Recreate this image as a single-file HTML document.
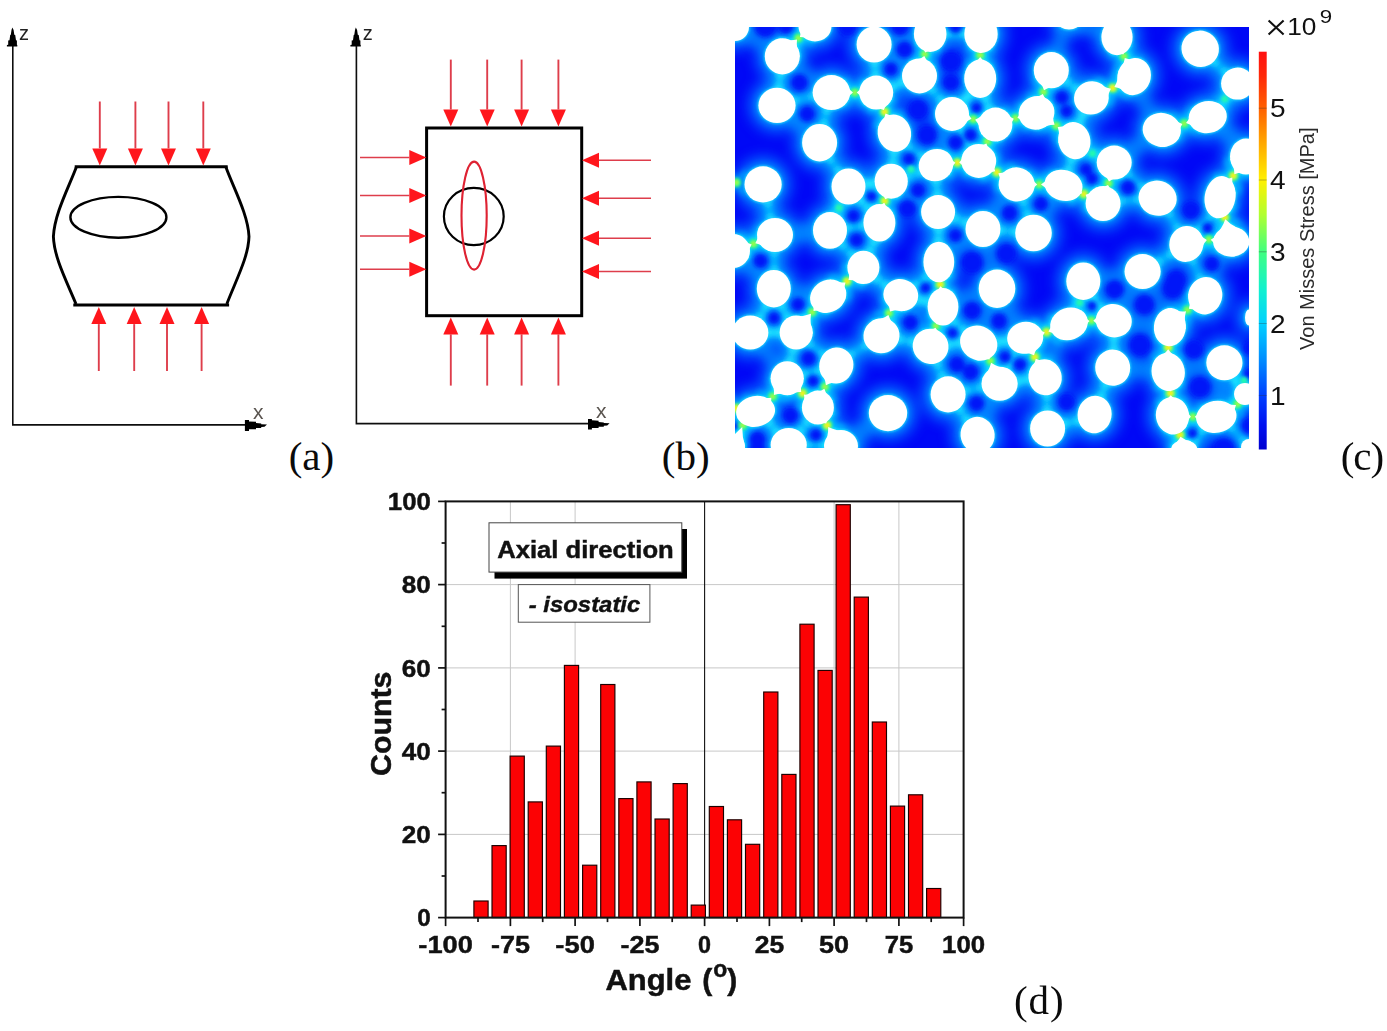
<!DOCTYPE html>
<html><head><meta charset="utf-8"><title>Figure</title>
<style>html,body{margin:0;padding:0;background:#fff;}body{width:1387px;height:1031px;overflow:hidden;font-family:"Liberation Sans", sans-serif;}svg{display:block;}text{font-family:"Liberation Sans", sans-serif;}.ser{font-family:"Liberation Serif", serif;}</style>
</head><body>
<svg width="1387" height="1031" viewBox="0 0 1387 1031">
<defs>
<clipPath id="hm"><rect x="735" y="27" width="514" height="421"/></clipPath>
<filter id="b1" x="-20%" y="-20%" width="140%" height="140%"><feGaussianBlur stdDeviation="6.5"/></filter>
<filter id="b2" x="-20%" y="-20%" width="140%" height="140%"><feGaussianBlur stdDeviation="3.3"/></filter>
<filter id="b3" x="-20%" y="-20%" width="140%" height="140%"><feGaussianBlur stdDeviation="0.6"/></filter>
<filter id="b4" x="-50%" y="-50%" width="200%" height="200%"><feGaussianBlur stdDeviation="1.6"/></filter>
<filter id="b5" x="-20%" y="-20%" width="140%" height="140%"><feGaussianBlur stdDeviation="1.05"/></filter>
<filter id="b6" x="-20%" y="-20%" width="140%" height="140%"><feGaussianBlur stdDeviation="2"/></filter>
<filter id="b7" x="-20%" y="-20%" width="140%" height="140%"><feGaussianBlur stdDeviation="2.4"/></filter>
<filter id="b8" x="-20%" y="-20%" width="140%" height="140%"><feGaussianBlur stdDeviation="4"/></filter>
<filter id="soft" x="-5%" y="-5%" width="110%" height="110%"><feGaussianBlur stdDeviation="0.45"/></filter>
<linearGradient id="cb" x1="0" y1="1" x2="0" y2="0">
<stop offset="0" stop-color="#0000d0"/>
<stop offset="0.06" stop-color="#0010f0"/>
<stop offset="0.136" stop-color="#0040ff"/>
<stop offset="0.23" stop-color="#0090ff"/>
<stop offset="0.316" stop-color="#00d0ff"/>
<stop offset="0.4" stop-color="#10f0d0"/>
<stop offset="0.497" stop-color="#40ff80"/>
<stop offset="0.59" stop-color="#b0ff30"/>
<stop offset="0.677" stop-color="#fff000"/>
<stop offset="0.77" stop-color="#ffa800"/>
<stop offset="0.858" stop-color="#ff6000"/>
<stop offset="0.94" stop-color="#ff2808"/>
<stop offset="1" stop-color="#ff1010"/>
</linearGradient>
</defs>
<rect x="0" y="0" width="1387" height="1031" fill="#fff"/>
<g id="pa" filter="url(#soft)">
<path d="M12.8 46 V424.9 H250" fill="none" stroke="#111" stroke-width="1.6"/>
<polygon points="12.3,27.6 13.6,30 14.3,34.7 15.2,34.9 16,40.3 16.9,40.6 16.9,44.7 17.3,44.9 17.3,46.4 6.9,46.4 6.9,44.9 8.2,44.7 8.2,40.6 9.5,40.3 10.2,34.9 10.8,34.7 11.5,30" fill="#000"/>
<polygon points="244.9,420.1 249,420.1 249,421.4 256,421.8 256,423.1 261.2,423.5 261.2,424.2 267,424.4 264.5,426.8 261.2,426.9 261.2,427.9 256,427.9 256,429.2 249,429.2 249,430.9 244.9,430.9" fill="#000"/>
<text x="19" y="40.4" font-size="20" fill="#222">z</text>
<text x="253.1" y="418.8" font-size="21" fill="#5a5450">x</text>
<path d="M76.2 166.7 H226.2 M74.8 305.1 H227.6" fill="none" stroke="#000" stroke-width="3" stroke-linecap="square"/>
<path d="M76.5 166.7 C68 189 54.5 214 53.4 236.5 C54 257 66 280 76 304" fill="none" stroke="#000" stroke-width="2.9"/>
<path d="M225.8 166.7 C233 187 248 214 249 236.5 C248.5 257 236 280 226.8 304" fill="none" stroke="#000" stroke-width="2.9"/>
<ellipse cx="118.4" cy="217.3" rx="48" ry="20.4" fill="none" stroke="#000" stroke-width="2.4"/>
<line x1="99.8" y1="101.5" x2="99.8" y2="148.4" stroke="#de3e4c" stroke-width="1.9"/>
<polygon points="99.8,165.4 92.3,148.4 107.3,148.4" fill="#ff151d"/>
<line x1="135.4" y1="101.5" x2="135.4" y2="148.4" stroke="#de3e4c" stroke-width="1.9"/>
<polygon points="135.4,165.4 127.9,148.4 142.9,148.4" fill="#ff151d"/>
<line x1="168.5" y1="101.5" x2="168.5" y2="148.4" stroke="#de3e4c" stroke-width="1.9"/>
<polygon points="168.5,165.4 161,148.4 176,148.4" fill="#ff151d"/>
<line x1="203.3" y1="101.5" x2="203.3" y2="148.4" stroke="#de3e4c" stroke-width="1.9"/>
<polygon points="203.3,165.4 195.8,148.4 210.8,148.4" fill="#ff151d"/>
<line x1="98.8" y1="371" x2="98.8" y2="324.1" stroke="#de3e4c" stroke-width="1.9"/>
<polygon points="98.8,307.1 91.3,324.1 106.3,324.1" fill="#ff151d"/>
<line x1="134.2" y1="371" x2="134.2" y2="324.1" stroke="#de3e4c" stroke-width="1.9"/>
<polygon points="134.2,307.1 126.7,324.1 141.7,324.1" fill="#ff151d"/>
<line x1="167" y1="371" x2="167" y2="324.1" stroke="#de3e4c" stroke-width="1.9"/>
<polygon points="167,307.1 159.5,324.1 174.5,324.1" fill="#ff151d"/>
<line x1="201.6" y1="371" x2="201.6" y2="324.1" stroke="#de3e4c" stroke-width="1.9"/>
<polygon points="201.6,307.1 194.1,324.1 209.1,324.1" fill="#ff151d"/>
</g>
<text class="ser" x="288.65" y="469.9" font-size="41" fill="#0a0a0a">(a)</text>
<g id="pb" filter="url(#soft)">
<path d="M356.4 46 V423.6 H592" fill="none" stroke="#111" stroke-width="1.6"/>
<polygon points="355.8,27.6 357.1,30 357.8,34.7 358.7,34.9 359.5,40.3 360.4,40.6 360.4,44.7 360.8,44.9 360.8,46.4 350.4,46.4 350.4,44.9 351.7,44.7 351.7,40.6 353,40.3 353.7,34.9 354.3,34.7 355,30" fill="#000"/>
<polygon points="588,419 591.9,419 591.9,420.3 598.6,420.7 598.6,422.1 603.8,422.4 603.8,423.1 609.6,423.2 607.2,425.5 603.8,425.7 603.8,426.8 598.6,426.8 598.6,428.1 591.9,428.1 591.9,429.6 588,429.6" fill="#000"/>
<text x="362.7" y="40.4" font-size="20" fill="#222">z</text>
<text x="595.9" y="417.7" font-size="21" fill="#5a5450">x</text>
<rect x="426.6" y="128" width="155.1" height="187.7" fill="none" stroke="#000" stroke-width="3"/>
<ellipse cx="473.8" cy="216.5" rx="29.9" ry="28.6" fill="none" stroke="#000" stroke-width="2.2"/>
<ellipse cx="474.1" cy="215.6" rx="12.6" ry="54" fill="none" stroke="#de2030" stroke-width="2.1"/>
<line x1="450.8" y1="59.6" x2="450.8" y2="109.5" stroke="#de3e4c" stroke-width="1.9"/>
<polygon points="450.8,126.5 443.3,109.5 458.3,109.5" fill="#ff151d"/>
<line x1="450.8" y1="385.6" x2="450.8" y2="334.4" stroke="#de3e4c" stroke-width="1.9"/>
<polygon points="450.8,317.4 443.3,334.4 458.3,334.4" fill="#ff151d"/>
<line x1="487.2" y1="59.6" x2="487.2" y2="109.5" stroke="#de3e4c" stroke-width="1.9"/>
<polygon points="487.2,126.5 479.7,109.5 494.7,109.5" fill="#ff151d"/>
<line x1="487.2" y1="385.6" x2="487.2" y2="334.4" stroke="#de3e4c" stroke-width="1.9"/>
<polygon points="487.2,317.4 479.7,334.4 494.7,334.4" fill="#ff151d"/>
<line x1="521.6" y1="59.6" x2="521.6" y2="109.5" stroke="#de3e4c" stroke-width="1.9"/>
<polygon points="521.6,126.5 514.1,109.5 529.1,109.5" fill="#ff151d"/>
<line x1="521.6" y1="385.6" x2="521.6" y2="334.4" stroke="#de3e4c" stroke-width="1.9"/>
<polygon points="521.6,317.4 514.1,334.4 529.1,334.4" fill="#ff151d"/>
<line x1="558.4" y1="59.6" x2="558.4" y2="109.5" stroke="#de3e4c" stroke-width="1.9"/>
<polygon points="558.4,126.5 550.9,109.5 565.9,109.5" fill="#ff151d"/>
<line x1="558.4" y1="385.6" x2="558.4" y2="334.4" stroke="#de3e4c" stroke-width="1.9"/>
<polygon points="558.4,317.4 550.9,334.4 565.9,334.4" fill="#ff151d"/>
<line x1="360" y1="157.4" x2="409.3" y2="157.4" stroke="#de3e4c" stroke-width="1.5"/>
<polygon points="426.3,157.4 409.3,149.9 409.3,164.9" fill="#ff151d"/>
<line x1="360" y1="195.6" x2="409.3" y2="195.6" stroke="#de3e4c" stroke-width="1.5"/>
<polygon points="426.3,195.6 409.3,188.1 409.3,203.1" fill="#ff151d"/>
<line x1="360" y1="236.1" x2="409.3" y2="236.1" stroke="#de3e4c" stroke-width="1.5"/>
<polygon points="426.3,236.1 409.3,228.6 409.3,243.6" fill="#ff151d"/>
<line x1="360" y1="269.2" x2="409.3" y2="269.2" stroke="#de3e4c" stroke-width="1.5"/>
<polygon points="426.3,269.2 409.3,261.7 409.3,276.7" fill="#ff151d"/>
<line x1="651" y1="160.2" x2="599" y2="160.2" stroke="#de3e4c" stroke-width="1.5"/>
<polygon points="582,160.2 599,152.7 599,167.7" fill="#ff151d"/>
<line x1="651" y1="198.3" x2="599" y2="198.3" stroke="#de3e4c" stroke-width="1.5"/>
<polygon points="582,198.3 599,190.8 599,205.8" fill="#ff151d"/>
<line x1="651" y1="238.3" x2="599" y2="238.3" stroke="#de3e4c" stroke-width="1.5"/>
<polygon points="582,238.3 599,230.8 599,245.8" fill="#ff151d"/>
<line x1="651" y1="271.5" x2="599" y2="271.5" stroke="#de3e4c" stroke-width="1.5"/>
<polygon points="582,271.5 599,264 599,279" fill="#ff151d"/>
</g>
<text class="ser" x="661.85" y="469.9" font-size="41" fill="#0a0a0a">(b)</text>
<g id="pc" clip-path="url(#hm)">
<rect x="730" y="22" width="524" height="431" fill="#0008f6"/>
<g filter="url(#b1)" fill="#006cff" opacity="1">
<ellipse cx="735" cy="27" rx="23.5" ry="23.5"/>
<ellipse cx="782.3" cy="56.3" rx="27" ry="27.6"/>
<ellipse cx="815" cy="26.4" rx="26" ry="24.5"/>
<ellipse cx="874.1" cy="44.5" rx="27" ry="27.6"/>
<ellipse cx="930.2" cy="33.9" rx="25.8" ry="27.5"/>
<ellipse cx="981" cy="33.9" rx="26.2" ry="28.5"/>
<ellipse cx="919.5" cy="75.9" rx="27" ry="27"/>
<ellipse cx="980.2" cy="78.7" rx="25.5" ry="28.7"/>
<ellipse cx="777" cy="105.4" rx="28.1" ry="27.2"/>
<ellipse cx="831.4" cy="92.6" rx="28.3" ry="27"/>
<ellipse cx="876.2" cy="92.6" rx="26.5" ry="26.5"/>
<ellipse cx="952" cy="113.9" rx="26.5" ry="26.5"/>
<ellipse cx="995.5" cy="124.6" rx="26.4" ry="26.5"/>
<ellipse cx="819.6" cy="142.7" rx="27" ry="28.3"/>
<ellipse cx="894.4" cy="133.1" rx="26.1" ry="28.3" transform="rotate(-15 894.4 133.1)"/>
<ellipse cx="936" cy="165.1" rx="27" ry="25.5" transform="rotate(-20 936 165.1)"/>
<ellipse cx="978.7" cy="160.9" rx="27" ry="26.5"/>
<ellipse cx="763.1" cy="184.4" rx="28.1" ry="27.6"/>
<ellipse cx="848.5" cy="186.5" rx="26.5" ry="27.6"/>
<ellipse cx="891.2" cy="181.2" rx="26.1" ry="27"/>
<ellipse cx="938.1" cy="212.1" rx="26.5" ry="26.5"/>
<ellipse cx="879.4" cy="222.8" rx="25.5" ry="28.3"/>
<ellipse cx="775" cy="235" rx="27.5" ry="26.5"/>
<ellipse cx="830" cy="230.4" rx="26.5" ry="27.9"/>
<ellipse cx="983" cy="229" rx="27" ry="27.5"/>
<ellipse cx="733" cy="251" rx="26.5" ry="26.5"/>
<ellipse cx="773.8" cy="288.7" rx="26.5" ry="28.3"/>
<ellipse cx="828.2" cy="296.2" rx="28.3" ry="25.5" transform="rotate(-30 828.2 296.2)"/>
<ellipse cx="863.4" cy="267.4" rx="25.5" ry="26.1"/>
<ellipse cx="900.8" cy="295.1" rx="27" ry="25.5" transform="rotate(15 900.8 295.1)"/>
<ellipse cx="938.8" cy="262" rx="24.9" ry="29.8"/>
<ellipse cx="943" cy="306.8" rx="24.9" ry="28.3"/>
<ellipse cx="997" cy="288.7" rx="27.8" ry="28.7"/>
<ellipse cx="750.3" cy="332.5" rx="27.6" ry="26.5"/>
<ellipse cx="796.2" cy="332.5" rx="26.1" ry="26.5"/>
<ellipse cx="881.5" cy="335.7" rx="27.6" ry="27" transform="rotate(-20 881.5 335.7)"/>
<ellipse cx="930.6" cy="346.3" rx="27.6" ry="27" transform="rotate(30 930.6 346.3)"/>
<ellipse cx="978.7" cy="343.1" rx="28.7" ry="26.5" transform="rotate(30 978.7 343.1)"/>
<ellipse cx="836.3" cy="365.5" rx="26.5" ry="27.6" transform="rotate(20 836.3 365.5)"/>
<ellipse cx="787.2" cy="378.3" rx="26.1" ry="26.5"/>
<ellipse cx="948.1" cy="394.4" rx="27" ry="27.6"/>
<ellipse cx="999.6" cy="383.7" rx="27.6" ry="26.5"/>
<ellipse cx="755.6" cy="411.4" rx="29.1" ry="24.9" transform="rotate(-10 755.6 411.4)"/>
<ellipse cx="817.9" cy="407.6" rx="25.5" ry="26.5"/>
<ellipse cx="888" cy="413.1" rx="28.7" ry="27.6"/>
<ellipse cx="977.6" cy="434.9" rx="26.5" ry="27.6" transform="rotate(-15 977.6 434.9)"/>
<ellipse cx="788.7" cy="445" rx="27.6" ry="26.5"/>
<ellipse cx="841" cy="446" rx="26.5" ry="25.5"/>
<ellipse cx="735" cy="448" rx="19.5" ry="23.5"/>
<ellipse cx="1069" cy="23" rx="20.5" ry="16"/>
<ellipse cx="1117" cy="37.1" rx="25.1" ry="27.6"/>
<ellipse cx="1200.2" cy="48.8" rx="28.3" ry="27.6" transform="rotate(20 1200.2 48.8)"/>
<ellipse cx="1051.3" cy="70.2" rx="27" ry="27.6"/>
<ellipse cx="1134.1" cy="76.6" rx="26.1" ry="28.3" transform="rotate(20 1134.1 76.6)"/>
<ellipse cx="1237.6" cy="83.6" rx="26" ry="25.5"/>
<ellipse cx="1091.4" cy="97.9" rx="27" ry="26.1" transform="rotate(-20 1091.4 97.9)"/>
<ellipse cx="1036.5" cy="112.9" rx="27.6" ry="26.1" transform="rotate(-20 1036.5 112.9)"/>
<ellipse cx="1207.7" cy="117.1" rx="28.7" ry="25.5" transform="rotate(-10 1207.7 117.1)"/>
<ellipse cx="1161.8" cy="129.9" rx="28.7" ry="26.5" transform="rotate(10 1161.8 129.9)"/>
<ellipse cx="1074.3" cy="140.6" rx="25.5" ry="28.3" transform="rotate(-15 1074.3 140.6)"/>
<ellipse cx="1114.2" cy="162.6" rx="27" ry="26.5"/>
<ellipse cx="1246" cy="156.6" rx="25.5" ry="27.5"/>
<ellipse cx="1016.7" cy="184.4" rx="27.6" ry="26.5" transform="rotate(10 1016.7 184.4)"/>
<ellipse cx="1063.6" cy="185.4" rx="28.7" ry="24.9" transform="rotate(15 1063.6 185.4)"/>
<ellipse cx="1157.6" cy="198.2" rx="28.7" ry="27" transform="rotate(15 1157.6 198.2)"/>
<ellipse cx="1220.1" cy="197.2" rx="24.9" ry="30.8" transform="rotate(10 1220.1 197.2)"/>
<ellipse cx="1103.1" cy="203.6" rx="27" ry="27"/>
<ellipse cx="1033.5" cy="233" rx="27.8" ry="27.8"/>
<ellipse cx="1186.4" cy="243.9" rx="26.5" ry="27.6" transform="rotate(20 1186.4 243.9)"/>
<ellipse cx="1231.2" cy="241.7" rx="27.6" ry="24.5"/>
<ellipse cx="1083.3" cy="281.2" rx="26.5" ry="28.3"/>
<ellipse cx="1142.6" cy="271.6" rx="27.6" ry="27"/>
<ellipse cx="1205.2" cy="295.7" rx="26.5" ry="28.3" transform="rotate(15 1205.2 295.7)"/>
<ellipse cx="1113.8" cy="320.7" rx="27.6" ry="26.1" transform="rotate(15 1113.8 320.7)"/>
<ellipse cx="1069" cy="323.9" rx="28.7" ry="25.5" transform="rotate(-20 1069 323.9)"/>
<ellipse cx="1025.2" cy="337.8" rx="27.6" ry="25.5" transform="rotate(-10 1025.2 337.8)"/>
<ellipse cx="1169.9" cy="327.1" rx="25.5" ry="28.7" transform="rotate(5 1169.9 327.1)"/>
<ellipse cx="1249" cy="317.5" rx="13.5" ry="17.5"/>
<ellipse cx="1045.1" cy="377.3" rx="26.1" ry="27.6" transform="rotate(-15 1045.1 377.3)"/>
<ellipse cx="1112.7" cy="367.7" rx="27" ry="27.6" transform="rotate(-10 1112.7 367.7)"/>
<ellipse cx="1168.2" cy="371.9" rx="26.1" ry="28.7" transform="rotate(-10 1168.2 371.9)"/>
<ellipse cx="1224.4" cy="362.8" rx="27.6" ry="27"/>
<ellipse cx="1245" cy="394" rx="20.5" ry="20.5"/>
<ellipse cx="1094.6" cy="414.6" rx="26.5" ry="28.3" transform="rotate(10 1094.6 414.6)"/>
<ellipse cx="1047.6" cy="428.5" rx="27" ry="27.6"/>
<ellipse cx="1172.5" cy="415.7" rx="26.1" ry="28.3" transform="rotate(-10 1172.5 415.7)"/>
<ellipse cx="1216.3" cy="416.8" rx="29.8" ry="25.5" transform="rotate(-10 1216.3 416.8)"/>
<ellipse cx="1184.2" cy="449" rx="22.5" ry="18.5"/>
<ellipse cx="1249" cy="447" rx="17.5" ry="17.5"/>
</g>
<g filter="url(#b2)" fill="#0098ff" opacity="0.85">
<ellipse cx="735" cy="27" rx="16.2" ry="16.2"/>
<ellipse cx="782.3" cy="56.3" rx="19.7" ry="20.3"/>
<ellipse cx="815" cy="26.4" rx="18.7" ry="17.2"/>
<ellipse cx="874.1" cy="44.5" rx="19.7" ry="20.3"/>
<ellipse cx="930.2" cy="33.9" rx="18.5" ry="20.2"/>
<ellipse cx="981" cy="33.9" rx="18.9" ry="21.2"/>
<ellipse cx="919.5" cy="75.9" rx="19.7" ry="19.7"/>
<ellipse cx="980.2" cy="78.7" rx="18.2" ry="21.4"/>
<ellipse cx="777" cy="105.4" rx="20.8" ry="19.9"/>
<ellipse cx="831.4" cy="92.6" rx="21" ry="19.7"/>
<ellipse cx="876.2" cy="92.6" rx="19.2" ry="19.2"/>
<ellipse cx="952" cy="113.9" rx="19.2" ry="19.2"/>
<ellipse cx="995.5" cy="124.6" rx="19.1" ry="19.2"/>
<ellipse cx="819.6" cy="142.7" rx="19.7" ry="21"/>
<ellipse cx="894.4" cy="133.1" rx="18.8" ry="21" transform="rotate(-15 894.4 133.1)"/>
<ellipse cx="936" cy="165.1" rx="19.7" ry="18.2" transform="rotate(-20 936 165.1)"/>
<ellipse cx="978.7" cy="160.9" rx="19.7" ry="19.2"/>
<ellipse cx="763.1" cy="184.4" rx="20.8" ry="20.3"/>
<ellipse cx="848.5" cy="186.5" rx="19.2" ry="20.3"/>
<ellipse cx="891.2" cy="181.2" rx="18.8" ry="19.7"/>
<ellipse cx="938.1" cy="212.1" rx="19.2" ry="19.2"/>
<ellipse cx="879.4" cy="222.8" rx="18.2" ry="21"/>
<ellipse cx="775" cy="235" rx="20.2" ry="19.2"/>
<ellipse cx="830" cy="230.4" rx="19.2" ry="20.6"/>
<ellipse cx="983" cy="229" rx="19.7" ry="20.2"/>
<ellipse cx="733" cy="251" rx="19.2" ry="19.2"/>
<ellipse cx="773.8" cy="288.7" rx="19.2" ry="21"/>
<ellipse cx="828.2" cy="296.2" rx="21" ry="18.2" transform="rotate(-30 828.2 296.2)"/>
<ellipse cx="863.4" cy="267.4" rx="18.2" ry="18.8"/>
<ellipse cx="900.8" cy="295.1" rx="19.7" ry="18.2" transform="rotate(15 900.8 295.1)"/>
<ellipse cx="938.8" cy="262" rx="17.6" ry="22.5"/>
<ellipse cx="943" cy="306.8" rx="17.6" ry="21"/>
<ellipse cx="997" cy="288.7" rx="20.5" ry="21.4"/>
<ellipse cx="750.3" cy="332.5" rx="20.3" ry="19.2"/>
<ellipse cx="796.2" cy="332.5" rx="18.8" ry="19.2"/>
<ellipse cx="881.5" cy="335.7" rx="20.3" ry="19.7" transform="rotate(-20 881.5 335.7)"/>
<ellipse cx="930.6" cy="346.3" rx="20.3" ry="19.7" transform="rotate(30 930.6 346.3)"/>
<ellipse cx="978.7" cy="343.1" rx="21.4" ry="19.2" transform="rotate(30 978.7 343.1)"/>
<ellipse cx="836.3" cy="365.5" rx="19.2" ry="20.3" transform="rotate(20 836.3 365.5)"/>
<ellipse cx="787.2" cy="378.3" rx="18.8" ry="19.2"/>
<ellipse cx="948.1" cy="394.4" rx="19.7" ry="20.3"/>
<ellipse cx="999.6" cy="383.7" rx="20.3" ry="19.2"/>
<ellipse cx="755.6" cy="411.4" rx="21.8" ry="17.6" transform="rotate(-10 755.6 411.4)"/>
<ellipse cx="817.9" cy="407.6" rx="18.2" ry="19.2"/>
<ellipse cx="888" cy="413.1" rx="21.4" ry="20.3"/>
<ellipse cx="977.6" cy="434.9" rx="19.2" ry="20.3" transform="rotate(-15 977.6 434.9)"/>
<ellipse cx="788.7" cy="445" rx="20.3" ry="19.2"/>
<ellipse cx="841" cy="446" rx="19.2" ry="18.2"/>
<ellipse cx="735" cy="448" rx="12.2" ry="16.2"/>
<ellipse cx="1069" cy="23" rx="13.2" ry="8.7"/>
<ellipse cx="1117" cy="37.1" rx="17.8" ry="20.3"/>
<ellipse cx="1200.2" cy="48.8" rx="21" ry="20.3" transform="rotate(20 1200.2 48.8)"/>
<ellipse cx="1051.3" cy="70.2" rx="19.7" ry="20.3"/>
<ellipse cx="1134.1" cy="76.6" rx="18.8" ry="21" transform="rotate(20 1134.1 76.6)"/>
<ellipse cx="1237.6" cy="83.6" rx="18.7" ry="18.2"/>
<ellipse cx="1091.4" cy="97.9" rx="19.7" ry="18.8" transform="rotate(-20 1091.4 97.9)"/>
<ellipse cx="1036.5" cy="112.9" rx="20.3" ry="18.8" transform="rotate(-20 1036.5 112.9)"/>
<ellipse cx="1207.7" cy="117.1" rx="21.4" ry="18.2" transform="rotate(-10 1207.7 117.1)"/>
<ellipse cx="1161.8" cy="129.9" rx="21.4" ry="19.2" transform="rotate(10 1161.8 129.9)"/>
<ellipse cx="1074.3" cy="140.6" rx="18.2" ry="21" transform="rotate(-15 1074.3 140.6)"/>
<ellipse cx="1114.2" cy="162.6" rx="19.7" ry="19.2"/>
<ellipse cx="1246" cy="156.6" rx="18.2" ry="20.2"/>
<ellipse cx="1016.7" cy="184.4" rx="20.3" ry="19.2" transform="rotate(10 1016.7 184.4)"/>
<ellipse cx="1063.6" cy="185.4" rx="21.4" ry="17.6" transform="rotate(15 1063.6 185.4)"/>
<ellipse cx="1157.6" cy="198.2" rx="21.4" ry="19.7" transform="rotate(15 1157.6 198.2)"/>
<ellipse cx="1220.1" cy="197.2" rx="17.6" ry="23.5" transform="rotate(10 1220.1 197.2)"/>
<ellipse cx="1103.1" cy="203.6" rx="19.7" ry="19.7"/>
<ellipse cx="1033.5" cy="233" rx="20.5" ry="20.5"/>
<ellipse cx="1186.4" cy="243.9" rx="19.2" ry="20.3" transform="rotate(20 1186.4 243.9)"/>
<ellipse cx="1231.2" cy="241.7" rx="20.3" ry="17.2"/>
<ellipse cx="1083.3" cy="281.2" rx="19.2" ry="21"/>
<ellipse cx="1142.6" cy="271.6" rx="20.3" ry="19.7"/>
<ellipse cx="1205.2" cy="295.7" rx="19.2" ry="21" transform="rotate(15 1205.2 295.7)"/>
<ellipse cx="1113.8" cy="320.7" rx="20.3" ry="18.8" transform="rotate(15 1113.8 320.7)"/>
<ellipse cx="1069" cy="323.9" rx="21.4" ry="18.2" transform="rotate(-20 1069 323.9)"/>
<ellipse cx="1025.2" cy="337.8" rx="20.3" ry="18.2" transform="rotate(-10 1025.2 337.8)"/>
<ellipse cx="1169.9" cy="327.1" rx="18.2" ry="21.4" transform="rotate(5 1169.9 327.1)"/>
<ellipse cx="1249" cy="317.5" rx="6.2" ry="10.2"/>
<ellipse cx="1045.1" cy="377.3" rx="18.8" ry="20.3" transform="rotate(-15 1045.1 377.3)"/>
<ellipse cx="1112.7" cy="367.7" rx="19.7" ry="20.3" transform="rotate(-10 1112.7 367.7)"/>
<ellipse cx="1168.2" cy="371.9" rx="18.8" ry="21.4" transform="rotate(-10 1168.2 371.9)"/>
<ellipse cx="1224.4" cy="362.8" rx="20.3" ry="19.7"/>
<ellipse cx="1245" cy="394" rx="13.2" ry="13.2"/>
<ellipse cx="1094.6" cy="414.6" rx="19.2" ry="21" transform="rotate(10 1094.6 414.6)"/>
<ellipse cx="1047.6" cy="428.5" rx="19.7" ry="20.3"/>
<ellipse cx="1172.5" cy="415.7" rx="18.8" ry="21" transform="rotate(-10 1172.5 415.7)"/>
<ellipse cx="1216.3" cy="416.8" rx="22.5" ry="18.2" transform="rotate(-10 1216.3 416.8)"/>
<ellipse cx="1184.2" cy="449" rx="15.2" ry="11.2"/>
<ellipse cx="1249" cy="447" rx="10.2" ry="10.2"/>
<path d="M798.8 23.4 Q801.6 30.6 799.9 37.0 Q806.5 37.0 812.5 41.2 L815.0 26.4 Z" stroke="#00acff" stroke-width="8" stroke-linejoin="round"/>
<path d="M799.8 56.6 Q796.0 48.0 797.0 39.5 Q788.7 41.5 779.7 38.4 L782.3 56.3 Z" stroke="#00acff" stroke-width="8" stroke-linejoin="round"/>
<path d="M916.6 43.8 Q922.8 46.7 925.2 52.4 Q930.2 49.0 937.3 50.1 L930.2 33.9 Z" stroke="#00acff" stroke-width="8" stroke-linejoin="round"/>
<path d="M934.5 66.8 Q927.3 62.7 924.3 56.0 Q918.6 60.6 910.3 61.0 L919.5 75.9 Z" stroke="#00acff" stroke-width="8" stroke-linejoin="round"/>
<path d="M970.4 48.5 Q976.8 48.9 980.3 53.3 Q984.1 49.2 990.6 49.4 L981.0 33.9 Z" stroke="#00acff" stroke-width="8" stroke-linejoin="round"/>
<path d="M992.0 65.7 Q984.4 63.2 980.2 57.1 Q976.0 63.2 968.4 65.7 L980.2 78.7 Z" stroke="#00acff" stroke-width="8" stroke-linejoin="round"/>
<path d="M864.0 80.8 Q862.1 88.4 856.8 92.6 Q862.1 96.8 864.0 104.4 L876.2 92.6 Z" stroke="#00acff" stroke-width="8" stroke-linejoin="round"/>
<path d="M844.5 105.1 Q846.9 97.1 853.0 92.6 Q846.9 88.1 844.5 80.1 L831.4 92.6 Z" stroke="#00acff" stroke-width="8" stroke-linejoin="round"/>
<path d="M870.7 108.7 Q878.1 107.1 883.9 110.1 Q885.7 103.8 891.8 99.3 L876.2 92.6 Z" stroke="#00acff" stroke-width="8" stroke-linejoin="round"/>
<path d="M900.3 116.1 Q892.1 117.2 885.5 113.5 Q884.2 121.0 878.3 126.7 L894.4 133.1 Z" stroke="#00acff" stroke-width="8" stroke-linejoin="round"/>
<path d="M960.4 128.7 Q964.8 121.7 971.5 118.8 Q966.9 113.1 966.4 104.9 L952.0 113.9 Z" stroke="#00acff" stroke-width="8" stroke-linejoin="round"/>
<path d="M987.7 109.5 Q982.5 116.7 975.1 119.7 Q980.4 125.7 981.7 134.5 L995.5 124.6 Z" stroke="#00acff" stroke-width="8" stroke-linejoin="round"/>
<path d="M980.9 133.2 Q986.5 135.4 988.0 140.0 Q992.6 138.4 997.8 141.4 L995.5 124.6 Z" stroke="#00acff" stroke-width="8" stroke-linejoin="round"/>
<path d="M994.7 153.9 Q988.3 149.7 986.4 143.4 Q980.6 146.4 973.3 144.7 L978.7 160.9 Z" stroke="#00acff" stroke-width="8" stroke-linejoin="round"/>
<path d="M965.0 150.3 Q964.0 157.9 959.2 162.4 Q964.7 166.2 966.9 173.5 L978.7 160.9 Z" stroke="#00acff" stroke-width="8" stroke-linejoin="round"/>
<path d="M949.3 174.7 Q950.5 167.4 955.4 162.8 Q949.7 159.3 947.2 152.1 L936.0 165.1 Z" stroke="#00acff" stroke-width="8" stroke-linejoin="round"/>
<path d="M983.1 177.3 Q988.5 172.0 995.2 171.3 Q993.1 165.0 995.9 157.7 L978.7 160.9 Z" stroke="#00acff" stroke-width="8" stroke-linejoin="round"/>
<path d="M1013.1 167.6 Q1006.3 172.8 998.4 173.3 Q1001.3 180.5 999.4 189.1 L1016.7 184.4 Z" stroke="#00acff" stroke-width="8" stroke-linejoin="round"/>
<path d="M876.9 190.0 Q883.1 193.4 885.3 199.2 Q890.6 196.0 897.7 197.3 L891.2 181.2 Z" stroke="#00acff" stroke-width="8" stroke-linejoin="round"/>
<path d="M893.1 213.0 Q886.8 209.3 884.3 202.8 Q878.8 207.0 871.1 206.7 L879.4 222.8 Z" stroke="#00acff" stroke-width="8" stroke-linejoin="round"/>
<path d="M1111.9 54.2 Q1118.3 52.0 1123.3 54.5 Q1125.1 49.0 1130.6 46.0 L1117.0 37.1 Z" stroke="#00acff" stroke-width="8" stroke-linejoin="round"/>
<path d="M1140.4 58.9 Q1131.8 60.9 1124.8 58.0 Q1123.8 65.5 1118.3 71.6 L1134.1 76.6 Z" stroke="#00acff" stroke-width="8" stroke-linejoin="round"/>
<path d="M1107.0 104.8 Q1106.8 95.8 1111.0 88.7 Q1102.9 87.5 1096.1 81.7 L1091.4 97.9 Z" stroke="#00acff" stroke-width="8" stroke-linejoin="round"/>
<path d="M1118.7 70.4 Q1118.7 79.6 1114.4 87.0 Q1122.8 88.4 1130.1 94.9 L1134.1 76.6 Z" stroke="#00acff" stroke-width="8" stroke-linejoin="round"/>
<path d="M1052.7 104.9 Q1045.5 100.5 1042.8 93.9 Q1036.9 98.1 1028.9 98.1 L1036.5 112.9 Z" stroke="#00acff" stroke-width="8" stroke-linejoin="round"/>
<path d="M1035.2 77.4 Q1041.9 82.8 1044.0 90.3 Q1050.5 86.1 1059.3 86.3 L1051.3 70.2 Z" stroke="#00acff" stroke-width="8" stroke-linejoin="round"/>
<path d="M1020.9 105.4 Q1021.4 112.6 1017.4 117.7 Q1023.3 120.4 1026.2 127.1 L1036.5 112.9 Z" stroke="#00acff" stroke-width="8" stroke-linejoin="round"/>
<path d="M1010.7 132.0 Q1010.1 124.4 1013.8 118.8 Q1007.6 116.3 1003.7 109.7 L995.5 124.6 Z" stroke="#00acff" stroke-width="8" stroke-linejoin="round"/>
<path d="M1073.4 122.0 Q1065.7 127.1 1057.7 126.9 Q1060.3 134.6 1058.4 142.9 L1074.3 140.6 Z" stroke="#00acff" stroke-width="8" stroke-linejoin="round"/>
<path d="M1038.5 129.5 Q1046.3 124.7 1054.6 124.7 Q1051.8 116.9 1053.8 107.6 L1036.5 112.9 Z" stroke="#00acff" stroke-width="8" stroke-linejoin="round"/>
<path d="M1117.5 193.7 Q1110.7 190.8 1108.0 185.1 Q1102.8 188.7 1095.5 187.8 L1103.1 203.6 Z" stroke="#00acff" stroke-width="8" stroke-linejoin="round"/>
<path d="M1099.2 171.3 Q1106.2 175.2 1109.0 181.5 Q1114.6 177.4 1122.5 177.6 L1114.2 162.6 Z" stroke="#00acff" stroke-width="8" stroke-linejoin="round"/>
<path d="M1072.2 200.1 Q1076.0 194.6 1082.2 193.3 Q1079.2 187.8 1081.1 181.1 L1063.6 185.4 Z" stroke="#00acff" stroke-width="8" stroke-linejoin="round"/>
<path d="M1096.8 187.3 Q1092.1 193.4 1085.6 194.8 Q1088.3 200.9 1086.3 208.3 L1103.1 203.6 Z" stroke="#00acff" stroke-width="8" stroke-linejoin="round"/>
<path d="M1029.7 196.5 Q1031.6 188.8 1037.2 184.4 Q1031.5 180.1 1029.4 172.5 L1016.7 184.4 Z" stroke="#00acff" stroke-width="8" stroke-linejoin="round"/>
<path d="M1051.9 172.1 Q1048.1 180.1 1041.0 184.5 Q1048.1 189.0 1051.9 196.6 L1063.6 185.4 Z" stroke="#00acff" stroke-width="8" stroke-linejoin="round"/>
<path d="M1178.6 138.7 Q1178.1 130.1 1182.4 124.0 Q1175.2 121.6 1170.6 115.1 L1161.8 129.9 Z" stroke="#00acff" stroke-width="8" stroke-linejoin="round"/>
<path d="M1192.4 108.3 Q1191.3 116.9 1186.0 123.0 Q1193.8 125.4 1199.2 131.9 L1207.7 117.1 Z" stroke="#00acff" stroke-width="8" stroke-linejoin="round"/>
<path d="M1235.7 193.2 Q1231.8 185.9 1232.3 177.4 Q1224.7 180.3 1215.9 177.6 L1220.1 197.2 Z" stroke="#00acff" stroke-width="8" stroke-linejoin="round"/>
<path d="M1230.1 158.9 Q1234.5 166.3 1234.3 174.2 Q1241.8 171.6 1250.5 173.9 L1246.0 156.6 Z" stroke="#00acff" stroke-width="8" stroke-linejoin="round"/>
<path d="M1216.5 218.2 Q1220.9 213.9 1224.4 215.5 Q1225.9 211.5 1230.4 211.4 L1220.1 197.2 Z" stroke="#00acff" stroke-width="8" stroke-linejoin="round"/>
<path d="M1242.8 230.2 Q1232.4 226.3 1225.3 219.2 Q1222.1 228.8 1214.0 237.0 L1231.2 241.7 Z" stroke="#00acff" stroke-width="8" stroke-linejoin="round"/>
<path d="M1220.7 229.5 Q1217.1 236.3 1210.7 239.7 Q1216.2 244.4 1218.0 252.0 L1231.2 241.7 Z" stroke="#00acff" stroke-width="8" stroke-linejoin="round"/>
<path d="M1200.1 254.1 Q1201.6 245.5 1206.9 239.9 Q1200.0 236.3 1195.7 228.5 L1186.4 243.9 Z" stroke="#00acff" stroke-width="8" stroke-linejoin="round"/>
<path d="M748.3 258.5 Q747.8 250.5 751.7 244.5 Q745.0 242.2 740.3 235.7 L733.0 251.0 Z" stroke="#00acff" stroke-width="8" stroke-linejoin="round"/>
<path d="M758.8 227.7 Q759.3 236.4 755.3 243.2 Q762.9 244.9 768.9 251.0 L775.0 235.0 Z" stroke="#00acff" stroke-width="8" stroke-linejoin="round"/>
<path d="M847.5 265.3 Q850.2 272.9 848.5 280.0 Q855.7 279.7 862.7 284.0 L863.4 267.4 Z" stroke="#00acff" stroke-width="8" stroke-linejoin="round"/>
<path d="M845.7 298.4 Q843.1 290.1 845.5 282.4 Q837.5 283.3 829.9 279.5 L828.2 296.2 Z" stroke="#00acff" stroke-width="8" stroke-linejoin="round"/>
<path d="M929.8 278.5 Q936.2 278.2 940.1 282.5 Q943.3 277.5 949.4 276.7 L938.8 262.0 Z" stroke="#00acff" stroke-width="8" stroke-linejoin="round"/>
<path d="M952.7 292.2 Q945.2 291.3 940.4 286.3 Q937.3 292.5 930.6 295.6 L943.0 306.8 Z" stroke="#00acff" stroke-width="8" stroke-linejoin="round"/>
<path d="M929.8 316.6 Q935.1 319.0 936.7 324.2 Q941.4 322.0 947.3 324.9 L943.0 306.8 Z" stroke="#00acff" stroke-width="8" stroke-linejoin="round"/>
<path d="M945.0 336.2 Q938.3 333.4 935.5 327.8 Q930.3 331.2 922.9 330.1 L930.6 346.3 Z" stroke="#00acff" stroke-width="8" stroke-linejoin="round"/>
<path d="M883.7 297.6 Q889.3 304.3 890.0 311.6 Q897.0 309.0 905.2 310.9 L900.8 295.1 Z" stroke="#00acff" stroke-width="8" stroke-linejoin="round"/>
<path d="M898.2 328.6 Q890.9 322.8 888.4 315.0 Q881.8 319.9 872.7 320.5 L881.5 335.7 Z" stroke="#00acff" stroke-width="8" stroke-linejoin="round"/>
<path d="M810.1 297.2 Q814.4 303.9 813.5 310.9 Q820.5 309.5 827.3 312.9 L828.2 296.2 Z" stroke="#00acff" stroke-width="8" stroke-linejoin="round"/>
<path d="M812.8 333.8 Q809.6 323.6 811.0 313.7 Q801.7 317.3 791.0 316.4 L796.2 332.5 Z" stroke="#00acff" stroke-width="8" stroke-linejoin="round"/>
<path d="M977.8 360.5 Q983.7 357.5 989.4 359.4 Q990.5 353.7 996.6 349.9 L978.7 343.1 Z" stroke="#00acff" stroke-width="8" stroke-linejoin="round"/>
<path d="M1008.3 368.8 Q998.5 367.9 991.1 362.8 Q989.1 371.5 982.2 378.9 L999.6 383.7 Z" stroke="#00acff" stroke-width="8" stroke-linejoin="round"/>
<path d="M832.6 400.8 Q826.4 395.7 824.4 388.7 Q818.4 392.8 810.2 392.7 L817.9 407.6 Z" stroke="#00acff" stroke-width="8" stroke-linejoin="round"/>
<path d="M819.5 369.6 Q825.0 376.8 825.9 385.2 Q833.3 381.3 842.5 382.0 L836.3 365.5 Z" stroke="#00acff" stroke-width="8" stroke-linejoin="round"/>
<path d="M817.4 390.6 Q810.8 395.0 804.0 394.6 Q805.2 401.3 801.9 408.2 L817.9 407.6 Z" stroke="#00acff" stroke-width="8" stroke-linejoin="round"/>
<path d="M787.3 395.3 Q794.2 391.3 801.2 392.0 Q800.2 385.0 803.8 377.9 L787.2 378.3 Z" stroke="#00acff" stroke-width="8" stroke-linejoin="round"/>
<path d="M774.9 412.3 Q770.4 404.9 771.3 397.7 Q763.9 399.0 757.0 395.9 L755.6 411.4 Z" stroke="#00acff" stroke-width="8" stroke-linejoin="round"/>
<path d="M770.6 378.6 Q774.6 386.8 773.9 395.0 Q781.8 392.6 790.7 394.9 L787.2 378.3 Z" stroke="#00acff" stroke-width="8" stroke-linejoin="round"/>
<path d="M814.3 424.2 Q820.8 421.6 826.2 423.6 Q827.4 417.9 832.8 413.9 L817.9 407.6 Z" stroke="#00acff" stroke-width="8" stroke-linejoin="round"/>
<path d="M847.1 431.1 Q836.8 431.1 828.2 426.9 Q828.5 436.4 824.0 446.0 L841.0 446.0 Z" stroke="#00acff" stroke-width="8" stroke-linejoin="round"/>
<path d="M737.3 418.0 Q743.3 420.0 744.1 423.9 Q748.3 423.2 751.4 426.8 L755.6 411.4 Z" stroke="#00acff" stroke-width="8" stroke-linejoin="round"/>
<path d="M745.0 446.6 Q742.2 437.0 742.2 427.1 Q735.7 434.6 726.9 439.7 L735.0 448.0 Z" stroke="#00acff" stroke-width="8" stroke-linejoin="round"/>
<path d="M1083.5 332.8 Q1084.5 325.6 1089.5 321.0 Q1083.7 317.5 1081.3 310.3 L1069.0 323.9 Z" stroke="#00acff" stroke-width="8" stroke-linejoin="round"/>
<path d="M1100.9 308.5 Q1098.9 316.3 1093.3 320.7 Q1099.1 324.9 1101.5 332.4 L1113.8 320.7 Z" stroke="#00acff" stroke-width="8" stroke-linejoin="round"/>
<path d="M1040.6 345.7 Q1040.5 338.0 1044.8 332.5 Q1038.3 330.0 1034.3 323.6 L1025.2 337.8 Z" stroke="#00acff" stroke-width="8" stroke-linejoin="round"/>
<path d="M1052.9 317.0 Q1052.9 325.1 1048.4 331.4 Q1055.8 333.2 1061.1 339.5 L1069.0 323.9 Z" stroke="#00acff" stroke-width="8" stroke-linejoin="round"/>
<path d="M1050.4 360.5 Q1042.3 361.9 1035.7 358.7 Q1034.6 366.0 1029.0 371.9 L1045.1 377.3 Z" stroke="#00acff" stroke-width="8" stroke-linejoin="round"/>
<path d="M1019.1 353.1 Q1027.4 352.1 1034.0 355.3 Q1035.7 348.2 1042.2 342.5 L1025.2 337.8 Z" stroke="#00acff" stroke-width="8" stroke-linejoin="round"/>
<path d="M1188.2 294.0 Q1190.9 301.7 1188.9 308.8 Q1196.2 309.0 1203.0 314.3 L1205.2 295.7 Z" stroke="#00acff" stroke-width="8" stroke-linejoin="round"/>
<path d="M1185.8 328.9 Q1183.7 319.9 1186.0 311.3 Q1177.4 312.4 1168.2 308.1 L1169.9 327.1 Z" stroke="#00acff" stroke-width="8" stroke-linejoin="round"/>
<path d="M1160.4 342.9 Q1165.7 342.0 1168.4 345.5 Q1171.6 342.5 1176.7 344.2 L1169.9 327.1 Z" stroke="#00acff" stroke-width="8" stroke-linejoin="round"/>
<path d="M1180.6 359.8 Q1172.7 356.2 1168.2 349.3 Q1163.5 356.0 1155.2 359.2 L1168.2 371.9 Z" stroke="#00acff" stroke-width="8" stroke-linejoin="round"/>
<path d="M1159.7 387.9 Q1166.2 387.4 1170.2 391.4 Q1173.4 386.8 1180.0 386.1 L1168.2 371.9 Z" stroke="#00acff" stroke-width="8" stroke-linejoin="round"/>
<path d="M1182.6 401.3 Q1175.2 400.3 1170.6 395.2 Q1166.9 400.9 1159.7 403.1 L1172.5 415.7 Z" stroke="#00acff" stroke-width="8" stroke-linejoin="round"/>
<path d="M1202.5 406.0 Q1200.5 412.9 1194.7 416.8 Q1200.1 421.0 1201.3 428.5 L1216.3 416.8 Z" stroke="#00acff" stroke-width="8" stroke-linejoin="round"/>
<path d="M1185.3 428.4 Q1186.3 420.8 1190.9 416.7 Q1186.5 412.4 1185.8 405.1 L1172.5 415.7 Z" stroke="#00acff" stroke-width="8" stroke-linejoin="round"/>
<path d="M1234.6 397.5 Q1238.1 399.5 1238.7 402.5 Q1241.7 402.2 1244.7 405.0 L1245.0 394.0 Z" stroke="#00acff" stroke-width="8" stroke-linejoin="round"/>
<path d="M1235.1 421.5 Q1232.9 412.6 1236.0 405.0 Q1227.6 405.1 1220.3 400.8 L1216.3 416.8 Z" stroke="#00acff" stroke-width="8" stroke-linejoin="round"/>
<path d="M1169.2 433.9 Q1174.7 431.0 1179.3 433.1 Q1181.0 428.2 1186.6 426.3 L1172.5 415.7 Z" stroke="#00acff" stroke-width="8" stroke-linejoin="round"/>
<path d="M1191.0 441.3 Q1184.8 440.1 1180.5 436.7 Q1178.0 441.7 1172.1 445.7 L1184.2 449.0 Z" stroke="#00acff" stroke-width="8" stroke-linejoin="round"/>
</g>
<g filter="url(#b8)" stroke-linecap="butt" fill="none">
<line x1="744.3" y1="32.9" x2="770.0" y2="48.2" stroke="#0094ff" stroke-width="14.6" opacity="0.59"/>
<line x1="792.8" y1="45.9" x2="804.5" y2="33.9" stroke="#0094ff" stroke-width="18.7" opacity="0.81"/>
<line x1="780.8" y1="71.3" x2="778.6" y2="90.8" stroke="#0094ff" stroke-width="17.8" opacity="0.76"/>
<line x1="794.1" y1="65.1" x2="818.6" y2="84.2" stroke="#0094ff" stroke-width="14.3" opacity="0.57"/>
<line x1="888.5" y1="42.5" x2="917.2" y2="37.1" stroke="#0094ff" stroke-width="14.9" opacity="0.60"/>
<line x1="885.8" y1="53.4" x2="907.1" y2="68.3" stroke="#0094ff" stroke-width="15.8" opacity="0.65"/>
<line x1="874.5" y1="59.6" x2="875.8" y2="78.6" stroke="#0094ff" stroke-width="18.0" opacity="0.77"/>
<line x1="943.5" y1="33.9" x2="967.3" y2="33.9" stroke="#0094ff" stroke-width="16.5" opacity="0.69"/>
<line x1="927.2" y1="48.5" x2="922.8" y2="61.8" stroke="#0094ff" stroke-width="19.5" opacity="0.86"/>
<line x1="980.3" y1="49.9" x2="980.9" y2="62.5" stroke="#0094ff" stroke-width="20.0" opacity="0.89"/>
<line x1="905.8" y1="80.7" x2="889.4" y2="88.0" stroke="#0094ff" stroke-width="18.3" opacity="0.79"/>
<line x1="929.2" y1="86.7" x2="943.5" y2="102.7" stroke="#0094ff" stroke-width="17.2" opacity="0.73"/>
<line x1="972.4" y1="91.6" x2="961.3" y2="103.5" stroke="#0094ff" stroke-width="18.9" opacity="0.82"/>
<line x1="984.2" y1="94.1" x2="990.1" y2="111.7" stroke="#0094ff" stroke-width="18.1" opacity="0.78"/>
<line x1="792.0" y1="101.2" x2="815.9" y2="95.5" stroke="#0094ff" stroke-width="16.3" opacity="0.68"/>
<line x1="788.9" y1="114.9" x2="809.3" y2="131.5" stroke="#0094ff" stroke-width="15.7" opacity="0.65"/>
<line x1="847.2" y1="92.6" x2="862.2" y2="92.6" stroke="#0094ff" stroke-width="19.2" opacity="0.84"/>
<line x1="827.4" y1="106.6" x2="823.2" y2="127.4" stroke="#0094ff" stroke-width="17.3" opacity="0.74"/>
<line x1="882.6" y1="105.1" x2="887.9" y2="118.8" stroke="#0094ff" stroke-width="19.3" opacity="0.85"/>
<line x1="965.7" y1="116.8" x2="982.2" y2="120.6" stroke="#0094ff" stroke-width="18.6" opacity="0.81"/>
<line x1="948.8" y1="127.5" x2="940.9" y2="152.4" stroke="#0094ff" stroke-width="15.8" opacity="0.65"/>
<line x1="959.1" y1="126.0" x2="971.4" y2="148.8" stroke="#0094ff" stroke-width="15.9" opacity="0.65"/>
<line x1="990.6" y1="137.7" x2="985.0" y2="148.3" stroke="#0094ff" stroke-width="20.2" opacity="0.90"/>
<line x1="1008.8" y1="120.7" x2="1022.0" y2="117.2" stroke="#0094ff" stroke-width="19.6" opacity="0.87"/>
<line x1="827.6" y1="155.9" x2="840.8" y2="173.9" stroke="#0094ff" stroke-width="17.0" opacity="0.72"/>
<line x1="904.9" y1="144.1" x2="924.7" y2="157.7" stroke="#0094ff" stroke-width="16.4" opacity="0.69"/>
<line x1="894.4" y1="148.7" x2="892.7" y2="166.8" stroke="#0094ff" stroke-width="18.3" opacity="0.79"/>
<line x1="950.2" y1="162.5" x2="964.2" y2="162.0" stroke="#0094ff" stroke-width="19.5" opacity="0.86"/>
<line x1="922.4" y1="170.2" x2="903.9" y2="176.1" stroke="#0094ff" stroke-width="17.9" opacity="0.77"/>
<line x1="935.8" y1="178.3" x2="937.8" y2="198.1" stroke="#0094ff" stroke-width="17.7" opacity="0.76"/>
<line x1="991.0" y1="168.4" x2="1004.2" y2="176.3" stroke="#0094ff" stroke-width="19.1" opacity="0.84"/>
<line x1="767.1" y1="199.0" x2="771.2" y2="221.5" stroke="#0094ff" stroke-width="16.8" opacity="0.71"/>
<line x1="862.3" y1="184.1" x2="877.8" y2="183.5" stroke="#0094ff" stroke-width="19.1" opacity="0.84"/>
<line x1="857.8" y1="197.8" x2="870.8" y2="211.0" stroke="#0094ff" stroke-width="18.1" opacity="0.78"/>
<line x1="842.3" y1="200.0" x2="835.2" y2="216.1" stroke="#0094ff" stroke-width="18.4" opacity="0.80"/>
<line x1="902.1" y1="189.9" x2="926.2" y2="204.7" stroke="#0094ff" stroke-width="15.1" opacity="0.61"/>
<line x1="887.2" y1="195.1" x2="882.1" y2="207.3" stroke="#0094ff" stroke-width="19.8" opacity="0.87"/>
<line x1="951.3" y1="216.8" x2="969.3" y2="223.9" stroke="#0094ff" stroke-width="17.9" opacity="0.77"/>
<line x1="938.8" y1="226.1" x2="938.2" y2="244.7" stroke="#0094ff" stroke-width="18.1" opacity="0.78"/>
<line x1="866.5" y1="225.0" x2="843.9" y2="228.3" stroke="#0094ff" stroke-width="16.8" opacity="0.71"/>
<line x1="875.7" y1="237.9" x2="868.2" y2="254.7" stroke="#0094ff" stroke-width="18.2" opacity="0.79"/>
<line x1="790.0" y1="234.1" x2="816.0" y2="231.4" stroke="#0094ff" stroke-width="15.8" opacity="0.65"/>
<line x1="760.9" y1="239.8" x2="745.7" y2="245.1" stroke="#0094ff" stroke-width="18.9" opacity="0.83"/>
<line x1="774.4" y1="249.0" x2="774.4" y2="272.9" stroke="#0094ff" stroke-width="16.5" opacity="0.69"/>
<line x1="839.2" y1="242.0" x2="854.8" y2="257.2" stroke="#0094ff" stroke-width="17.1" opacity="0.73"/>
<line x1="970.7" y1="237.0" x2="948.0" y2="250.5" stroke="#0094ff" stroke-width="15.7" opacity="0.65"/>
<line x1="986.6" y1="243.5" x2="993.2" y2="273.0" stroke="#0094ff" stroke-width="14.6" opacity="0.58"/>
<line x1="991.0" y1="216.5" x2="1007.0" y2="194.9" stroke="#0094ff" stroke-width="15.6" opacity="0.64"/>
<line x1="997.5" y1="230.0" x2="1018.2" y2="232.0" stroke="#0094ff" stroke-width="17.4" opacity="0.74"/>
<line x1="743.8" y1="259.9" x2="763.8" y2="277.6" stroke="#0094ff" stroke-width="15.6" opacity="0.64"/>
<line x1="787.5" y1="292.2" x2="813.3" y2="296.1" stroke="#0094ff" stroke-width="15.8" opacity="0.65"/>
<line x1="767.8" y1="303.0" x2="757.9" y2="320.4" stroke="#0094ff" stroke-width="17.7" opacity="0.76"/>
<line x1="779.8" y1="303.0" x2="789.3" y2="320.4" stroke="#0094ff" stroke-width="17.7" opacity="0.76"/>
<line x1="840.9" y1="286.9" x2="853.4" y2="276.1" stroke="#0094ff" stroke-width="18.8" opacity="0.82"/>
<line x1="816.7" y1="306.7" x2="804.5" y2="321.4" stroke="#0094ff" stroke-width="18.0" opacity="0.77"/>
<line x1="873.2" y1="276.3" x2="888.8" y2="287.3" stroke="#0094ff" stroke-width="18.0" opacity="0.77"/>
<line x1="912.0" y1="287.5" x2="930.2" y2="274.3" stroke="#0094ff" stroke-width="17.0" opacity="0.72"/>
<line x1="914.8" y1="299.1" x2="931.1" y2="302.2" stroke="#0094ff" stroke-width="18.7" opacity="0.82"/>
<line x1="894.9" y1="306.8" x2="888.4" y2="322.6" stroke="#0094ff" stroke-width="18.6" opacity="0.81"/>
<line x1="908.6" y1="306.5" x2="923.4" y2="333.2" stroke="#0094ff" stroke-width="14.4" opacity="0.58"/>
<line x1="939.9" y1="279.2" x2="941.9" y2="291.1" stroke="#0094ff" stroke-width="20.2" opacity="0.90"/>
<line x1="954.6" y1="301.2" x2="982.3" y2="293.2" stroke="#0094ff" stroke-width="15.0" opacity="0.60"/>
<line x1="939.2" y1="321.8" x2="935.5" y2="332.6" stroke="#0094ff" stroke-width="20.3" opacity="0.91"/>
<line x1="951.1" y1="318.8" x2="966.4" y2="332.7" stroke="#0094ff" stroke-width="17.5" opacity="0.75"/>
<line x1="992.4" y1="304.1" x2="983.2" y2="329.8" stroke="#0094ff" stroke-width="15.5" opacity="0.63"/>
<line x1="1003.5" y1="303.4" x2="1017.5" y2="326.9" stroke="#0094ff" stroke-width="15.4" opacity="0.63"/>
<line x1="765.4" y1="332.5" x2="782.6" y2="332.5" stroke="#0094ff" stroke-width="18.6" opacity="0.81"/>
<line x1="759.5" y1="343.6" x2="778.9" y2="367.2" stroke="#0094ff" stroke-width="14.4" opacity="0.58"/>
<line x1="806.5" y1="341.6" x2="825.8" y2="356.0" stroke="#0094ff" stroke-width="16.4" opacity="0.69"/>
<line x1="794.1" y1="346.3" x2="789.3" y2="364.5" stroke="#0094ff" stroke-width="18.1" opacity="0.78"/>
<line x1="896.1" y1="338.6" x2="916.1" y2="342.3" stroke="#0094ff" stroke-width="17.6" opacity="0.75"/>
<line x1="868.7" y1="343.6" x2="847.8" y2="356.2" stroke="#0094ff" stroke-width="16.3" opacity="0.68"/>
<line x1="945.5" y1="345.2" x2="963.1" y2="342.3" stroke="#0094ff" stroke-width="18.4" opacity="0.80"/>
<line x1="935.9" y1="360.2" x2="943.8" y2="380.0" stroke="#0094ff" stroke-width="17.3" opacity="0.73"/>
<line x1="971.2" y1="354.9" x2="955.3" y2="381.3" stroke="#0094ff" stroke-width="14.4" opacity="0.57"/>
<line x1="987.3" y1="356.2" x2="992.7" y2="371.2" stroke="#0094ff" stroke-width="18.9" opacity="0.83"/>
<line x1="994.2" y1="342.6" x2="1010.4" y2="340.6" stroke="#0094ff" stroke-width="18.8" opacity="0.82"/>
<line x1="822.7" y1="370.1" x2="800.5" y2="375.5" stroke="#0094ff" stroke-width="16.8" opacity="0.71"/>
<line x1="829.7" y1="379.1" x2="822.6" y2="394.6" stroke="#0094ff" stroke-width="18.6" opacity="0.81"/>
<line x1="779.0" y1="389.5" x2="767.6" y2="401.9" stroke="#0094ff" stroke-width="18.7" opacity="0.81"/>
<line x1="796.8" y1="388.3" x2="808.8" y2="397.6" stroke="#0094ff" stroke-width="19.2" opacity="0.84"/>
<line x1="962.3" y1="391.2" x2="984.8" y2="386.6" stroke="#0094ff" stroke-width="16.8" opacity="0.71"/>
<line x1="957.1" y1="406.2" x2="968.8" y2="422.8" stroke="#0094ff" stroke-width="17.6" opacity="0.75"/>
<line x1="992.8" y1="396.2" x2="982.9" y2="421.2" stroke="#0094ff" stroke-width="15.6" opacity="0.64"/>
<line x1="1006.3" y1="371.1" x2="1016.6" y2="348.9" stroke="#0094ff" stroke-width="16.3" opacity="0.68"/>
<line x1="1014.6" y1="381.9" x2="1031.5" y2="378.5" stroke="#0094ff" stroke-width="18.5" opacity="0.81"/>
<line x1="766.8" y1="419.7" x2="778.4" y2="434.7" stroke="#0094ff" stroke-width="18.0" opacity="0.77"/>
<line x1="745.0" y1="421.7" x2="736.7" y2="437.3" stroke="#0094ff" stroke-width="18.4" opacity="0.80"/>
<line x1="809.9" y1="418.6" x2="798.0" y2="434.0" stroke="#0094ff" stroke-width="17.9" opacity="0.77"/>
<line x1="824.5" y1="419.7" x2="832.9" y2="435.4" stroke="#0094ff" stroke-width="18.4" opacity="0.80"/>
<line x1="874.9" y1="422.0" x2="852.3" y2="438.4" stroke="#0094ff" stroke-width="15.3" opacity="0.62"/>
<line x1="803.8" y1="444.8" x2="827.0" y2="446.2" stroke="#0094ff" stroke-width="16.7" opacity="0.70"/>
<line x1="773.6" y1="446.1" x2="742.0" y2="447.1" stroke="#0094ff" stroke-width="14.1" opacity="0.56"/>
<line x1="1076.9" y1="23.5" x2="1105.2" y2="31.7" stroke="#0094ff" stroke-width="14.8" opacity="0.59"/>
<line x1="1065.1" y1="26.0" x2="1055.8" y2="55.9" stroke="#0094ff" stroke-width="14.2" opacity="0.56"/>
<line x1="1122.5" y1="50.7" x2="1128.7" y2="62.9" stroke="#0094ff" stroke-width="19.6" opacity="0.87"/>
<line x1="1211.6" y1="59.6" x2="1227.9" y2="74.5" stroke="#0094ff" stroke-width="17.0" opacity="0.72"/>
<line x1="1063.1" y1="79.0" x2="1079.2" y2="91.1" stroke="#0094ff" stroke-width="17.6" opacity="0.76"/>
<line x1="1046.9" y1="84.6" x2="1041.5" y2="99.6" stroke="#0094ff" stroke-width="18.9" opacity="0.83"/>
<line x1="1121.6" y1="84.7" x2="1104.7" y2="92.0" stroke="#0094ff" stroke-width="18.2" opacity="0.78"/>
<line x1="1138.3" y1="90.9" x2="1152.8" y2="117.9" stroke="#0094ff" stroke-width="14.4" opacity="0.57"/>
<line x1="1229.1" y1="93.7" x2="1219.7" y2="107.6" stroke="#0094ff" stroke-width="18.7" opacity="0.81"/>
<line x1="1077.5" y1="102.1" x2="1050.9" y2="108.5" stroke="#0094ff" stroke-width="15.4" opacity="0.63"/>
<line x1="1084.8" y1="110.3" x2="1077.7" y2="126.0" stroke="#0094ff" stroke-width="18.6" opacity="0.81"/>
<line x1="1048.9" y1="119.8" x2="1064.2" y2="129.5" stroke="#0094ff" stroke-width="18.3" opacity="0.79"/>
<line x1="1192.2" y1="121.5" x2="1177.5" y2="127.2" stroke="#0094ff" stroke-width="19.0" opacity="0.83"/>
<line x1="1219.4" y1="125.3" x2="1238.2" y2="144.6" stroke="#0094ff" stroke-width="15.6" opacity="0.64"/>
<line x1="1148.5" y1="137.3" x2="1126.0" y2="154.4" stroke="#0094ff" stroke-width="15.1" opacity="0.61"/>
<line x1="1085.5" y1="150.1" x2="1101.0" y2="156.9" stroke="#0094ff" stroke-width="18.7" opacity="0.81"/>
<line x1="1072.8" y1="155.9" x2="1067.4" y2="173.6" stroke="#0094ff" stroke-width="18.1" opacity="0.78"/>
<line x1="1101.4" y1="169.1" x2="1078.3" y2="182.2" stroke="#0094ff" stroke-width="15.7" opacity="0.65"/>
<line x1="1125.4" y1="171.5" x2="1144.7" y2="188.8" stroke="#0094ff" stroke-width="15.9" opacity="0.65"/>
<line x1="1111.0" y1="176.3" x2="1106.3" y2="189.5" stroke="#0094ff" stroke-width="19.5" opacity="0.86"/>
<line x1="1238.1" y1="168.5" x2="1227.2" y2="181.0" stroke="#0094ff" stroke-width="18.7" opacity="0.82"/>
<line x1="1031.8" y1="184.1" x2="1047.6" y2="183.5" stroke="#0094ff" stroke-width="19.0" opacity="0.83"/>
<line x1="1022.2" y1="197.6" x2="1028.8" y2="218.5" stroke="#0094ff" stroke-width="17.1" opacity="0.73"/>
<line x1="1078.7" y1="191.1" x2="1090.4" y2="196.7" stroke="#0094ff" stroke-width="19.9" opacity="0.88"/>
<line x1="1055.6" y1="195.4" x2="1041.1" y2="219.7" stroke="#0094ff" stroke-width="15.1" opacity="0.61"/>
<line x1="1141.6" y1="199.0" x2="1117.4" y2="201.5" stroke="#0094ff" stroke-width="16.4" opacity="0.68"/>
<line x1="1167.4" y1="210.3" x2="1179.7" y2="231.1" stroke="#0094ff" stroke-width="16.4" opacity="0.69"/>
<line x1="1213.0" y1="213.4" x2="1196.1" y2="232.6" stroke="#0094ff" stroke-width="16.0" opacity="0.66"/>
<line x1="1220.4" y1="215.1" x2="1225.3" y2="230.6" stroke="#0094ff" stroke-width="18.8" opacity="0.82"/>
<line x1="1200.5" y1="242.5" x2="1216.1" y2="241.5" stroke="#0094ff" stroke-width="19.0" opacity="0.83"/>
<line x1="1174.2" y1="252.1" x2="1155.4" y2="263.9" stroke="#0094ff" stroke-width="17.0" opacity="0.72"/>
<line x1="1191.3" y1="257.7" x2="1201.2" y2="280.9" stroke="#0094ff" stroke-width="16.1" opacity="0.67"/>
<line x1="1223.4" y1="251.9" x2="1210.5" y2="280.8" stroke="#0094ff" stroke-width="14.1" opacity="0.56"/>
<line x1="1097.2" y1="279.1" x2="1127.6" y2="273.5" stroke="#0094ff" stroke-width="14.3" opacity="0.57"/>
<line x1="1091.0" y1="294.4" x2="1103.0" y2="310.6" stroke="#0094ff" stroke-width="17.6" opacity="0.75"/>
<line x1="1079.9" y1="296.5" x2="1076.3" y2="311.2" stroke="#0094ff" stroke-width="19.2" opacity="0.84"/>
<line x1="1135.1" y1="284.2" x2="1120.7" y2="308.9" stroke="#0094ff" stroke-width="15.1" opacity="0.61"/>
<line x1="1150.3" y1="284.1" x2="1164.7" y2="312.5" stroke="#0094ff" stroke-width="14.0" opacity="0.55"/>
<line x1="1193.7" y1="305.6" x2="1179.3" y2="315.5" stroke="#0094ff" stroke-width="18.5" opacity="0.80"/>
<line x1="1098.8" y1="320.6" x2="1084.8" y2="320.6" stroke="#0094ff" stroke-width="19.5" opacity="0.86"/>
<line x1="1128.7" y1="322.8" x2="1156.9" y2="326.1" stroke="#0094ff" stroke-width="15.1" opacity="0.61"/>
<line x1="1113.9" y1="334.4" x2="1113.8" y2="352.7" stroke="#0094ff" stroke-width="18.2" opacity="0.79"/>
<line x1="1053.4" y1="328.3" x2="1039.7" y2="333.6" stroke="#0094ff" stroke-width="19.3" opacity="0.85"/>
<line x1="1059.8" y1="335.8" x2="1049.1" y2="363.2" stroke="#0094ff" stroke-width="14.8" opacity="0.59"/>
<line x1="1032.0" y1="349.1" x2="1039.0" y2="363.5" stroke="#0094ff" stroke-width="18.9" opacity="0.83"/>
<line x1="1168.7" y1="343.3" x2="1169.0" y2="355.9" stroke="#0094ff" stroke-width="20.0" opacity="0.89"/>
<line x1="1046.9" y1="392.3" x2="1047.0" y2="413.4" stroke="#0094ff" stroke-width="17.3" opacity="0.74"/>
<line x1="1127.2" y1="368.3" x2="1154.6" y2="369.6" stroke="#0094ff" stroke-width="15.4" opacity="0.63"/>
<line x1="1106.8" y1="381.4" x2="1099.6" y2="399.7" stroke="#0094ff" stroke-width="17.8" opacity="0.76"/>
<line x1="1181.6" y1="369.5" x2="1209.4" y2="364.7" stroke="#0094ff" stroke-width="15.2" opacity="0.61"/>
<line x1="1171.0" y1="387.9" x2="1171.0" y2="400.0" stroke="#0094ff" stroke-width="20.1" opacity="0.89"/>
<line x1="1233.0" y1="374.7" x2="1240.3" y2="387.5" stroke="#0094ff" stroke-width="19.3" opacity="0.85"/>
<line x1="1222.9" y1="377.2" x2="1219.4" y2="403.7" stroke="#0094ff" stroke-width="15.6" opacity="0.64"/>
<line x1="1239.2" y1="399.5" x2="1230.6" y2="408.5" stroke="#0094ff" stroke-width="20.0" opacity="0.89"/>
<line x1="1081.2" y1="420.1" x2="1061.5" y2="424.1" stroke="#0094ff" stroke-width="17.6" opacity="0.76"/>
<line x1="1186.1" y1="418.0" x2="1199.1" y2="418.1" stroke="#0094ff" stroke-width="19.8" opacity="0.88"/>
<line x1="1176.7" y1="430.9" x2="1180.1" y2="443.5" stroke="#0094ff" stroke-width="19.8" opacity="0.88"/>
<line x1="1204.5" y1="427.2" x2="1191.8" y2="445.2" stroke="#0094ff" stroke-width="17.1" opacity="0.72"/>
<line x1="1228.8" y1="424.8" x2="1245.7" y2="443.3" stroke="#0094ff" stroke-width="16.2" opacity="0.67"/>
</g>
<g filter="url(#b7)" stroke-linecap="butt" fill="none">
<line x1="792.8" y1="45.9" x2="804.5" y2="33.9" stroke="#04c8ff" stroke-width="9.3" opacity="0.76"/>
<circle cx="794.9" cy="43.7" r="5.6" fill="#20e8ff" stroke="none" opacity="0.81"/>
<circle cx="802.4" cy="36.0" r="5.6" fill="#20e8ff" stroke="none" opacity="0.81"/>
<line x1="780.8" y1="71.3" x2="778.6" y2="90.8" stroke="#04c8ff" stroke-width="8.4" opacity="0.69"/>
<circle cx="780.5" cy="74.3" r="5.2" fill="#20e8ff" stroke="none" opacity="0.76"/>
<circle cx="778.9" cy="87.8" r="5.2" fill="#20e8ff" stroke="none" opacity="0.76"/>
<line x1="874.5" y1="59.6" x2="875.8" y2="78.6" stroke="#04c8ff" stroke-width="8.6" opacity="0.71"/>
<circle cx="874.7" cy="62.6" r="5.2" fill="#20e8ff" stroke="none" opacity="0.77"/>
<circle cx="875.6" cy="75.6" r="5.2" fill="#20e8ff" stroke="none" opacity="0.77"/>
<line x1="943.5" y1="33.9" x2="967.3" y2="33.9" stroke="#04c8ff" stroke-width="7.2" opacity="0.60"/>
<circle cx="946.5" cy="33.9" r="4.5" fill="#20e8ff" stroke="none" opacity="0.69"/>
<circle cx="964.3" cy="33.9" r="4.5" fill="#20e8ff" stroke="none" opacity="0.69"/>
<line x1="927.2" y1="48.5" x2="922.8" y2="61.8" stroke="#10dcff" stroke-width="10.1" opacity="0.82"/>
<circle cx="926.3" cy="51.4" r="6.0" fill="#20e8ff" stroke="none" opacity="0.86"/>
<circle cx="923.7" cy="58.9" r="6.0" fill="#20e8ff" stroke="none" opacity="0.86"/>
<line x1="980.3" y1="49.9" x2="980.9" y2="62.5" stroke="#10dcff" stroke-width="10.5" opacity="0.85"/>
<circle cx="980.4" cy="52.9" r="6.2" fill="#20e8ff" stroke="none" opacity="0.88"/>
<circle cx="980.8" cy="59.5" r="6.2" fill="#20e8ff" stroke="none" opacity="0.88"/>
<line x1="905.8" y1="80.7" x2="889.4" y2="88.0" stroke="#04c8ff" stroke-width="8.9" opacity="0.73"/>
<circle cx="903.1" cy="81.9" r="5.4" fill="#20e8ff" stroke="none" opacity="0.79"/>
<circle cx="892.2" cy="86.8" r="5.4" fill="#20e8ff" stroke="none" opacity="0.79"/>
<line x1="929.2" y1="86.7" x2="943.5" y2="102.7" stroke="#04c8ff" stroke-width="7.8" opacity="0.65"/>
<circle cx="931.2" cy="88.9" r="4.9" fill="#20e8ff" stroke="none" opacity="0.73"/>
<circle cx="941.5" cy="100.5" r="4.9" fill="#20e8ff" stroke="none" opacity="0.73"/>
<line x1="972.4" y1="91.6" x2="961.3" y2="103.5" stroke="#04c8ff" stroke-width="9.4" opacity="0.77"/>
<circle cx="970.3" cy="93.8" r="5.7" fill="#20e8ff" stroke="none" opacity="0.82"/>
<circle cx="963.4" cy="101.3" r="5.7" fill="#20e8ff" stroke="none" opacity="0.82"/>
<line x1="984.2" y1="94.1" x2="990.1" y2="111.7" stroke="#04c8ff" stroke-width="8.7" opacity="0.72"/>
<circle cx="985.1" cy="97.0" r="5.3" fill="#20e8ff" stroke="none" opacity="0.78"/>
<circle cx="989.2" cy="108.8" r="5.3" fill="#20e8ff" stroke="none" opacity="0.78"/>
<line x1="792.0" y1="101.2" x2="815.9" y2="95.5" stroke="#04c8ff" stroke-width="6.9" opacity="0.58"/>
<circle cx="794.9" cy="100.5" r="4.4" fill="#20e8ff" stroke="none" opacity="0.67"/>
<circle cx="813.0" cy="96.2" r="4.4" fill="#20e8ff" stroke="none" opacity="0.67"/>
<line x1="847.2" y1="92.6" x2="862.2" y2="92.6" stroke="#04c8ff" stroke-width="9.8" opacity="0.80"/>
<circle cx="850.2" cy="92.6" r="5.8" fill="#20e8ff" stroke="none" opacity="0.84"/>
<circle cx="859.2" cy="92.6" r="5.8" fill="#20e8ff" stroke="none" opacity="0.84"/>
<line x1="827.4" y1="106.6" x2="823.2" y2="127.4" stroke="#04c8ff" stroke-width="7.9" opacity="0.66"/>
<circle cx="826.9" cy="109.6" r="4.9" fill="#20e8ff" stroke="none" opacity="0.73"/>
<circle cx="823.8" cy="124.5" r="4.9" fill="#20e8ff" stroke="none" opacity="0.73"/>
<line x1="882.6" y1="105.1" x2="887.9" y2="118.8" stroke="#10dcff" stroke-width="9.9" opacity="0.80"/>
<circle cx="883.7" cy="107.9" r="5.9" fill="#20e8ff" stroke="none" opacity="0.85"/>
<circle cx="886.8" cy="116.0" r="5.9" fill="#20e8ff" stroke="none" opacity="0.85"/>
<line x1="965.7" y1="116.8" x2="982.2" y2="120.6" stroke="#04c8ff" stroke-width="9.2" opacity="0.75"/>
<circle cx="968.6" cy="117.4" r="5.6" fill="#20e8ff" stroke="none" opacity="0.81"/>
<circle cx="979.3" cy="119.9" r="5.6" fill="#20e8ff" stroke="none" opacity="0.81"/>
<line x1="959.1" y1="126.0" x2="971.4" y2="148.8" stroke="#04c8ff" stroke-width="6.5" opacity="0.55"/>
<circle cx="960.5" cy="128.6" r="4.2" fill="#20e8ff" stroke="none" opacity="0.65"/>
<circle cx="970.0" cy="146.2" r="4.2" fill="#20e8ff" stroke="none" opacity="0.65"/>
<line x1="990.6" y1="137.7" x2="985.0" y2="148.3" stroke="#10dcff" stroke-width="10.7" opacity="0.87"/>
<circle cx="989.2" cy="140.4" r="6.3" fill="#20e8ff" stroke="none" opacity="0.90"/>
<circle cx="986.4" cy="145.6" r="6.3" fill="#20e8ff" stroke="none" opacity="0.90"/>
<line x1="1008.8" y1="120.7" x2="1022.0" y2="117.2" stroke="#10dcff" stroke-width="10.2" opacity="0.83"/>
<circle cx="1011.7" cy="119.9" r="6.1" fill="#20e8ff" stroke="none" opacity="0.87"/>
<circle cx="1019.1" cy="118.0" r="6.1" fill="#20e8ff" stroke="none" opacity="0.87"/>
<line x1="827.6" y1="155.9" x2="840.8" y2="173.9" stroke="#04c8ff" stroke-width="7.6" opacity="0.63"/>
<circle cx="829.4" cy="158.3" r="4.8" fill="#20e8ff" stroke="none" opacity="0.71"/>
<circle cx="839.0" cy="171.5" r="4.8" fill="#20e8ff" stroke="none" opacity="0.71"/>
<line x1="904.9" y1="144.1" x2="924.7" y2="157.7" stroke="#04c8ff" stroke-width="7.1" opacity="0.59"/>
<circle cx="907.4" cy="145.8" r="4.5" fill="#20e8ff" stroke="none" opacity="0.68"/>
<circle cx="922.3" cy="156.0" r="4.5" fill="#20e8ff" stroke="none" opacity="0.68"/>
<line x1="894.4" y1="148.7" x2="892.7" y2="166.8" stroke="#04c8ff" stroke-width="8.9" opacity="0.73"/>
<circle cx="894.1" cy="151.7" r="5.4" fill="#20e8ff" stroke="none" opacity="0.79"/>
<circle cx="892.9" cy="163.8" r="5.4" fill="#20e8ff" stroke="none" opacity="0.79"/>
<line x1="950.2" y1="162.5" x2="964.2" y2="162.0" stroke="#10dcff" stroke-width="10.1" opacity="0.82"/>
<circle cx="953.2" cy="162.4" r="6.0" fill="#20e8ff" stroke="none" opacity="0.86"/>
<circle cx="961.2" cy="162.1" r="6.0" fill="#20e8ff" stroke="none" opacity="0.86"/>
<line x1="922.4" y1="170.2" x2="903.9" y2="176.1" stroke="#04c8ff" stroke-width="8.5" opacity="0.70"/>
<circle cx="919.6" cy="171.1" r="5.2" fill="#20e8ff" stroke="none" opacity="0.77"/>
<circle cx="906.8" cy="175.2" r="5.2" fill="#20e8ff" stroke="none" opacity="0.77"/>
<line x1="935.8" y1="178.3" x2="937.8" y2="198.1" stroke="#04c8ff" stroke-width="8.3" opacity="0.69"/>
<circle cx="936.1" cy="181.2" r="5.1" fill="#20e8ff" stroke="none" opacity="0.76"/>
<circle cx="937.5" cy="195.1" r="5.1" fill="#20e8ff" stroke="none" opacity="0.76"/>
<line x1="991.0" y1="168.4" x2="1004.2" y2="176.3" stroke="#04c8ff" stroke-width="9.7" opacity="0.79"/>
<circle cx="993.5" cy="169.9" r="5.8" fill="#20e8ff" stroke="none" opacity="0.84"/>
<circle cx="1001.6" cy="174.7" r="5.8" fill="#20e8ff" stroke="none" opacity="0.84"/>
<line x1="767.1" y1="199.0" x2="771.2" y2="221.5" stroke="#04c8ff" stroke-width="7.5" opacity="0.62"/>
<circle cx="767.6" cy="202.0" r="4.7" fill="#20e8ff" stroke="none" opacity="0.71"/>
<circle cx="770.6" cy="218.5" r="4.7" fill="#20e8ff" stroke="none" opacity="0.71"/>
<line x1="862.3" y1="184.1" x2="877.8" y2="183.5" stroke="#04c8ff" stroke-width="9.7" opacity="0.79"/>
<circle cx="865.3" cy="184.0" r="5.8" fill="#20e8ff" stroke="none" opacity="0.83"/>
<circle cx="874.8" cy="183.6" r="5.8" fill="#20e8ff" stroke="none" opacity="0.83"/>
<line x1="857.8" y1="197.8" x2="870.8" y2="211.0" stroke="#04c8ff" stroke-width="8.7" opacity="0.72"/>
<circle cx="859.9" cy="200.0" r="5.3" fill="#20e8ff" stroke="none" opacity="0.78"/>
<circle cx="868.7" cy="208.8" r="5.3" fill="#20e8ff" stroke="none" opacity="0.78"/>
<line x1="842.3" y1="200.0" x2="835.2" y2="216.1" stroke="#04c8ff" stroke-width="9.0" opacity="0.74"/>
<circle cx="841.0" cy="202.8" r="5.5" fill="#20e8ff" stroke="none" opacity="0.80"/>
<circle cx="836.4" cy="213.3" r="5.5" fill="#20e8ff" stroke="none" opacity="0.80"/>
<line x1="887.2" y1="195.1" x2="882.1" y2="207.3" stroke="#10dcff" stroke-width="10.3" opacity="0.84"/>
<circle cx="886.1" cy="197.8" r="6.1" fill="#20e8ff" stroke="none" opacity="0.87"/>
<circle cx="883.3" cy="204.6" r="6.1" fill="#20e8ff" stroke="none" opacity="0.87"/>
<line x1="951.3" y1="216.8" x2="969.3" y2="223.9" stroke="#04c8ff" stroke-width="8.5" opacity="0.70"/>
<circle cx="954.1" cy="217.9" r="5.2" fill="#20e8ff" stroke="none" opacity="0.77"/>
<circle cx="966.6" cy="222.8" r="5.2" fill="#20e8ff" stroke="none" opacity="0.77"/>
<line x1="938.8" y1="226.1" x2="938.2" y2="244.7" stroke="#04c8ff" stroke-width="8.7" opacity="0.72"/>
<circle cx="938.7" cy="229.1" r="5.3" fill="#20e8ff" stroke="none" opacity="0.78"/>
<circle cx="938.3" cy="241.7" r="5.3" fill="#20e8ff" stroke="none" opacity="0.78"/>
<line x1="866.5" y1="225.0" x2="843.9" y2="228.3" stroke="#04c8ff" stroke-width="7.4" opacity="0.62"/>
<circle cx="863.6" cy="225.4" r="4.7" fill="#20e8ff" stroke="none" opacity="0.70"/>
<circle cx="846.8" cy="227.8" r="4.7" fill="#20e8ff" stroke="none" opacity="0.70"/>
<line x1="875.7" y1="237.9" x2="868.2" y2="254.7" stroke="#04c8ff" stroke-width="8.8" opacity="0.72"/>
<circle cx="874.5" cy="240.7" r="5.3" fill="#20e8ff" stroke="none" opacity="0.78"/>
<circle cx="869.4" cy="252.0" r="5.3" fill="#20e8ff" stroke="none" opacity="0.78"/>
<line x1="760.9" y1="239.8" x2="745.7" y2="245.1" stroke="#04c8ff" stroke-width="9.5" opacity="0.77"/>
<circle cx="758.1" cy="240.8" r="5.7" fill="#20e8ff" stroke="none" opacity="0.82"/>
<circle cx="748.5" cy="244.1" r="5.7" fill="#20e8ff" stroke="none" opacity="0.82"/>
<line x1="774.4" y1="249.0" x2="774.4" y2="272.9" stroke="#04c8ff" stroke-width="7.1" opacity="0.60"/>
<circle cx="774.4" cy="252.0" r="4.5" fill="#20e8ff" stroke="none" opacity="0.69"/>
<circle cx="774.4" cy="269.9" r="4.5" fill="#20e8ff" stroke="none" opacity="0.69"/>
<line x1="839.2" y1="242.0" x2="854.8" y2="257.2" stroke="#04c8ff" stroke-width="7.8" opacity="0.65"/>
<circle cx="841.4" cy="244.1" r="4.8" fill="#20e8ff" stroke="none" opacity="0.72"/>
<circle cx="852.7" cy="255.1" r="4.8" fill="#20e8ff" stroke="none" opacity="0.72"/>
<line x1="997.5" y1="230.0" x2="1018.2" y2="232.0" stroke="#04c8ff" stroke-width="8.0" opacity="0.67"/>
<circle cx="1000.5" cy="230.3" r="5.0" fill="#20e8ff" stroke="none" opacity="0.74"/>
<circle cx="1015.2" cy="231.7" r="5.0" fill="#20e8ff" stroke="none" opacity="0.74"/>
<line x1="767.8" y1="303.0" x2="757.9" y2="320.4" stroke="#04c8ff" stroke-width="8.3" opacity="0.68"/>
<circle cx="766.3" cy="305.6" r="5.1" fill="#20e8ff" stroke="none" opacity="0.75"/>
<circle cx="759.3" cy="317.8" r="5.1" fill="#20e8ff" stroke="none" opacity="0.75"/>
<line x1="779.8" y1="303.0" x2="789.3" y2="320.4" stroke="#04c8ff" stroke-width="8.3" opacity="0.69"/>
<circle cx="781.3" cy="305.6" r="5.1" fill="#20e8ff" stroke="none" opacity="0.76"/>
<circle cx="787.9" cy="317.8" r="5.1" fill="#20e8ff" stroke="none" opacity="0.76"/>
<line x1="840.9" y1="286.9" x2="853.4" y2="276.1" stroke="#04c8ff" stroke-width="9.3" opacity="0.76"/>
<circle cx="843.2" cy="285.0" r="5.6" fill="#20e8ff" stroke="none" opacity="0.82"/>
<circle cx="851.1" cy="278.1" r="5.6" fill="#20e8ff" stroke="none" opacity="0.82"/>
<line x1="816.7" y1="306.7" x2="804.5" y2="321.4" stroke="#04c8ff" stroke-width="8.6" opacity="0.71"/>
<circle cx="814.8" cy="309.1" r="5.2" fill="#20e8ff" stroke="none" opacity="0.77"/>
<circle cx="806.4" cy="319.1" r="5.2" fill="#20e8ff" stroke="none" opacity="0.77"/>
<line x1="873.2" y1="276.3" x2="888.8" y2="287.3" stroke="#04c8ff" stroke-width="8.6" opacity="0.71"/>
<circle cx="875.7" cy="278.1" r="5.2" fill="#20e8ff" stroke="none" opacity="0.77"/>
<circle cx="886.3" cy="285.6" r="5.2" fill="#20e8ff" stroke="none" opacity="0.77"/>
<line x1="912.0" y1="287.5" x2="930.2" y2="274.3" stroke="#04c8ff" stroke-width="7.6" opacity="0.63"/>
<circle cx="914.5" cy="285.7" r="4.7" fill="#20e8ff" stroke="none" opacity="0.71"/>
<circle cx="927.7" cy="276.1" r="4.7" fill="#20e8ff" stroke="none" opacity="0.71"/>
<line x1="914.8" y1="299.1" x2="931.1" y2="302.2" stroke="#04c8ff" stroke-width="9.3" opacity="0.76"/>
<circle cx="917.7" cy="299.6" r="5.6" fill="#20e8ff" stroke="none" opacity="0.81"/>
<circle cx="928.2" cy="301.6" r="5.6" fill="#20e8ff" stroke="none" opacity="0.81"/>
<line x1="894.9" y1="306.8" x2="888.4" y2="322.6" stroke="#04c8ff" stroke-width="9.2" opacity="0.75"/>
<circle cx="893.8" cy="309.5" r="5.5" fill="#20e8ff" stroke="none" opacity="0.81"/>
<circle cx="889.6" cy="319.8" r="5.5" fill="#20e8ff" stroke="none" opacity="0.81"/>
<line x1="939.9" y1="279.2" x2="941.9" y2="291.1" stroke="#10dcff" stroke-width="10.7" opacity="0.87"/>
<circle cx="940.4" cy="282.2" r="6.3" fill="#20e8ff" stroke="none" opacity="0.90"/>
<circle cx="941.4" cy="288.1" r="6.3" fill="#20e8ff" stroke="none" opacity="0.90"/>
<line x1="939.2" y1="321.8" x2="935.5" y2="332.6" stroke="#10dcff" stroke-width="10.9" opacity="0.88"/>
<circle cx="938.2" cy="324.7" r="6.4" fill="#20e8ff" stroke="none" opacity="0.91"/>
<circle cx="936.5" cy="329.8" r="6.4" fill="#20e8ff" stroke="none" opacity="0.91"/>
<line x1="951.1" y1="318.8" x2="966.4" y2="332.7" stroke="#04c8ff" stroke-width="8.1" opacity="0.67"/>
<circle cx="953.3" cy="320.8" r="5.0" fill="#20e8ff" stroke="none" opacity="0.74"/>
<circle cx="964.2" cy="330.6" r="5.0" fill="#20e8ff" stroke="none" opacity="0.74"/>
<line x1="765.4" y1="332.5" x2="782.6" y2="332.5" stroke="#04c8ff" stroke-width="9.1" opacity="0.75"/>
<circle cx="768.4" cy="332.5" r="5.5" fill="#20e8ff" stroke="none" opacity="0.80"/>
<circle cx="779.6" cy="332.5" r="5.5" fill="#20e8ff" stroke="none" opacity="0.80"/>
<line x1="806.5" y1="341.6" x2="825.8" y2="356.0" stroke="#04c8ff" stroke-width="7.1" opacity="0.59"/>
<circle cx="808.9" cy="343.4" r="4.5" fill="#20e8ff" stroke="none" opacity="0.68"/>
<circle cx="823.4" cy="354.2" r="4.5" fill="#20e8ff" stroke="none" opacity="0.68"/>
<line x1="794.1" y1="346.3" x2="789.3" y2="364.5" stroke="#04c8ff" stroke-width="8.7" opacity="0.71"/>
<circle cx="793.3" cy="349.2" r="5.3" fill="#20e8ff" stroke="none" opacity="0.78"/>
<circle cx="790.1" cy="361.6" r="5.3" fill="#20e8ff" stroke="none" opacity="0.78"/>
<line x1="896.1" y1="338.6" x2="916.1" y2="342.3" stroke="#04c8ff" stroke-width="8.2" opacity="0.68"/>
<circle cx="899.1" cy="339.2" r="5.1" fill="#20e8ff" stroke="none" opacity="0.75"/>
<circle cx="913.1" cy="341.8" r="5.1" fill="#20e8ff" stroke="none" opacity="0.75"/>
<line x1="868.7" y1="343.6" x2="847.8" y2="356.2" stroke="#04c8ff" stroke-width="7.0" opacity="0.59"/>
<circle cx="866.1" cy="345.2" r="4.4" fill="#20e8ff" stroke="none" opacity="0.68"/>
<circle cx="850.4" cy="354.7" r="4.4" fill="#20e8ff" stroke="none" opacity="0.68"/>
<line x1="945.5" y1="345.2" x2="963.1" y2="342.3" stroke="#04c8ff" stroke-width="9.0" opacity="0.73"/>
<circle cx="948.4" cy="344.7" r="5.4" fill="#20e8ff" stroke="none" opacity="0.79"/>
<circle cx="960.1" cy="342.8" r="5.4" fill="#20e8ff" stroke="none" opacity="0.79"/>
<line x1="935.9" y1="360.2" x2="943.8" y2="380.0" stroke="#04c8ff" stroke-width="7.9" opacity="0.66"/>
<circle cx="937.0" cy="363.0" r="4.9" fill="#20e8ff" stroke="none" opacity="0.73"/>
<circle cx="942.7" cy="377.2" r="4.9" fill="#20e8ff" stroke="none" opacity="0.73"/>
<line x1="987.3" y1="356.2" x2="992.7" y2="371.2" stroke="#04c8ff" stroke-width="9.5" opacity="0.78"/>
<circle cx="988.3" cy="359.0" r="5.7" fill="#20e8ff" stroke="none" opacity="0.83"/>
<circle cx="991.7" cy="368.4" r="5.7" fill="#20e8ff" stroke="none" opacity="0.83"/>
<line x1="994.2" y1="342.6" x2="1010.4" y2="340.6" stroke="#04c8ff" stroke-width="9.4" opacity="0.77"/>
<circle cx="997.1" cy="342.2" r="5.7" fill="#20e8ff" stroke="none" opacity="0.82"/>
<circle cx="1007.4" cy="340.9" r="5.7" fill="#20e8ff" stroke="none" opacity="0.82"/>
<line x1="822.7" y1="370.1" x2="800.5" y2="375.5" stroke="#04c8ff" stroke-width="7.5" opacity="0.62"/>
<circle cx="819.7" cy="370.8" r="4.7" fill="#20e8ff" stroke="none" opacity="0.71"/>
<circle cx="803.4" cy="374.8" r="4.7" fill="#20e8ff" stroke="none" opacity="0.71"/>
<line x1="829.7" y1="379.1" x2="822.6" y2="394.6" stroke="#04c8ff" stroke-width="9.2" opacity="0.75"/>
<circle cx="828.5" cy="381.8" r="5.5" fill="#20e8ff" stroke="none" opacity="0.81"/>
<circle cx="823.9" cy="391.8" r="5.5" fill="#20e8ff" stroke="none" opacity="0.81"/>
<line x1="779.0" y1="389.5" x2="767.6" y2="401.9" stroke="#04c8ff" stroke-width="9.2" opacity="0.76"/>
<circle cx="777.0" cy="391.7" r="5.6" fill="#20e8ff" stroke="none" opacity="0.81"/>
<circle cx="769.6" cy="399.7" r="5.6" fill="#20e8ff" stroke="none" opacity="0.81"/>
<line x1="796.8" y1="388.3" x2="808.8" y2="397.6" stroke="#04c8ff" stroke-width="9.7" opacity="0.79"/>
<circle cx="799.1" cy="390.1" r="5.8" fill="#20e8ff" stroke="none" opacity="0.84"/>
<circle cx="806.4" cy="395.8" r="5.8" fill="#20e8ff" stroke="none" opacity="0.84"/>
<line x1="962.3" y1="391.2" x2="984.8" y2="386.6" stroke="#04c8ff" stroke-width="7.4" opacity="0.62"/>
<circle cx="965.2" cy="390.6" r="4.6" fill="#20e8ff" stroke="none" opacity="0.70"/>
<circle cx="981.9" cy="387.2" r="4.6" fill="#20e8ff" stroke="none" opacity="0.70"/>
<line x1="957.1" y1="406.2" x2="968.8" y2="422.8" stroke="#04c8ff" stroke-width="8.2" opacity="0.68"/>
<circle cx="958.9" cy="408.7" r="5.1" fill="#20e8ff" stroke="none" opacity="0.75"/>
<circle cx="967.1" cy="420.3" r="5.1" fill="#20e8ff" stroke="none" opacity="0.75"/>
<line x1="1006.3" y1="371.1" x2="1016.6" y2="348.9" stroke="#04c8ff" stroke-width="6.9" opacity="0.58"/>
<circle cx="1007.5" cy="368.4" r="4.4" fill="#20e8ff" stroke="none" opacity="0.68"/>
<circle cx="1015.3" cy="351.6" r="4.4" fill="#20e8ff" stroke="none" opacity="0.68"/>
<line x1="1014.6" y1="381.9" x2="1031.5" y2="378.5" stroke="#04c8ff" stroke-width="9.1" opacity="0.75"/>
<circle cx="1017.5" cy="381.3" r="5.5" fill="#20e8ff" stroke="none" opacity="0.80"/>
<circle cx="1028.6" cy="379.1" r="5.5" fill="#20e8ff" stroke="none" opacity="0.80"/>
<line x1="766.8" y1="419.7" x2="778.4" y2="434.7" stroke="#04c8ff" stroke-width="8.6" opacity="0.71"/>
<circle cx="768.6" cy="422.1" r="5.2" fill="#20e8ff" stroke="none" opacity="0.77"/>
<circle cx="776.6" cy="432.4" r="5.2" fill="#20e8ff" stroke="none" opacity="0.77"/>
<line x1="745.0" y1="421.7" x2="736.7" y2="437.3" stroke="#04c8ff" stroke-width="9.0" opacity="0.74"/>
<circle cx="743.6" cy="424.4" r="5.4" fill="#20e8ff" stroke="none" opacity="0.80"/>
<circle cx="738.1" cy="434.7" r="5.4" fill="#20e8ff" stroke="none" opacity="0.80"/>
<line x1="809.9" y1="418.6" x2="798.0" y2="434.0" stroke="#04c8ff" stroke-width="8.5" opacity="0.70"/>
<circle cx="808.0" cy="421.0" r="5.2" fill="#20e8ff" stroke="none" opacity="0.77"/>
<circle cx="799.8" cy="431.6" r="5.2" fill="#20e8ff" stroke="none" opacity="0.77"/>
<line x1="824.5" y1="419.7" x2="832.9" y2="435.4" stroke="#04c8ff" stroke-width="9.0" opacity="0.73"/>
<circle cx="825.9" cy="422.3" r="5.4" fill="#20e8ff" stroke="none" opacity="0.79"/>
<circle cx="831.5" cy="432.7" r="5.4" fill="#20e8ff" stroke="none" opacity="0.79"/>
<line x1="803.8" y1="444.8" x2="827.0" y2="446.2" stroke="#04c8ff" stroke-width="7.3" opacity="0.61"/>
<circle cx="806.8" cy="445.0" r="4.6" fill="#20e8ff" stroke="none" opacity="0.70"/>
<circle cx="824.0" cy="446.0" r="4.6" fill="#20e8ff" stroke="none" opacity="0.70"/>
<line x1="1122.5" y1="50.7" x2="1128.7" y2="62.9" stroke="#10dcff" stroke-width="10.2" opacity="0.83"/>
<circle cx="1123.8" cy="53.4" r="6.0" fill="#20e8ff" stroke="none" opacity="0.86"/>
<circle cx="1127.3" cy="60.2" r="6.0" fill="#20e8ff" stroke="none" opacity="0.86"/>
<line x1="1211.6" y1="59.6" x2="1227.9" y2="74.5" stroke="#04c8ff" stroke-width="7.7" opacity="0.64"/>
<circle cx="1213.8" cy="61.6" r="4.8" fill="#20e8ff" stroke="none" opacity="0.72"/>
<circle cx="1225.7" cy="72.5" r="4.8" fill="#20e8ff" stroke="none" opacity="0.72"/>
<line x1="1063.1" y1="79.0" x2="1079.2" y2="91.1" stroke="#04c8ff" stroke-width="8.3" opacity="0.68"/>
<circle cx="1065.5" cy="80.8" r="5.1" fill="#20e8ff" stroke="none" opacity="0.75"/>
<circle cx="1076.8" cy="89.3" r="5.1" fill="#20e8ff" stroke="none" opacity="0.75"/>
<line x1="1046.9" y1="84.6" x2="1041.5" y2="99.6" stroke="#04c8ff" stroke-width="9.5" opacity="0.78"/>
<circle cx="1045.9" cy="87.4" r="5.7" fill="#20e8ff" stroke="none" opacity="0.83"/>
<circle cx="1042.5" cy="96.8" r="5.7" fill="#20e8ff" stroke="none" opacity="0.83"/>
<line x1="1121.6" y1="84.7" x2="1104.7" y2="92.0" stroke="#04c8ff" stroke-width="8.8" opacity="0.72"/>
<circle cx="1118.9" cy="85.9" r="5.3" fill="#20e8ff" stroke="none" opacity="0.78"/>
<circle cx="1107.4" cy="90.8" r="5.3" fill="#20e8ff" stroke="none" opacity="0.78"/>
<line x1="1229.1" y1="93.7" x2="1219.7" y2="107.6" stroke="#04c8ff" stroke-width="9.3" opacity="0.76"/>
<circle cx="1227.4" cy="96.2" r="5.6" fill="#20e8ff" stroke="none" opacity="0.81"/>
<circle cx="1221.4" cy="105.1" r="5.6" fill="#20e8ff" stroke="none" opacity="0.81"/>
<line x1="1084.8" y1="110.3" x2="1077.7" y2="126.0" stroke="#04c8ff" stroke-width="9.1" opacity="0.75"/>
<circle cx="1083.5" cy="113.0" r="5.5" fill="#20e8ff" stroke="none" opacity="0.80"/>
<circle cx="1078.9" cy="123.2" r="5.5" fill="#20e8ff" stroke="none" opacity="0.80"/>
<line x1="1048.9" y1="119.8" x2="1064.2" y2="129.5" stroke="#04c8ff" stroke-width="8.9" opacity="0.73"/>
<circle cx="1051.4" cy="121.4" r="5.4" fill="#20e8ff" stroke="none" opacity="0.79"/>
<circle cx="1061.6" cy="127.9" r="5.4" fill="#20e8ff" stroke="none" opacity="0.79"/>
<line x1="1192.2" y1="121.5" x2="1177.5" y2="127.2" stroke="#04c8ff" stroke-width="9.6" opacity="0.78"/>
<circle cx="1189.4" cy="122.6" r="5.7" fill="#20e8ff" stroke="none" opacity="0.83"/>
<circle cx="1180.3" cy="126.1" r="5.7" fill="#20e8ff" stroke="none" opacity="0.83"/>
<line x1="1085.5" y1="150.1" x2="1101.0" y2="156.9" stroke="#04c8ff" stroke-width="9.2" opacity="0.76"/>
<circle cx="1088.3" cy="151.3" r="5.6" fill="#20e8ff" stroke="none" opacity="0.81"/>
<circle cx="1098.2" cy="155.7" r="5.6" fill="#20e8ff" stroke="none" opacity="0.81"/>
<line x1="1072.8" y1="155.9" x2="1067.4" y2="173.6" stroke="#04c8ff" stroke-width="8.7" opacity="0.72"/>
<circle cx="1071.9" cy="158.7" r="5.3" fill="#20e8ff" stroke="none" opacity="0.78"/>
<circle cx="1068.2" cy="170.7" r="5.3" fill="#20e8ff" stroke="none" opacity="0.78"/>
<line x1="1125.4" y1="171.5" x2="1144.7" y2="188.8" stroke="#04c8ff" stroke-width="6.5" opacity="0.55"/>
<circle cx="1127.6" cy="173.5" r="4.2" fill="#20e8ff" stroke="none" opacity="0.65"/>
<circle cx="1142.5" cy="186.8" r="4.2" fill="#20e8ff" stroke="none" opacity="0.65"/>
<line x1="1111.0" y1="176.3" x2="1106.3" y2="189.5" stroke="#10dcff" stroke-width="10.1" opacity="0.82"/>
<circle cx="1110.0" cy="179.1" r="6.0" fill="#20e8ff" stroke="none" opacity="0.86"/>
<circle cx="1107.3" cy="186.6" r="6.0" fill="#20e8ff" stroke="none" opacity="0.86"/>
<line x1="1238.1" y1="168.5" x2="1227.2" y2="181.0" stroke="#04c8ff" stroke-width="9.3" opacity="0.76"/>
<circle cx="1236.1" cy="170.8" r="5.6" fill="#20e8ff" stroke="none" opacity="0.82"/>
<circle cx="1229.2" cy="178.8" r="5.6" fill="#20e8ff" stroke="none" opacity="0.82"/>
<line x1="1031.8" y1="184.1" x2="1047.6" y2="183.5" stroke="#04c8ff" stroke-width="9.5" opacity="0.78"/>
<circle cx="1034.7" cy="184.0" r="5.7" fill="#20e8ff" stroke="none" opacity="0.83"/>
<circle cx="1044.6" cy="183.6" r="5.7" fill="#20e8ff" stroke="none" opacity="0.83"/>
<line x1="1022.2" y1="197.6" x2="1028.8" y2="218.5" stroke="#04c8ff" stroke-width="7.7" opacity="0.64"/>
<circle cx="1023.1" cy="200.5" r="4.8" fill="#20e8ff" stroke="none" opacity="0.72"/>
<circle cx="1027.8" cy="215.6" r="4.8" fill="#20e8ff" stroke="none" opacity="0.72"/>
<line x1="1078.7" y1="191.1" x2="1090.4" y2="196.7" stroke="#10dcff" stroke-width="10.4" opacity="0.84"/>
<circle cx="1081.4" cy="192.4" r="6.2" fill="#20e8ff" stroke="none" opacity="0.88"/>
<circle cx="1087.6" cy="195.4" r="6.2" fill="#20e8ff" stroke="none" opacity="0.88"/>
<line x1="1141.6" y1="199.0" x2="1117.4" y2="201.5" stroke="#04c8ff" stroke-width="7.0" opacity="0.59"/>
<circle cx="1138.6" cy="199.3" r="4.5" fill="#20e8ff" stroke="none" opacity="0.68"/>
<circle cx="1120.4" cy="201.2" r="4.5" fill="#20e8ff" stroke="none" opacity="0.68"/>
<line x1="1167.4" y1="210.3" x2="1179.7" y2="231.1" stroke="#04c8ff" stroke-width="7.0" opacity="0.59"/>
<circle cx="1168.9" cy="212.9" r="4.5" fill="#20e8ff" stroke="none" opacity="0.68"/>
<circle cx="1178.1" cy="228.5" r="4.5" fill="#20e8ff" stroke="none" opacity="0.68"/>
<line x1="1213.0" y1="213.4" x2="1196.1" y2="232.6" stroke="#04c8ff" stroke-width="6.6" opacity="0.56"/>
<circle cx="1211.0" cy="215.6" r="4.3" fill="#20e8ff" stroke="none" opacity="0.66"/>
<circle cx="1198.1" cy="230.3" r="4.3" fill="#20e8ff" stroke="none" opacity="0.66"/>
<line x1="1220.4" y1="215.1" x2="1225.3" y2="230.6" stroke="#04c8ff" stroke-width="9.4" opacity="0.77"/>
<circle cx="1221.3" cy="218.0" r="5.7" fill="#20e8ff" stroke="none" opacity="0.82"/>
<circle cx="1224.4" cy="227.8" r="5.7" fill="#20e8ff" stroke="none" opacity="0.82"/>
<line x1="1200.5" y1="242.5" x2="1216.1" y2="241.5" stroke="#04c8ff" stroke-width="9.6" opacity="0.78"/>
<circle cx="1203.5" cy="242.3" r="5.8" fill="#20e8ff" stroke="none" opacity="0.83"/>
<circle cx="1213.1" cy="241.7" r="5.8" fill="#20e8ff" stroke="none" opacity="0.83"/>
<line x1="1174.2" y1="252.1" x2="1155.4" y2="263.9" stroke="#04c8ff" stroke-width="7.6" opacity="0.64"/>
<circle cx="1171.7" cy="253.7" r="4.8" fill="#20e8ff" stroke="none" opacity="0.72"/>
<circle cx="1157.9" cy="262.3" r="4.8" fill="#20e8ff" stroke="none" opacity="0.72"/>
<line x1="1191.3" y1="257.7" x2="1201.2" y2="280.9" stroke="#04c8ff" stroke-width="6.7" opacity="0.57"/>
<circle cx="1192.5" cy="260.4" r="4.3" fill="#20e8ff" stroke="none" opacity="0.66"/>
<circle cx="1200.1" cy="278.2" r="4.3" fill="#20e8ff" stroke="none" opacity="0.66"/>
<line x1="1091.0" y1="294.4" x2="1103.0" y2="310.6" stroke="#04c8ff" stroke-width="8.2" opacity="0.68"/>
<circle cx="1092.8" cy="296.8" r="5.1" fill="#20e8ff" stroke="none" opacity="0.75"/>
<circle cx="1101.3" cy="308.2" r="5.1" fill="#20e8ff" stroke="none" opacity="0.75"/>
<line x1="1079.9" y1="296.5" x2="1076.3" y2="311.2" stroke="#04c8ff" stroke-width="9.8" opacity="0.79"/>
<circle cx="1079.2" cy="299.4" r="5.8" fill="#20e8ff" stroke="none" opacity="0.84"/>
<circle cx="1077.0" cy="308.3" r="5.8" fill="#20e8ff" stroke="none" opacity="0.84"/>
<line x1="1193.7" y1="305.6" x2="1179.3" y2="315.5" stroke="#04c8ff" stroke-width="9.1" opacity="0.74"/>
<circle cx="1191.3" cy="307.3" r="5.5" fill="#20e8ff" stroke="none" opacity="0.80"/>
<circle cx="1181.8" cy="313.8" r="5.5" fill="#20e8ff" stroke="none" opacity="0.80"/>
<line x1="1098.8" y1="320.6" x2="1084.8" y2="320.6" stroke="#10dcff" stroke-width="10.1" opacity="0.82"/>
<circle cx="1095.8" cy="320.6" r="6.0" fill="#20e8ff" stroke="none" opacity="0.86"/>
<circle cx="1087.8" cy="320.6" r="6.0" fill="#20e8ff" stroke="none" opacity="0.86"/>
<line x1="1113.9" y1="334.4" x2="1113.8" y2="352.7" stroke="#04c8ff" stroke-width="8.8" opacity="0.72"/>
<circle cx="1113.9" cy="337.4" r="5.4" fill="#20e8ff" stroke="none" opacity="0.79"/>
<circle cx="1113.8" cy="349.7" r="5.4" fill="#20e8ff" stroke="none" opacity="0.79"/>
<line x1="1053.4" y1="328.3" x2="1039.7" y2="333.6" stroke="#10dcff" stroke-width="9.9" opacity="0.80"/>
<circle cx="1050.6" cy="329.4" r="5.9" fill="#20e8ff" stroke="none" opacity="0.85"/>
<circle cx="1042.5" cy="332.5" r="5.9" fill="#20e8ff" stroke="none" opacity="0.85"/>
<line x1="1032.0" y1="349.1" x2="1039.0" y2="363.5" stroke="#04c8ff" stroke-width="9.5" opacity="0.77"/>
<circle cx="1033.4" cy="351.8" r="5.7" fill="#20e8ff" stroke="none" opacity="0.82"/>
<circle cx="1037.7" cy="360.8" r="5.7" fill="#20e8ff" stroke="none" opacity="0.82"/>
<line x1="1168.7" y1="343.3" x2="1169.0" y2="355.9" stroke="#10dcff" stroke-width="10.5" opacity="0.85"/>
<circle cx="1168.8" cy="346.3" r="6.2" fill="#20e8ff" stroke="none" opacity="0.88"/>
<circle cx="1168.9" cy="352.9" r="6.2" fill="#20e8ff" stroke="none" opacity="0.88"/>
<line x1="1046.9" y1="392.3" x2="1047.0" y2="413.4" stroke="#04c8ff" stroke-width="8.0" opacity="0.66"/>
<circle cx="1046.9" cy="395.3" r="4.9" fill="#20e8ff" stroke="none" opacity="0.73"/>
<circle cx="1047.0" cy="410.4" r="4.9" fill="#20e8ff" stroke="none" opacity="0.73"/>
<line x1="1106.8" y1="381.4" x2="1099.6" y2="399.7" stroke="#04c8ff" stroke-width="8.4" opacity="0.69"/>
<circle cx="1105.7" cy="384.2" r="5.2" fill="#20e8ff" stroke="none" opacity="0.76"/>
<circle cx="1100.7" cy="396.9" r="5.2" fill="#20e8ff" stroke="none" opacity="0.76"/>
<line x1="1171.0" y1="387.9" x2="1171.0" y2="400.0" stroke="#10dcff" stroke-width="10.7" opacity="0.86"/>
<circle cx="1171.0" cy="390.9" r="6.3" fill="#20e8ff" stroke="none" opacity="0.89"/>
<circle cx="1171.0" cy="397.0" r="6.3" fill="#20e8ff" stroke="none" opacity="0.89"/>
<line x1="1233.0" y1="374.7" x2="1240.3" y2="387.5" stroke="#10dcff" stroke-width="9.9" opacity="0.80"/>
<circle cx="1234.5" cy="377.3" r="5.9" fill="#20e8ff" stroke="none" opacity="0.85"/>
<circle cx="1238.8" cy="384.9" r="5.9" fill="#20e8ff" stroke="none" opacity="0.85"/>
<line x1="1239.2" y1="399.5" x2="1230.6" y2="408.5" stroke="#10dcff" stroke-width="10.6" opacity="0.86"/>
<circle cx="1237.1" cy="401.6" r="6.2" fill="#20e8ff" stroke="none" opacity="0.89"/>
<circle cx="1232.6" cy="406.3" r="6.2" fill="#20e8ff" stroke="none" opacity="0.89"/>
<line x1="1081.2" y1="420.1" x2="1061.5" y2="424.1" stroke="#04c8ff" stroke-width="8.3" opacity="0.68"/>
<circle cx="1078.3" cy="420.7" r="5.1" fill="#20e8ff" stroke="none" opacity="0.75"/>
<circle cx="1064.4" cy="423.5" r="5.1" fill="#20e8ff" stroke="none" opacity="0.75"/>
<line x1="1186.1" y1="418.0" x2="1199.1" y2="418.1" stroke="#10dcff" stroke-width="10.4" opacity="0.84"/>
<circle cx="1189.1" cy="418.0" r="6.1" fill="#20e8ff" stroke="none" opacity="0.88"/>
<circle cx="1196.1" cy="418.1" r="6.1" fill="#20e8ff" stroke="none" opacity="0.88"/>
<line x1="1176.7" y1="430.9" x2="1180.1" y2="443.5" stroke="#10dcff" stroke-width="10.4" opacity="0.84"/>
<circle cx="1177.5" cy="433.8" r="6.1" fill="#20e8ff" stroke="none" opacity="0.88"/>
<circle cx="1179.3" cy="440.7" r="6.1" fill="#20e8ff" stroke="none" opacity="0.88"/>
<line x1="1204.5" y1="427.2" x2="1191.8" y2="445.2" stroke="#04c8ff" stroke-width="7.7" opacity="0.64"/>
<circle cx="1202.8" cy="429.6" r="4.8" fill="#20e8ff" stroke="none" opacity="0.72"/>
<circle cx="1193.6" cy="442.7" r="4.8" fill="#20e8ff" stroke="none" opacity="0.72"/>
<line x1="1228.8" y1="424.8" x2="1245.7" y2="443.3" stroke="#04c8ff" stroke-width="6.8" opacity="0.57"/>
<circle cx="1230.8" cy="427.0" r="4.3" fill="#20e8ff" stroke="none" opacity="0.67"/>
<circle cx="1243.6" cy="441.1" r="4.3" fill="#20e8ff" stroke="none" opacity="0.67"/>
</g>
<g filter="url(#b2)" stroke="#08c8ff" stroke-linecap="round" fill="none">
<line x1="810.6" y1="42.4" x2="786.0" y2="33.8" stroke-width="3.4"/>
<line x1="798.4" y1="25.1" x2="798.2" y2="51.1" stroke-width="3.4"/>
<line x1="936.9" y1="49.7" x2="912.5" y2="58.7" stroke-width="3.4"/>
<line x1="916.5" y1="44.1" x2="932.9" y2="64.3" stroke-width="3.4"/>
<line x1="991.1" y1="48.0" x2="969.3" y2="62.4" stroke-width="3.4"/>
<line x1="969.9" y1="47.2" x2="990.5" y2="63.2" stroke-width="3.4"/>
<line x1="862.5" y1="103.2" x2="847.3" y2="82.0" stroke-width="3.4"/>
<line x1="862.5" y1="82.0" x2="847.3" y2="103.2" stroke-width="3.4"/>
<line x1="892.8" y1="98.0" x2="876.6" y2="125.6" stroke-width="4"/>
<line x1="869.0" y1="108.6" x2="900.4" y2="115.0" stroke-width="4"/>
<line x1="968.6" y1="107.2" x2="978.0" y2="131.4" stroke-width="3.4"/>
<line x1="963.4" y1="127.7" x2="983.2" y2="110.9" stroke-width="3.4"/>
<line x1="1000.0" y1="139.5" x2="974.4" y2="143.9" stroke-width="3.4"/>
<line x1="981.0" y1="130.3" x2="993.4" y2="153.1" stroke-width="3.4"/>
<line x1="967.6" y1="174.8" x2="947.0" y2="150.4" stroke-width="4"/>
<line x1="965.5" y1="148.9" x2="949.1" y2="176.3" stroke-width="4"/>
<line x1="995.9" y1="156.3" x2="997.7" y2="188.3" stroke-width="4"/>
<line x1="982.0" y1="178.4" x2="1011.6" y2="166.2" stroke-width="4"/>
<line x1="900.0" y1="196.2" x2="869.4" y2="205.8" stroke-width="4"/>
<line x1="875.2" y1="188.1" x2="894.2" y2="213.9" stroke-width="4"/>
<line x1="743.2" y1="193.7" x2="729.6" y2="171.5" stroke-width="3.4"/>
<line x1="744.7" y1="172.6" x2="728.1" y2="192.6" stroke-width="3.4"/>
<line x1="901.8" y1="165.4" x2="920.2" y2="173.4" stroke-width="2.8"/>
<line x1="910.2" y1="179.4" x2="911.8" y2="159.4" stroke-width="2.8"/>
<line x1="848.7" y1="205.8" x2="829.1" y2="209.8" stroke-width="2.8"/>
<line x1="833.9" y1="199.2" x2="843.9" y2="216.4" stroke-width="2.8"/>
<line x1="1131.3" y1="45.6" x2="1116.7" y2="67.0" stroke-width="3.4"/>
<line x1="1111.5" y1="52.8" x2="1136.5" y2="59.8" stroke-width="3.4"/>
<line x1="1098.7" y1="80.1" x2="1126.7" y2="95.7" stroke-width="4"/>
<line x1="1109.8" y1="103.6" x2="1115.6" y2="72.2" stroke-width="4"/>
<line x1="1031.0" y1="95.9" x2="1055.8" y2="88.3" stroke-width="3.4"/>
<line x1="1051.1" y1="102.6" x2="1035.7" y2="81.6" stroke-width="3.4"/>
<line x1="1025.5" y1="126.6" x2="1005.7" y2="109.8" stroke-width="3.4"/>
<line x1="1020.3" y1="106.1" x2="1010.9" y2="130.3" stroke-width="3.4"/>
<line x1="1055.3" y1="138.7" x2="1057.1" y2="112.7" stroke-width="3.4"/>
<line x1="1068.8" y1="122.3" x2="1043.6" y2="129.1" stroke-width="3.4"/>
<line x1="1092.4" y1="143.4" x2="1092.6" y2="163.4" stroke-width="2.8"/>
<line x1="1083.1" y1="156.7" x2="1101.9" y2="150.1" stroke-width="2.8"/>
<line x1="1096.3" y1="187.9" x2="1120.7" y2="178.7" stroke-width="3.4"/>
<line x1="1116.8" y1="193.3" x2="1100.2" y2="173.3" stroke-width="3.4"/>
<line x1="1080.4" y1="178.4" x2="1087.4" y2="209.6" stroke-width="4"/>
<line x1="1070.3" y1="202.4" x2="1097.5" y2="185.6" stroke-width="4"/>
<line x1="1031.5" y1="173.8" x2="1046.7" y2="195.0" stroke-width="3.4"/>
<line x1="1031.5" y1="195.0" x2="1046.7" y2="173.8" stroke-width="3.4"/>
<line x1="1174.0" y1="115.4" x2="1194.4" y2="131.6" stroke-width="3.4"/>
<line x1="1179.8" y1="135.7" x2="1188.6" y2="111.3" stroke-width="3.4"/>
<line x1="1217.3" y1="176.9" x2="1249.3" y2="174.7" stroke-width="4"/>
<line x1="1239.5" y1="190.6" x2="1227.1" y2="161.0" stroke-width="4"/>
<line x1="1235.4" y1="205.4" x2="1214.2" y2="229.4" stroke-width="4"/>
<line x1="1210.0" y1="211.3" x2="1239.6" y2="223.5" stroke-width="4"/>
<line x1="1234.8" y1="99.7" x2="1214.8" y2="98.3" stroke-width="2.8"/>
<line x1="1222.3" y1="89.3" x2="1227.3" y2="108.7" stroke-width="2.8"/>
<line x1="1215.3" y1="250.8" x2="1202.3" y2="228.2" stroke-width="3.4"/>
<line x1="1217.4" y1="229.7" x2="1200.2" y2="249.3" stroke-width="3.4"/>
<line x1="742.9" y1="236.4" x2="764.1" y2="251.4" stroke-width="3.4"/>
<line x1="749.8" y1="256.4" x2="757.2" y2="231.4" stroke-width="3.4"/>
<line x1="862.5" y1="285.2" x2="831.5" y2="277.2" stroke-width="4"/>
<line x1="845.7" y1="265.2" x2="848.3" y2="297.2" stroke-width="4"/>
<line x1="952.6" y1="274.3" x2="927.8" y2="294.5" stroke-width="4"/>
<line x1="926.6" y1="275.9" x2="953.8" y2="292.9" stroke-width="4"/>
<line x1="948.5" y1="322.5" x2="923.5" y2="329.5" stroke-width="3.4"/>
<line x1="928.7" y1="315.3" x2="943.3" y2="336.7" stroke-width="3.4"/>
<line x1="902.0" y1="312.6" x2="876.0" y2="313.8" stroke-width="3.4"/>
<line x1="884.3" y1="301.1" x2="893.7" y2="325.3" stroke-width="3.4"/>
<line x1="825.0" y1="314.3" x2="799.4" y2="310.1" stroke-width="3.4"/>
<line x1="810.1" y1="299.4" x2="814.3" y2="325.0" stroke-width="3.4"/>
<line x1="995.1" y1="348.9" x2="985.7" y2="373.1" stroke-width="3.4"/>
<line x1="977.4" y1="360.5" x2="1003.4" y2="361.5" stroke-width="3.4"/>
<line x1="812.5" y1="390.6" x2="837.5" y2="383.2" stroke-width="3.4"/>
<line x1="832.5" y1="397.5" x2="817.5" y2="376.3" stroke-width="3.4"/>
<line x1="800.5" y1="409.2" x2="804.7" y2="377.4" stroke-width="4"/>
<line x1="818.3" y1="390.1" x2="786.9" y2="396.5" stroke-width="4"/>
<line x1="760.1" y1="393.5" x2="785.3" y2="399.5" stroke-width="3.4"/>
<line x1="773.9" y1="409.4" x2="771.5" y2="383.6" stroke-width="3.4"/>
<line x1="743.4" y1="422.6" x2="729.4" y2="393.8" stroke-width="4"/>
<line x1="747.7" y1="396.9" x2="725.1" y2="419.5" stroke-width="4"/>
<line x1="834.4" y1="411.0" x2="819.8" y2="439.6" stroke-width="4"/>
<line x1="811.3" y1="423.0" x2="842.9" y2="427.6" stroke-width="4"/>
<line x1="755.7" y1="426.9" x2="729.9" y2="423.7" stroke-width="3.4"/>
<line x1="740.1" y1="412.6" x2="745.5" y2="438.0" stroke-width="3.4"/>
<line x1="1082.4" y1="311.3" x2="1100.4" y2="330.1" stroke-width="3.4"/>
<line x1="1085.4" y1="332.2" x2="1097.4" y2="309.2" stroke-width="3.4"/>
<line x1="1034.2" y1="321.9" x2="1059.0" y2="342.1" stroke-width="4"/>
<line x1="1041.0" y1="347.0" x2="1052.2" y2="317.0" stroke-width="4"/>
<line x1="1027.4" y1="371.2" x2="1042.2" y2="342.8" stroke-width="4"/>
<line x1="1050.6" y1="359.4" x2="1019.0" y2="354.6" stroke-width="4"/>
<line x1="1199.9" y1="313.5" x2="1174.9" y2="306.5" stroke-width="3.4"/>
<line x1="1186.7" y1="297.0" x2="1188.1" y2="323.0" stroke-width="3.4"/>
<line x1="1181.9" y1="339.2" x2="1154.5" y2="355.6" stroke-width="4"/>
<line x1="1156.0" y1="337.0" x2="1180.4" y2="357.8" stroke-width="4"/>
<line x1="1182.4" y1="382.7" x2="1158.4" y2="403.9" stroke-width="4"/>
<line x1="1156.5" y1="385.4" x2="1184.3" y2="401.2" stroke-width="4"/>
<line x1="1200.4" y1="427.4" x2="1185.2" y2="406.2" stroke-width="3.4"/>
<line x1="1200.4" y1="406.2" x2="1185.2" y2="427.4" stroke-width="3.4"/>
<line x1="1250.6" y1="404.2" x2="1224.6" y2="403.8" stroke-width="3.4"/>
<line x1="1233.6" y1="391.6" x2="1241.6" y2="416.4" stroke-width="3.4"/>
<line x1="1188.7" y1="421.5" x2="1171.3" y2="448.3" stroke-width="4"/>
<line x1="1164.5" y1="431.0" x2="1195.5" y2="438.8" stroke-width="4"/>
<line x1="1088.6" y1="298.3" x2="1070.6" y2="306.9" stroke-width="2.8"/>
<line x1="1072.6" y1="295.5" x2="1086.6" y2="309.7" stroke-width="2.8"/>
<line x1="1236.3" y1="386.9" x2="1251.7" y2="374.1" stroke-width="2.8"/>
<line x1="1252.5" y1="385.7" x2="1235.5" y2="375.3" stroke-width="2.8"/>
</g>
<g filter="url(#b6)" fill="#0018f8">
<circle cx="765.0" cy="27.0" r="9.7"/>
<circle cx="786.0" cy="27.0" r="6.9"/>
<circle cx="847.5" cy="27.0" r="8.7"/>
<circle cx="900.0" cy="27.0" r="8.3"/>
<circle cx="955.5" cy="27.0" r="5.9"/>
<circle cx="904.5" cy="49.5" r="8.0"/>
<circle cx="951.0" cy="61.5" r="10.1"/>
<circle cx="891.0" cy="69.0" r="6.7"/>
<circle cx="799.5" cy="82.5" r="8.1"/>
<circle cx="951.0" cy="82.5" r="8.3"/>
<circle cx="1062.0" cy="97.5" r="6.7"/>
<circle cx="976.5" cy="108.0" r="5.1"/>
<circle cx="918.0" cy="109.5" r="9.8"/>
<circle cx="1066.5" cy="111.0" r="6.2"/>
<circle cx="807.0" cy="114.0" r="7.5"/>
<circle cx="927.0" cy="135.0" r="9.6"/>
<circle cx="970.5" cy="135.0" r="6.3"/>
<circle cx="955.5" cy="142.5" r="7.3"/>
<circle cx="909.0" cy="159.0" r="6.1"/>
<circle cx="1086.0" cy="169.5" r="6.2"/>
<circle cx="1092.0" cy="178.5" r="5.9"/>
<circle cx="1128.0" cy="187.5" r="6.9"/>
<circle cx="918.0" cy="190.5" r="7.2"/>
<circle cx="871.5" cy="196.5" r="4.8"/>
<circle cx="1041.0" cy="204.0" r="7.2"/>
<circle cx="907.5" cy="208.5" r="8.6"/>
<circle cx="1191.0" cy="210.0" r="8.7"/>
<circle cx="1009.5" cy="213.0" r="7.7"/>
<circle cx="853.5" cy="216.0" r="6.2"/>
<circle cx="1207.5" cy="228.0" r="5.1"/>
<circle cx="955.5" cy="235.5" r="6.6"/>
<circle cx="856.5" cy="240.0" r="6.8"/>
<circle cx="1006.5" cy="253.5" r="9.7"/>
<circle cx="760.5" cy="261.0" r="7.0"/>
<circle cx="972.0" cy="262.5" r="10.5"/>
<circle cx="1212.0" cy="264.0" r="7.6"/>
<circle cx="1176.0" cy="280.5" r="9.8"/>
<circle cx="925.5" cy="288.0" r="4.9"/>
<circle cx="1173.0" cy="288.0" r="10.0"/>
<circle cx="1114.5" cy="289.5" r="9.0"/>
<circle cx="798.0" cy="304.5" r="6.7"/>
<circle cx="1144.5" cy="304.5" r="9.6"/>
<circle cx="1092.0" cy="306.0" r="4.4"/>
<circle cx="972.0" cy="310.5" r="8.5"/>
<circle cx="774.0" cy="318.0" r="5.9"/>
<circle cx="999.0" cy="321.0" r="7.8"/>
<circle cx="910.5" cy="322.5" r="7.6"/>
<circle cx="952.5" cy="333.0" r="4.9"/>
<circle cx="1140.0" cy="345.0" r="10.4"/>
<circle cx="1249.5" cy="348.0" r="6.8"/>
<circle cx="1194.0" cy="349.5" r="9.2"/>
<circle cx="1005.0" cy="357.0" r="5.8"/>
<circle cx="808.5" cy="358.5" r="7.2"/>
<circle cx="957.0" cy="364.5" r="7.9"/>
<circle cx="1020.0" cy="364.5" r="6.3"/>
<circle cx="970.5" cy="372.0" r="7.9"/>
<circle cx="1249.5" cy="373.5" r="5.6"/>
<circle cx="813.0" cy="381.0" r="5.8"/>
<circle cx="1200.0" cy="387.0" r="10.1"/>
<circle cx="1066.5" cy="402.0" r="8.4"/>
<circle cx="976.5" cy="403.5" r="7.6"/>
<circle cx="790.5" cy="415.5" r="7.7"/>
<circle cx="735.0" cy="426.0" r="3.4"/>
<circle cx="1249.5" cy="426.0" r="7.8"/>
<circle cx="1192.5" cy="433.5" r="4.7"/>
<circle cx="816.0" cy="435.0" r="6.1"/>
<circle cx="757.5" cy="439.5" r="7.9"/>
<circle cx="757.5" cy="448.5" r="7.8"/>
<circle cx="1224.0" cy="448.5" r="10.3"/>
</g>
<g filter="url(#b5)" fill="#20d4ff" opacity="0.9">
<ellipse cx="735" cy="27" rx="14.9" ry="14.9"/>
<ellipse cx="782.3" cy="56.3" rx="18.4" ry="19"/>
<ellipse cx="815" cy="26.4" rx="17.4" ry="15.9"/>
<ellipse cx="874.1" cy="44.5" rx="18.4" ry="19"/>
<ellipse cx="930.2" cy="33.9" rx="17.2" ry="18.9"/>
<ellipse cx="981" cy="33.9" rx="17.6" ry="19.9"/>
<ellipse cx="919.5" cy="75.9" rx="18.4" ry="18.4"/>
<ellipse cx="980.2" cy="78.7" rx="16.9" ry="20.1"/>
<ellipse cx="777" cy="105.4" rx="19.5" ry="18.6"/>
<ellipse cx="831.4" cy="92.6" rx="19.7" ry="18.4"/>
<ellipse cx="876.2" cy="92.6" rx="17.9" ry="17.9"/>
<ellipse cx="952" cy="113.9" rx="17.9" ry="17.9"/>
<ellipse cx="995.5" cy="124.6" rx="17.8" ry="17.9"/>
<ellipse cx="819.6" cy="142.7" rx="18.4" ry="19.7"/>
<ellipse cx="894.4" cy="133.1" rx="17.5" ry="19.7" transform="rotate(-15 894.4 133.1)"/>
<ellipse cx="936" cy="165.1" rx="18.4" ry="16.9" transform="rotate(-20 936 165.1)"/>
<ellipse cx="978.7" cy="160.9" rx="18.4" ry="17.9"/>
<ellipse cx="763.1" cy="184.4" rx="19.5" ry="19"/>
<ellipse cx="848.5" cy="186.5" rx="17.9" ry="19"/>
<ellipse cx="891.2" cy="181.2" rx="17.5" ry="18.4"/>
<ellipse cx="938.1" cy="212.1" rx="17.9" ry="17.9"/>
<ellipse cx="879.4" cy="222.8" rx="16.9" ry="19.7"/>
<ellipse cx="775" cy="235" rx="18.9" ry="17.9"/>
<ellipse cx="830" cy="230.4" rx="17.9" ry="19.3"/>
<ellipse cx="983" cy="229" rx="18.4" ry="18.9"/>
<ellipse cx="733" cy="251" rx="17.9" ry="17.9"/>
<ellipse cx="773.8" cy="288.7" rx="17.9" ry="19.7"/>
<ellipse cx="828.2" cy="296.2" rx="19.7" ry="16.9" transform="rotate(-30 828.2 296.2)"/>
<ellipse cx="863.4" cy="267.4" rx="16.9" ry="17.5"/>
<ellipse cx="900.8" cy="295.1" rx="18.4" ry="16.9" transform="rotate(15 900.8 295.1)"/>
<ellipse cx="938.8" cy="262" rx="16.3" ry="21.2"/>
<ellipse cx="943" cy="306.8" rx="16.3" ry="19.7"/>
<ellipse cx="997" cy="288.7" rx="19.2" ry="20.1"/>
<ellipse cx="750.3" cy="332.5" rx="19" ry="17.9"/>
<ellipse cx="796.2" cy="332.5" rx="17.5" ry="17.9"/>
<ellipse cx="881.5" cy="335.7" rx="19" ry="18.4" transform="rotate(-20 881.5 335.7)"/>
<ellipse cx="930.6" cy="346.3" rx="19" ry="18.4" transform="rotate(30 930.6 346.3)"/>
<ellipse cx="978.7" cy="343.1" rx="20.1" ry="17.9" transform="rotate(30 978.7 343.1)"/>
<ellipse cx="836.3" cy="365.5" rx="17.9" ry="19" transform="rotate(20 836.3 365.5)"/>
<ellipse cx="787.2" cy="378.3" rx="17.5" ry="17.9"/>
<ellipse cx="948.1" cy="394.4" rx="18.4" ry="19"/>
<ellipse cx="999.6" cy="383.7" rx="19" ry="17.9"/>
<ellipse cx="755.6" cy="411.4" rx="20.5" ry="16.3" transform="rotate(-10 755.6 411.4)"/>
<ellipse cx="817.9" cy="407.6" rx="16.9" ry="17.9"/>
<ellipse cx="888" cy="413.1" rx="20.1" ry="19"/>
<ellipse cx="977.6" cy="434.9" rx="17.9" ry="19" transform="rotate(-15 977.6 434.9)"/>
<ellipse cx="788.7" cy="445" rx="19" ry="17.9"/>
<ellipse cx="841" cy="446" rx="17.9" ry="16.9"/>
<ellipse cx="735" cy="448" rx="10.9" ry="14.9"/>
<ellipse cx="1069" cy="23" rx="11.9" ry="7.4"/>
<ellipse cx="1117" cy="37.1" rx="16.5" ry="19"/>
<ellipse cx="1200.2" cy="48.8" rx="19.7" ry="19" transform="rotate(20 1200.2 48.8)"/>
<ellipse cx="1051.3" cy="70.2" rx="18.4" ry="19"/>
<ellipse cx="1134.1" cy="76.6" rx="17.5" ry="19.7" transform="rotate(20 1134.1 76.6)"/>
<ellipse cx="1237.6" cy="83.6" rx="17.4" ry="16.9"/>
<ellipse cx="1091.4" cy="97.9" rx="18.4" ry="17.5" transform="rotate(-20 1091.4 97.9)"/>
<ellipse cx="1036.5" cy="112.9" rx="19" ry="17.5" transform="rotate(-20 1036.5 112.9)"/>
<ellipse cx="1207.7" cy="117.1" rx="20.1" ry="16.9" transform="rotate(-10 1207.7 117.1)"/>
<ellipse cx="1161.8" cy="129.9" rx="20.1" ry="17.9" transform="rotate(10 1161.8 129.9)"/>
<ellipse cx="1074.3" cy="140.6" rx="16.9" ry="19.7" transform="rotate(-15 1074.3 140.6)"/>
<ellipse cx="1114.2" cy="162.6" rx="18.4" ry="17.9"/>
<ellipse cx="1246" cy="156.6" rx="16.9" ry="18.9"/>
<ellipse cx="1016.7" cy="184.4" rx="19" ry="17.9" transform="rotate(10 1016.7 184.4)"/>
<ellipse cx="1063.6" cy="185.4" rx="20.1" ry="16.3" transform="rotate(15 1063.6 185.4)"/>
<ellipse cx="1157.6" cy="198.2" rx="20.1" ry="18.4" transform="rotate(15 1157.6 198.2)"/>
<ellipse cx="1220.1" cy="197.2" rx="16.3" ry="22.2" transform="rotate(10 1220.1 197.2)"/>
<ellipse cx="1103.1" cy="203.6" rx="18.4" ry="18.4"/>
<ellipse cx="1033.5" cy="233" rx="19.2" ry="19.2"/>
<ellipse cx="1186.4" cy="243.9" rx="17.9" ry="19" transform="rotate(20 1186.4 243.9)"/>
<ellipse cx="1231.2" cy="241.7" rx="19" ry="15.9"/>
<ellipse cx="1083.3" cy="281.2" rx="17.9" ry="19.7"/>
<ellipse cx="1142.6" cy="271.6" rx="19" ry="18.4"/>
<ellipse cx="1205.2" cy="295.7" rx="17.9" ry="19.7" transform="rotate(15 1205.2 295.7)"/>
<ellipse cx="1113.8" cy="320.7" rx="19" ry="17.5" transform="rotate(15 1113.8 320.7)"/>
<ellipse cx="1069" cy="323.9" rx="20.1" ry="16.9" transform="rotate(-20 1069 323.9)"/>
<ellipse cx="1025.2" cy="337.8" rx="19" ry="16.9" transform="rotate(-10 1025.2 337.8)"/>
<ellipse cx="1169.9" cy="327.1" rx="16.9" ry="20.1" transform="rotate(5 1169.9 327.1)"/>
<ellipse cx="1249" cy="317.5" rx="4.9" ry="8.9"/>
<ellipse cx="1045.1" cy="377.3" rx="17.5" ry="19" transform="rotate(-15 1045.1 377.3)"/>
<ellipse cx="1112.7" cy="367.7" rx="18.4" ry="19" transform="rotate(-10 1112.7 367.7)"/>
<ellipse cx="1168.2" cy="371.9" rx="17.5" ry="20.1" transform="rotate(-10 1168.2 371.9)"/>
<ellipse cx="1224.4" cy="362.8" rx="19" ry="18.4"/>
<ellipse cx="1245" cy="394" rx="11.9" ry="11.9"/>
<ellipse cx="1094.6" cy="414.6" rx="17.9" ry="19.7" transform="rotate(10 1094.6 414.6)"/>
<ellipse cx="1047.6" cy="428.5" rx="18.4" ry="19"/>
<ellipse cx="1172.5" cy="415.7" rx="17.5" ry="19.7" transform="rotate(-10 1172.5 415.7)"/>
<ellipse cx="1216.3" cy="416.8" rx="21.2" ry="16.9" transform="rotate(-10 1216.3 416.8)"/>
<ellipse cx="1184.2" cy="449" rx="13.9" ry="9.9"/>
<ellipse cx="1249" cy="447" rx="8.9" ry="8.9"/>
<path d="M798.8 23.4 Q801.6 30.6 799.9 37.0 Q806.5 37.0 812.5 41.2 L815.0 26.4 Z" stroke="#18e4ff" stroke-width="2.4" stroke-linejoin="round"/>
<path d="M799.8 56.6 Q796.0 48.0 797.0 39.5 Q788.7 41.5 779.7 38.4 L782.3 56.3 Z" stroke="#18e4ff" stroke-width="2.4" stroke-linejoin="round"/>
<path d="M916.6 43.8 Q922.8 46.7 925.2 52.4 Q930.2 49.0 937.3 50.1 L930.2 33.9 Z" stroke="#18e4ff" stroke-width="2.4" stroke-linejoin="round"/>
<path d="M934.5 66.8 Q927.3 62.7 924.3 56.0 Q918.6 60.6 910.3 61.0 L919.5 75.9 Z" stroke="#18e4ff" stroke-width="2.4" stroke-linejoin="round"/>
<path d="M970.4 48.5 Q976.8 48.9 980.3 53.3 Q984.1 49.2 990.6 49.4 L981.0 33.9 Z" stroke="#18e4ff" stroke-width="2.4" stroke-linejoin="round"/>
<path d="M992.0 65.7 Q984.4 63.2 980.2 57.1 Q976.0 63.2 968.4 65.7 L980.2 78.7 Z" stroke="#18e4ff" stroke-width="2.4" stroke-linejoin="round"/>
<path d="M864.0 80.8 Q862.1 88.4 856.8 92.6 Q862.1 96.8 864.0 104.4 L876.2 92.6 Z" stroke="#18e4ff" stroke-width="2.4" stroke-linejoin="round"/>
<path d="M844.5 105.1 Q846.9 97.1 853.0 92.6 Q846.9 88.1 844.5 80.1 L831.4 92.6 Z" stroke="#18e4ff" stroke-width="2.4" stroke-linejoin="round"/>
<path d="M870.7 108.7 Q878.1 107.1 883.9 110.1 Q885.7 103.8 891.8 99.3 L876.2 92.6 Z" stroke="#18e4ff" stroke-width="2.4" stroke-linejoin="round"/>
<path d="M900.3 116.1 Q892.1 117.2 885.5 113.5 Q884.2 121.0 878.3 126.7 L894.4 133.1 Z" stroke="#18e4ff" stroke-width="2.4" stroke-linejoin="round"/>
<path d="M960.4 128.7 Q964.8 121.7 971.5 118.8 Q966.9 113.1 966.4 104.9 L952.0 113.9 Z" stroke="#18e4ff" stroke-width="2.4" stroke-linejoin="round"/>
<path d="M987.7 109.5 Q982.5 116.7 975.1 119.7 Q980.4 125.7 981.7 134.5 L995.5 124.6 Z" stroke="#18e4ff" stroke-width="2.4" stroke-linejoin="round"/>
<path d="M980.9 133.2 Q986.5 135.4 988.0 140.0 Q992.6 138.4 997.8 141.4 L995.5 124.6 Z" stroke="#18e4ff" stroke-width="2.4" stroke-linejoin="round"/>
<path d="M994.7 153.9 Q988.3 149.7 986.4 143.4 Q980.6 146.4 973.3 144.7 L978.7 160.9 Z" stroke="#18e4ff" stroke-width="2.4" stroke-linejoin="round"/>
<path d="M965.0 150.3 Q964.0 157.9 959.2 162.4 Q964.7 166.2 966.9 173.5 L978.7 160.9 Z" stroke="#18e4ff" stroke-width="2.4" stroke-linejoin="round"/>
<path d="M949.3 174.7 Q950.5 167.4 955.4 162.8 Q949.7 159.3 947.2 152.1 L936.0 165.1 Z" stroke="#18e4ff" stroke-width="2.4" stroke-linejoin="round"/>
<path d="M983.1 177.3 Q988.5 172.0 995.2 171.3 Q993.1 165.0 995.9 157.7 L978.7 160.9 Z" stroke="#18e4ff" stroke-width="2.4" stroke-linejoin="round"/>
<path d="M1013.1 167.6 Q1006.3 172.8 998.4 173.3 Q1001.3 180.5 999.4 189.1 L1016.7 184.4 Z" stroke="#18e4ff" stroke-width="2.4" stroke-linejoin="round"/>
<path d="M876.9 190.0 Q883.1 193.4 885.3 199.2 Q890.6 196.0 897.7 197.3 L891.2 181.2 Z" stroke="#18e4ff" stroke-width="2.4" stroke-linejoin="round"/>
<path d="M893.1 213.0 Q886.8 209.3 884.3 202.8 Q878.8 207.0 871.1 206.7 L879.4 222.8 Z" stroke="#18e4ff" stroke-width="2.4" stroke-linejoin="round"/>
<path d="M1111.9 54.2 Q1118.3 52.0 1123.3 54.5 Q1125.1 49.0 1130.6 46.0 L1117.0 37.1 Z" stroke="#18e4ff" stroke-width="2.4" stroke-linejoin="round"/>
<path d="M1140.4 58.9 Q1131.8 60.9 1124.8 58.0 Q1123.8 65.5 1118.3 71.6 L1134.1 76.6 Z" stroke="#18e4ff" stroke-width="2.4" stroke-linejoin="round"/>
<path d="M1107.0 104.8 Q1106.8 95.8 1111.0 88.7 Q1102.9 87.5 1096.1 81.7 L1091.4 97.9 Z" stroke="#18e4ff" stroke-width="2.4" stroke-linejoin="round"/>
<path d="M1118.7 70.4 Q1118.7 79.6 1114.4 87.0 Q1122.8 88.4 1130.1 94.9 L1134.1 76.6 Z" stroke="#18e4ff" stroke-width="2.4" stroke-linejoin="round"/>
<path d="M1052.7 104.9 Q1045.5 100.5 1042.8 93.9 Q1036.9 98.1 1028.9 98.1 L1036.5 112.9 Z" stroke="#18e4ff" stroke-width="2.4" stroke-linejoin="round"/>
<path d="M1035.2 77.4 Q1041.9 82.8 1044.0 90.3 Q1050.5 86.1 1059.3 86.3 L1051.3 70.2 Z" stroke="#18e4ff" stroke-width="2.4" stroke-linejoin="round"/>
<path d="M1020.9 105.4 Q1021.4 112.6 1017.4 117.7 Q1023.3 120.4 1026.2 127.1 L1036.5 112.9 Z" stroke="#18e4ff" stroke-width="2.4" stroke-linejoin="round"/>
<path d="M1010.7 132.0 Q1010.1 124.4 1013.8 118.8 Q1007.6 116.3 1003.7 109.7 L995.5 124.6 Z" stroke="#18e4ff" stroke-width="2.4" stroke-linejoin="round"/>
<path d="M1073.4 122.0 Q1065.7 127.1 1057.7 126.9 Q1060.3 134.6 1058.4 142.9 L1074.3 140.6 Z" stroke="#18e4ff" stroke-width="2.4" stroke-linejoin="round"/>
<path d="M1038.5 129.5 Q1046.3 124.7 1054.6 124.7 Q1051.8 116.9 1053.8 107.6 L1036.5 112.9 Z" stroke="#18e4ff" stroke-width="2.4" stroke-linejoin="round"/>
<path d="M1117.5 193.7 Q1110.7 190.8 1108.0 185.1 Q1102.8 188.7 1095.5 187.8 L1103.1 203.6 Z" stroke="#18e4ff" stroke-width="2.4" stroke-linejoin="round"/>
<path d="M1099.2 171.3 Q1106.2 175.2 1109.0 181.5 Q1114.6 177.4 1122.5 177.6 L1114.2 162.6 Z" stroke="#18e4ff" stroke-width="2.4" stroke-linejoin="round"/>
<path d="M1072.2 200.1 Q1076.0 194.6 1082.2 193.3 Q1079.2 187.8 1081.1 181.1 L1063.6 185.4 Z" stroke="#18e4ff" stroke-width="2.4" stroke-linejoin="round"/>
<path d="M1096.8 187.3 Q1092.1 193.4 1085.6 194.8 Q1088.3 200.9 1086.3 208.3 L1103.1 203.6 Z" stroke="#18e4ff" stroke-width="2.4" stroke-linejoin="round"/>
<path d="M1029.7 196.5 Q1031.6 188.8 1037.2 184.4 Q1031.5 180.1 1029.4 172.5 L1016.7 184.4 Z" stroke="#18e4ff" stroke-width="2.4" stroke-linejoin="round"/>
<path d="M1051.9 172.1 Q1048.1 180.1 1041.0 184.5 Q1048.1 189.0 1051.9 196.6 L1063.6 185.4 Z" stroke="#18e4ff" stroke-width="2.4" stroke-linejoin="round"/>
<path d="M1178.6 138.7 Q1178.1 130.1 1182.4 124.0 Q1175.2 121.6 1170.6 115.1 L1161.8 129.9 Z" stroke="#18e4ff" stroke-width="2.4" stroke-linejoin="round"/>
<path d="M1192.4 108.3 Q1191.3 116.9 1186.0 123.0 Q1193.8 125.4 1199.2 131.9 L1207.7 117.1 Z" stroke="#18e4ff" stroke-width="2.4" stroke-linejoin="round"/>
<path d="M1235.7 193.2 Q1231.8 185.9 1232.3 177.4 Q1224.7 180.3 1215.9 177.6 L1220.1 197.2 Z" stroke="#18e4ff" stroke-width="2.4" stroke-linejoin="round"/>
<path d="M1230.1 158.9 Q1234.5 166.3 1234.3 174.2 Q1241.8 171.6 1250.5 173.9 L1246.0 156.6 Z" stroke="#18e4ff" stroke-width="2.4" stroke-linejoin="round"/>
<path d="M1216.5 218.2 Q1220.9 213.9 1224.4 215.5 Q1225.9 211.5 1230.4 211.4 L1220.1 197.2 Z" stroke="#18e4ff" stroke-width="2.4" stroke-linejoin="round"/>
<path d="M1242.8 230.2 Q1232.4 226.3 1225.3 219.2 Q1222.1 228.8 1214.0 237.0 L1231.2 241.7 Z" stroke="#18e4ff" stroke-width="2.4" stroke-linejoin="round"/>
<path d="M1220.7 229.5 Q1217.1 236.3 1210.7 239.7 Q1216.2 244.4 1218.0 252.0 L1231.2 241.7 Z" stroke="#18e4ff" stroke-width="2.4" stroke-linejoin="round"/>
<path d="M1200.1 254.1 Q1201.6 245.5 1206.9 239.9 Q1200.0 236.3 1195.7 228.5 L1186.4 243.9 Z" stroke="#18e4ff" stroke-width="2.4" stroke-linejoin="round"/>
<path d="M748.3 258.5 Q747.8 250.5 751.7 244.5 Q745.0 242.2 740.3 235.7 L733.0 251.0 Z" stroke="#18e4ff" stroke-width="2.4" stroke-linejoin="round"/>
<path d="M758.8 227.7 Q759.3 236.4 755.3 243.2 Q762.9 244.9 768.9 251.0 L775.0 235.0 Z" stroke="#18e4ff" stroke-width="2.4" stroke-linejoin="round"/>
<path d="M847.5 265.3 Q850.2 272.9 848.5 280.0 Q855.7 279.7 862.7 284.0 L863.4 267.4 Z" stroke="#18e4ff" stroke-width="2.4" stroke-linejoin="round"/>
<path d="M845.7 298.4 Q843.1 290.1 845.5 282.4 Q837.5 283.3 829.9 279.5 L828.2 296.2 Z" stroke="#18e4ff" stroke-width="2.4" stroke-linejoin="round"/>
<path d="M929.8 278.5 Q936.2 278.2 940.1 282.5 Q943.3 277.5 949.4 276.7 L938.8 262.0 Z" stroke="#18e4ff" stroke-width="2.4" stroke-linejoin="round"/>
<path d="M952.7 292.2 Q945.2 291.3 940.4 286.3 Q937.3 292.5 930.6 295.6 L943.0 306.8 Z" stroke="#18e4ff" stroke-width="2.4" stroke-linejoin="round"/>
<path d="M929.8 316.6 Q935.1 319.0 936.7 324.2 Q941.4 322.0 947.3 324.9 L943.0 306.8 Z" stroke="#18e4ff" stroke-width="2.4" stroke-linejoin="round"/>
<path d="M945.0 336.2 Q938.3 333.4 935.5 327.8 Q930.3 331.2 922.9 330.1 L930.6 346.3 Z" stroke="#18e4ff" stroke-width="2.4" stroke-linejoin="round"/>
<path d="M883.7 297.6 Q889.3 304.3 890.0 311.6 Q897.0 309.0 905.2 310.9 L900.8 295.1 Z" stroke="#18e4ff" stroke-width="2.4" stroke-linejoin="round"/>
<path d="M898.2 328.6 Q890.9 322.8 888.4 315.0 Q881.8 319.9 872.7 320.5 L881.5 335.7 Z" stroke="#18e4ff" stroke-width="2.4" stroke-linejoin="round"/>
<path d="M810.1 297.2 Q814.4 303.9 813.5 310.9 Q820.5 309.5 827.3 312.9 L828.2 296.2 Z" stroke="#18e4ff" stroke-width="2.4" stroke-linejoin="round"/>
<path d="M812.8 333.8 Q809.6 323.6 811.0 313.7 Q801.7 317.3 791.0 316.4 L796.2 332.5 Z" stroke="#18e4ff" stroke-width="2.4" stroke-linejoin="round"/>
<path d="M977.8 360.5 Q983.7 357.5 989.4 359.4 Q990.5 353.7 996.6 349.9 L978.7 343.1 Z" stroke="#18e4ff" stroke-width="2.4" stroke-linejoin="round"/>
<path d="M1008.3 368.8 Q998.5 367.9 991.1 362.8 Q989.1 371.5 982.2 378.9 L999.6 383.7 Z" stroke="#18e4ff" stroke-width="2.4" stroke-linejoin="round"/>
<path d="M832.6 400.8 Q826.4 395.7 824.4 388.7 Q818.4 392.8 810.2 392.7 L817.9 407.6 Z" stroke="#18e4ff" stroke-width="2.4" stroke-linejoin="round"/>
<path d="M819.5 369.6 Q825.0 376.8 825.9 385.2 Q833.3 381.3 842.5 382.0 L836.3 365.5 Z" stroke="#18e4ff" stroke-width="2.4" stroke-linejoin="round"/>
<path d="M817.4 390.6 Q810.8 395.0 804.0 394.6 Q805.2 401.3 801.9 408.2 L817.9 407.6 Z" stroke="#18e4ff" stroke-width="2.4" stroke-linejoin="round"/>
<path d="M787.3 395.3 Q794.2 391.3 801.2 392.0 Q800.2 385.0 803.8 377.9 L787.2 378.3 Z" stroke="#18e4ff" stroke-width="2.4" stroke-linejoin="round"/>
<path d="M774.9 412.3 Q770.4 404.9 771.3 397.7 Q763.9 399.0 757.0 395.9 L755.6 411.4 Z" stroke="#18e4ff" stroke-width="2.4" stroke-linejoin="round"/>
<path d="M770.6 378.6 Q774.6 386.8 773.9 395.0 Q781.8 392.6 790.7 394.9 L787.2 378.3 Z" stroke="#18e4ff" stroke-width="2.4" stroke-linejoin="round"/>
<path d="M814.3 424.2 Q820.8 421.6 826.2 423.6 Q827.4 417.9 832.8 413.9 L817.9 407.6 Z" stroke="#18e4ff" stroke-width="2.4" stroke-linejoin="round"/>
<path d="M847.1 431.1 Q836.8 431.1 828.2 426.9 Q828.5 436.4 824.0 446.0 L841.0 446.0 Z" stroke="#18e4ff" stroke-width="2.4" stroke-linejoin="round"/>
<path d="M737.3 418.0 Q743.3 420.0 744.1 423.9 Q748.3 423.2 751.4 426.8 L755.6 411.4 Z" stroke="#18e4ff" stroke-width="2.4" stroke-linejoin="round"/>
<path d="M745.0 446.6 Q742.2 437.0 742.2 427.1 Q735.7 434.6 726.9 439.7 L735.0 448.0 Z" stroke="#18e4ff" stroke-width="2.4" stroke-linejoin="round"/>
<path d="M1083.5 332.8 Q1084.5 325.6 1089.5 321.0 Q1083.7 317.5 1081.3 310.3 L1069.0 323.9 Z" stroke="#18e4ff" stroke-width="2.4" stroke-linejoin="round"/>
<path d="M1100.9 308.5 Q1098.9 316.3 1093.3 320.7 Q1099.1 324.9 1101.5 332.4 L1113.8 320.7 Z" stroke="#18e4ff" stroke-width="2.4" stroke-linejoin="round"/>
<path d="M1040.6 345.7 Q1040.5 338.0 1044.8 332.5 Q1038.3 330.0 1034.3 323.6 L1025.2 337.8 Z" stroke="#18e4ff" stroke-width="2.4" stroke-linejoin="round"/>
<path d="M1052.9 317.0 Q1052.9 325.1 1048.4 331.4 Q1055.8 333.2 1061.1 339.5 L1069.0 323.9 Z" stroke="#18e4ff" stroke-width="2.4" stroke-linejoin="round"/>
<path d="M1050.4 360.5 Q1042.3 361.9 1035.7 358.7 Q1034.6 366.0 1029.0 371.9 L1045.1 377.3 Z" stroke="#18e4ff" stroke-width="2.4" stroke-linejoin="round"/>
<path d="M1019.1 353.1 Q1027.4 352.1 1034.0 355.3 Q1035.7 348.2 1042.2 342.5 L1025.2 337.8 Z" stroke="#18e4ff" stroke-width="2.4" stroke-linejoin="round"/>
<path d="M1188.2 294.0 Q1190.9 301.7 1188.9 308.8 Q1196.2 309.0 1203.0 314.3 L1205.2 295.7 Z" stroke="#18e4ff" stroke-width="2.4" stroke-linejoin="round"/>
<path d="M1185.8 328.9 Q1183.7 319.9 1186.0 311.3 Q1177.4 312.4 1168.2 308.1 L1169.9 327.1 Z" stroke="#18e4ff" stroke-width="2.4" stroke-linejoin="round"/>
<path d="M1160.4 342.9 Q1165.7 342.0 1168.4 345.5 Q1171.6 342.5 1176.7 344.2 L1169.9 327.1 Z" stroke="#18e4ff" stroke-width="2.4" stroke-linejoin="round"/>
<path d="M1180.6 359.8 Q1172.7 356.2 1168.2 349.3 Q1163.5 356.0 1155.2 359.2 L1168.2 371.9 Z" stroke="#18e4ff" stroke-width="2.4" stroke-linejoin="round"/>
<path d="M1159.7 387.9 Q1166.2 387.4 1170.2 391.4 Q1173.4 386.8 1180.0 386.1 L1168.2 371.9 Z" stroke="#18e4ff" stroke-width="2.4" stroke-linejoin="round"/>
<path d="M1182.6 401.3 Q1175.2 400.3 1170.6 395.2 Q1166.9 400.9 1159.7 403.1 L1172.5 415.7 Z" stroke="#18e4ff" stroke-width="2.4" stroke-linejoin="round"/>
<path d="M1202.5 406.0 Q1200.5 412.9 1194.7 416.8 Q1200.1 421.0 1201.3 428.5 L1216.3 416.8 Z" stroke="#18e4ff" stroke-width="2.4" stroke-linejoin="round"/>
<path d="M1185.3 428.4 Q1186.3 420.8 1190.9 416.7 Q1186.5 412.4 1185.8 405.1 L1172.5 415.7 Z" stroke="#18e4ff" stroke-width="2.4" stroke-linejoin="round"/>
<path d="M1234.6 397.5 Q1238.1 399.5 1238.7 402.5 Q1241.7 402.2 1244.7 405.0 L1245.0 394.0 Z" stroke="#18e4ff" stroke-width="2.4" stroke-linejoin="round"/>
<path d="M1235.1 421.5 Q1232.9 412.6 1236.0 405.0 Q1227.6 405.1 1220.3 400.8 L1216.3 416.8 Z" stroke="#18e4ff" stroke-width="2.4" stroke-linejoin="round"/>
<path d="M1169.2 433.9 Q1174.7 431.0 1179.3 433.1 Q1181.0 428.2 1186.6 426.3 L1172.5 415.7 Z" stroke="#18e4ff" stroke-width="2.4" stroke-linejoin="round"/>
<path d="M1191.0 441.3 Q1184.8 440.1 1180.5 436.7 Q1178.0 441.7 1172.1 445.7 L1184.2 449.0 Z" stroke="#18e4ff" stroke-width="2.4" stroke-linejoin="round"/>
</g>
<g filter="url(#b4)">
<circle cx="798.3" cy="38.1" r="4.8" fill="#30ff78"/>
<circle cx="798.3" cy="38.1" r="2.1" fill="#b8f828"/>
<circle cx="924.7" cy="54.2" r="4.8" fill="#30ff78"/>
<circle cx="924.7" cy="54.2" r="2.1" fill="#b8f828"/>
<circle cx="980.2" cy="55.2" r="4.8" fill="#30ff78"/>
<circle cx="980.2" cy="55.2" r="2.1" fill="#b8f828"/>
<circle cx="854.9" cy="92.6" r="4.8" fill="#30ff78"/>
<circle cx="854.9" cy="92.6" r="2.1" fill="#b8f828"/>
<circle cx="884.7" cy="111.8" r="5.2" fill="#48ff60"/>
<circle cx="884.7" cy="111.8" r="2.8" fill="#fff000"/>
<circle cx="973.3" cy="119.3" r="4.8" fill="#30ff78"/>
<circle cx="973.3" cy="119.3" r="2.1" fill="#b8f828"/>
<circle cx="987.2" cy="141.7" r="4.8" fill="#30ff78"/>
<circle cx="987.2" cy="141.7" r="2.1" fill="#b8f828"/>
<circle cx="957.3" cy="162.6" r="5.2" fill="#48ff60"/>
<circle cx="957.3" cy="162.6" r="2.8" fill="#fff000"/>
<circle cx="996.8" cy="172.3" r="5.2" fill="#48ff60"/>
<circle cx="996.8" cy="172.3" r="2.8" fill="#fff000"/>
<circle cx="884.7" cy="201.0" r="5.2" fill="#48ff60"/>
<circle cx="884.7" cy="201.0" r="2.8" fill="#fff000"/>
<circle cx="736.4" cy="182.6" r="4.8" fill="#30ff78"/>
<circle cx="736.4" cy="182.6" r="2.1" fill="#b8f828"/>
<circle cx="911.0" cy="169.4" r="3.6" fill="#20f8b0"/>
<circle cx="838.9" cy="207.8" r="3.6" fill="#20f8b0"/>
<circle cx="1124.0" cy="56.3" r="4.8" fill="#30ff78"/>
<circle cx="1124.0" cy="56.3" r="2.1" fill="#b8f828"/>
<circle cx="1112.7" cy="87.9" r="5.2" fill="#48ff60"/>
<circle cx="1112.7" cy="87.9" r="2.8" fill="#fff000"/>
<circle cx="1043.4" cy="92.1" r="4.8" fill="#30ff78"/>
<circle cx="1043.4" cy="92.1" r="2.1" fill="#b8f828"/>
<circle cx="1015.6" cy="118.2" r="4.8" fill="#30ff78"/>
<circle cx="1015.6" cy="118.2" r="2.1" fill="#b8f828"/>
<circle cx="1056.2" cy="125.7" r="4.8" fill="#30ff78"/>
<circle cx="1056.2" cy="125.7" r="2.1" fill="#b8f828"/>
<circle cx="1092.5" cy="153.4" r="3.6" fill="#20f8b0"/>
<circle cx="1108.5" cy="183.3" r="4.8" fill="#30ff78"/>
<circle cx="1108.5" cy="183.3" r="2.1" fill="#b8f828"/>
<circle cx="1083.9" cy="194.0" r="5.2" fill="#48ff60"/>
<circle cx="1083.9" cy="194.0" r="2.8" fill="#fff000"/>
<circle cx="1039.1" cy="184.4" r="4.8" fill="#30ff78"/>
<circle cx="1039.1" cy="184.4" r="2.1" fill="#b8f828"/>
<circle cx="1184.2" cy="123.5" r="4.8" fill="#30ff78"/>
<circle cx="1184.2" cy="123.5" r="2.1" fill="#b8f828"/>
<circle cx="1233.3" cy="175.8" r="5.2" fill="#48ff60"/>
<circle cx="1233.3" cy="175.8" r="2.8" fill="#fff000"/>
<circle cx="1224.8" cy="217.4" r="5.2" fill="#48ff60"/>
<circle cx="1224.8" cy="217.4" r="2.8" fill="#fff000"/>
<circle cx="1224.8" cy="99.0" r="3.6" fill="#20f8b0"/>
<circle cx="1208.8" cy="239.5" r="4.8" fill="#30ff78"/>
<circle cx="1208.8" cy="239.5" r="2.1" fill="#b8f828"/>
<circle cx="753.5" cy="243.9" r="4.8" fill="#30ff78"/>
<circle cx="753.5" cy="243.9" r="2.1" fill="#b8f828"/>
<circle cx="847.0" cy="281.2" r="5.2" fill="#48ff60"/>
<circle cx="847.0" cy="281.2" r="2.8" fill="#fff000"/>
<circle cx="940.2" cy="284.4" r="5.2" fill="#48ff60"/>
<circle cx="940.2" cy="284.4" r="2.8" fill="#fff000"/>
<circle cx="936.0" cy="326.0" r="4.8" fill="#30ff78"/>
<circle cx="936.0" cy="326.0" r="2.1" fill="#b8f828"/>
<circle cx="889.0" cy="313.2" r="4.8" fill="#30ff78"/>
<circle cx="889.0" cy="313.2" r="2.1" fill="#b8f828"/>
<circle cx="812.2" cy="312.2" r="4.8" fill="#30ff78"/>
<circle cx="812.2" cy="312.2" r="2.1" fill="#b8f828"/>
<circle cx="990.4" cy="361.0" r="4.8" fill="#30ff78"/>
<circle cx="990.4" cy="361.0" r="2.1" fill="#b8f828"/>
<circle cx="825.0" cy="386.9" r="4.8" fill="#30ff78"/>
<circle cx="825.0" cy="386.9" r="2.1" fill="#b8f828"/>
<circle cx="802.6" cy="393.3" r="5.2" fill="#48ff60"/>
<circle cx="802.6" cy="393.3" r="2.8" fill="#fff000"/>
<circle cx="772.7" cy="396.5" r="4.8" fill="#30ff78"/>
<circle cx="772.7" cy="396.5" r="2.1" fill="#b8f828"/>
<circle cx="736.4" cy="408.2" r="5.2" fill="#48ff60"/>
<circle cx="736.4" cy="408.2" r="2.8" fill="#fff000"/>
<circle cx="827.1" cy="425.3" r="5.2" fill="#48ff60"/>
<circle cx="827.1" cy="425.3" r="2.8" fill="#fff000"/>
<circle cx="742.8" cy="425.3" r="4.8" fill="#30ff78"/>
<circle cx="742.8" cy="425.3" r="2.1" fill="#b8f828"/>
<circle cx="1091.4" cy="320.7" r="4.8" fill="#30ff78"/>
<circle cx="1091.4" cy="320.7" r="2.1" fill="#b8f828"/>
<circle cx="1046.6" cy="332.0" r="5.2" fill="#48ff60"/>
<circle cx="1046.6" cy="332.0" r="2.8" fill="#fff000"/>
<circle cx="1034.8" cy="357.0" r="5.2" fill="#48ff60"/>
<circle cx="1034.8" cy="357.0" r="2.8" fill="#fff000"/>
<circle cx="1187.4" cy="310.0" r="4.8" fill="#30ff78"/>
<circle cx="1187.4" cy="310.0" r="2.1" fill="#b8f828"/>
<circle cx="1168.2" cy="347.4" r="5.2" fill="#48ff60"/>
<circle cx="1168.2" cy="347.4" r="2.8" fill="#fff000"/>
<circle cx="1170.4" cy="393.3" r="5.2" fill="#48ff60"/>
<circle cx="1170.4" cy="393.3" r="2.8" fill="#fff000"/>
<circle cx="1192.8" cy="416.8" r="4.8" fill="#30ff78"/>
<circle cx="1192.8" cy="416.8" r="2.1" fill="#b8f828"/>
<circle cx="1237.6" cy="404.0" r="4.8" fill="#30ff78"/>
<circle cx="1237.6" cy="404.0" r="2.1" fill="#b8f828"/>
<circle cx="1180.0" cy="434.9" r="5.2" fill="#48ff60"/>
<circle cx="1180.0" cy="434.9" r="2.8" fill="#fff000"/>
<circle cx="1079.6" cy="302.6" r="3.6" fill="#20f8b0"/>
<circle cx="1244.0" cy="380.5" r="3.6" fill="#20f8b0"/>
</g>
<g filter="url(#b3)" fill="#fff">
<ellipse cx="735" cy="27" rx="14" ry="14"/>
<ellipse cx="782.3" cy="56.3" rx="17.5" ry="18.1"/>
<ellipse cx="815" cy="26.4" rx="16.5" ry="15"/>
<ellipse cx="874.1" cy="44.5" rx="17.5" ry="18.1"/>
<ellipse cx="930.2" cy="33.9" rx="16.3" ry="18"/>
<ellipse cx="981" cy="33.9" rx="16.7" ry="19"/>
<ellipse cx="919.5" cy="75.9" rx="17.5" ry="17.5"/>
<ellipse cx="980.2" cy="78.7" rx="16" ry="19.2"/>
<ellipse cx="777" cy="105.4" rx="18.6" ry="17.7"/>
<ellipse cx="831.4" cy="92.6" rx="18.8" ry="17.5"/>
<ellipse cx="876.2" cy="92.6" rx="17" ry="17"/>
<ellipse cx="952" cy="113.9" rx="17" ry="17"/>
<ellipse cx="995.5" cy="124.6" rx="16.9" ry="17"/>
<ellipse cx="819.6" cy="142.7" rx="17.5" ry="18.8"/>
<ellipse cx="894.4" cy="133.1" rx="16.6" ry="18.8" transform="rotate(-15 894.4 133.1)"/>
<ellipse cx="936" cy="165.1" rx="17.5" ry="16" transform="rotate(-20 936 165.1)"/>
<ellipse cx="978.7" cy="160.9" rx="17.5" ry="17"/>
<ellipse cx="763.1" cy="184.4" rx="18.6" ry="18.1"/>
<ellipse cx="848.5" cy="186.5" rx="17" ry="18.1"/>
<ellipse cx="891.2" cy="181.2" rx="16.6" ry="17.5"/>
<ellipse cx="938.1" cy="212.1" rx="17" ry="17"/>
<ellipse cx="879.4" cy="222.8" rx="16" ry="18.8"/>
<ellipse cx="775" cy="235" rx="18" ry="17"/>
<ellipse cx="830" cy="230.4" rx="17" ry="18.4"/>
<ellipse cx="983" cy="229" rx="17.5" ry="18"/>
<ellipse cx="733" cy="251" rx="17" ry="17"/>
<ellipse cx="773.8" cy="288.7" rx="17" ry="18.8"/>
<ellipse cx="828.2" cy="296.2" rx="18.8" ry="16" transform="rotate(-30 828.2 296.2)"/>
<ellipse cx="863.4" cy="267.4" rx="16" ry="16.6"/>
<ellipse cx="900.8" cy="295.1" rx="17.5" ry="16" transform="rotate(15 900.8 295.1)"/>
<ellipse cx="938.8" cy="262" rx="15.4" ry="20.3"/>
<ellipse cx="943" cy="306.8" rx="15.4" ry="18.8"/>
<ellipse cx="997" cy="288.7" rx="18.3" ry="19.2"/>
<ellipse cx="750.3" cy="332.5" rx="18.1" ry="17"/>
<ellipse cx="796.2" cy="332.5" rx="16.6" ry="17"/>
<ellipse cx="881.5" cy="335.7" rx="18.1" ry="17.5" transform="rotate(-20 881.5 335.7)"/>
<ellipse cx="930.6" cy="346.3" rx="18.1" ry="17.5" transform="rotate(30 930.6 346.3)"/>
<ellipse cx="978.7" cy="343.1" rx="19.2" ry="17" transform="rotate(30 978.7 343.1)"/>
<ellipse cx="836.3" cy="365.5" rx="17" ry="18.1" transform="rotate(20 836.3 365.5)"/>
<ellipse cx="787.2" cy="378.3" rx="16.6" ry="17"/>
<ellipse cx="948.1" cy="394.4" rx="17.5" ry="18.1"/>
<ellipse cx="999.6" cy="383.7" rx="18.1" ry="17"/>
<ellipse cx="755.6" cy="411.4" rx="19.6" ry="15.4" transform="rotate(-10 755.6 411.4)"/>
<ellipse cx="817.9" cy="407.6" rx="16" ry="17"/>
<ellipse cx="888" cy="413.1" rx="19.2" ry="18.1"/>
<ellipse cx="977.6" cy="434.9" rx="17" ry="18.1" transform="rotate(-15 977.6 434.9)"/>
<ellipse cx="788.7" cy="445" rx="18.1" ry="17"/>
<ellipse cx="841" cy="446" rx="17" ry="16"/>
<ellipse cx="735" cy="448" rx="10" ry="14"/>
<ellipse cx="1069" cy="23" rx="11" ry="6.5"/>
<ellipse cx="1117" cy="37.1" rx="15.6" ry="18.1"/>
<ellipse cx="1200.2" cy="48.8" rx="18.8" ry="18.1" transform="rotate(20 1200.2 48.8)"/>
<ellipse cx="1051.3" cy="70.2" rx="17.5" ry="18.1"/>
<ellipse cx="1134.1" cy="76.6" rx="16.6" ry="18.8" transform="rotate(20 1134.1 76.6)"/>
<ellipse cx="1237.6" cy="83.6" rx="16.5" ry="16"/>
<ellipse cx="1091.4" cy="97.9" rx="17.5" ry="16.6" transform="rotate(-20 1091.4 97.9)"/>
<ellipse cx="1036.5" cy="112.9" rx="18.1" ry="16.6" transform="rotate(-20 1036.5 112.9)"/>
<ellipse cx="1207.7" cy="117.1" rx="19.2" ry="16" transform="rotate(-10 1207.7 117.1)"/>
<ellipse cx="1161.8" cy="129.9" rx="19.2" ry="17" transform="rotate(10 1161.8 129.9)"/>
<ellipse cx="1074.3" cy="140.6" rx="16" ry="18.8" transform="rotate(-15 1074.3 140.6)"/>
<ellipse cx="1114.2" cy="162.6" rx="17.5" ry="17"/>
<ellipse cx="1246" cy="156.6" rx="16" ry="18"/>
<ellipse cx="1016.7" cy="184.4" rx="18.1" ry="17" transform="rotate(10 1016.7 184.4)"/>
<ellipse cx="1063.6" cy="185.4" rx="19.2" ry="15.4" transform="rotate(15 1063.6 185.4)"/>
<ellipse cx="1157.6" cy="198.2" rx="19.2" ry="17.5" transform="rotate(15 1157.6 198.2)"/>
<ellipse cx="1220.1" cy="197.2" rx="15.4" ry="21.3" transform="rotate(10 1220.1 197.2)"/>
<ellipse cx="1103.1" cy="203.6" rx="17.5" ry="17.5"/>
<ellipse cx="1033.5" cy="233" rx="18.3" ry="18.3"/>
<ellipse cx="1186.4" cy="243.9" rx="17" ry="18.1" transform="rotate(20 1186.4 243.9)"/>
<ellipse cx="1231.2" cy="241.7" rx="18.1" ry="15"/>
<ellipse cx="1083.3" cy="281.2" rx="17" ry="18.8"/>
<ellipse cx="1142.6" cy="271.6" rx="18.1" ry="17.5"/>
<ellipse cx="1205.2" cy="295.7" rx="17" ry="18.8" transform="rotate(15 1205.2 295.7)"/>
<ellipse cx="1113.8" cy="320.7" rx="18.1" ry="16.6" transform="rotate(15 1113.8 320.7)"/>
<ellipse cx="1069" cy="323.9" rx="19.2" ry="16" transform="rotate(-20 1069 323.9)"/>
<ellipse cx="1025.2" cy="337.8" rx="18.1" ry="16" transform="rotate(-10 1025.2 337.8)"/>
<ellipse cx="1169.9" cy="327.1" rx="16" ry="19.2" transform="rotate(5 1169.9 327.1)"/>
<ellipse cx="1249" cy="317.5" rx="4" ry="8"/>
<ellipse cx="1045.1" cy="377.3" rx="16.6" ry="18.1" transform="rotate(-15 1045.1 377.3)"/>
<ellipse cx="1112.7" cy="367.7" rx="17.5" ry="18.1" transform="rotate(-10 1112.7 367.7)"/>
<ellipse cx="1168.2" cy="371.9" rx="16.6" ry="19.2" transform="rotate(-10 1168.2 371.9)"/>
<ellipse cx="1224.4" cy="362.8" rx="18.1" ry="17.5"/>
<ellipse cx="1245" cy="394" rx="11" ry="11"/>
<ellipse cx="1094.6" cy="414.6" rx="17" ry="18.8" transform="rotate(10 1094.6 414.6)"/>
<ellipse cx="1047.6" cy="428.5" rx="17.5" ry="18.1"/>
<ellipse cx="1172.5" cy="415.7" rx="16.6" ry="18.8" transform="rotate(-10 1172.5 415.7)"/>
<ellipse cx="1216.3" cy="416.8" rx="20.3" ry="16" transform="rotate(-10 1216.3 416.8)"/>
<ellipse cx="1184.2" cy="449" rx="13" ry="9"/>
<ellipse cx="1249" cy="447" rx="8" ry="8"/>
<path d="M798.8 23.4 Q801.6 30.6 799.9 37.0 Q806.5 37.0 812.5 41.2 L815.0 26.4 Z"/>
<path d="M799.8 56.6 Q796.0 48.0 797.0 39.5 Q788.7 41.5 779.7 38.4 L782.3 56.3 Z"/>
<path d="M916.6 43.8 Q922.8 46.7 925.2 52.4 Q930.2 49.0 937.3 50.1 L930.2 33.9 Z"/>
<path d="M934.5 66.8 Q927.3 62.7 924.3 56.0 Q918.6 60.6 910.3 61.0 L919.5 75.9 Z"/>
<path d="M970.4 48.5 Q976.8 48.9 980.3 53.3 Q984.1 49.2 990.6 49.4 L981.0 33.9 Z"/>
<path d="M992.0 65.7 Q984.4 63.2 980.2 57.1 Q976.0 63.2 968.4 65.7 L980.2 78.7 Z"/>
<path d="M864.0 80.8 Q862.1 88.4 856.8 92.6 Q862.1 96.8 864.0 104.4 L876.2 92.6 Z"/>
<path d="M844.5 105.1 Q846.9 97.1 853.0 92.6 Q846.9 88.1 844.5 80.1 L831.4 92.6 Z"/>
<path d="M870.7 108.7 Q878.1 107.1 883.9 110.1 Q885.7 103.8 891.8 99.3 L876.2 92.6 Z"/>
<path d="M900.3 116.1 Q892.1 117.2 885.5 113.5 Q884.2 121.0 878.3 126.7 L894.4 133.1 Z"/>
<path d="M960.4 128.7 Q964.8 121.7 971.5 118.8 Q966.9 113.1 966.4 104.9 L952.0 113.9 Z"/>
<path d="M987.7 109.5 Q982.5 116.7 975.1 119.7 Q980.4 125.7 981.7 134.5 L995.5 124.6 Z"/>
<path d="M980.9 133.2 Q986.5 135.4 988.0 140.0 Q992.6 138.4 997.8 141.4 L995.5 124.6 Z"/>
<path d="M994.7 153.9 Q988.3 149.7 986.4 143.4 Q980.6 146.4 973.3 144.7 L978.7 160.9 Z"/>
<path d="M965.0 150.3 Q964.0 157.9 959.2 162.4 Q964.7 166.2 966.9 173.5 L978.7 160.9 Z"/>
<path d="M949.3 174.7 Q950.5 167.4 955.4 162.8 Q949.7 159.3 947.2 152.1 L936.0 165.1 Z"/>
<path d="M983.1 177.3 Q988.5 172.0 995.2 171.3 Q993.1 165.0 995.9 157.7 L978.7 160.9 Z"/>
<path d="M1013.1 167.6 Q1006.3 172.8 998.4 173.3 Q1001.3 180.5 999.4 189.1 L1016.7 184.4 Z"/>
<path d="M876.9 190.0 Q883.1 193.4 885.3 199.2 Q890.6 196.0 897.7 197.3 L891.2 181.2 Z"/>
<path d="M893.1 213.0 Q886.8 209.3 884.3 202.8 Q878.8 207.0 871.1 206.7 L879.4 222.8 Z"/>
<path d="M1111.9 54.2 Q1118.3 52.0 1123.3 54.5 Q1125.1 49.0 1130.6 46.0 L1117.0 37.1 Z"/>
<path d="M1140.4 58.9 Q1131.8 60.9 1124.8 58.0 Q1123.8 65.5 1118.3 71.6 L1134.1 76.6 Z"/>
<path d="M1107.0 104.8 Q1106.8 95.8 1111.0 88.7 Q1102.9 87.5 1096.1 81.7 L1091.4 97.9 Z"/>
<path d="M1118.7 70.4 Q1118.7 79.6 1114.4 87.0 Q1122.8 88.4 1130.1 94.9 L1134.1 76.6 Z"/>
<path d="M1052.7 104.9 Q1045.5 100.5 1042.8 93.9 Q1036.9 98.1 1028.9 98.1 L1036.5 112.9 Z"/>
<path d="M1035.2 77.4 Q1041.9 82.8 1044.0 90.3 Q1050.5 86.1 1059.3 86.3 L1051.3 70.2 Z"/>
<path d="M1020.9 105.4 Q1021.4 112.6 1017.4 117.7 Q1023.3 120.4 1026.2 127.1 L1036.5 112.9 Z"/>
<path d="M1010.7 132.0 Q1010.1 124.4 1013.8 118.8 Q1007.6 116.3 1003.7 109.7 L995.5 124.6 Z"/>
<path d="M1073.4 122.0 Q1065.7 127.1 1057.7 126.9 Q1060.3 134.6 1058.4 142.9 L1074.3 140.6 Z"/>
<path d="M1038.5 129.5 Q1046.3 124.7 1054.6 124.7 Q1051.8 116.9 1053.8 107.6 L1036.5 112.9 Z"/>
<path d="M1117.5 193.7 Q1110.7 190.8 1108.0 185.1 Q1102.8 188.7 1095.5 187.8 L1103.1 203.6 Z"/>
<path d="M1099.2 171.3 Q1106.2 175.2 1109.0 181.5 Q1114.6 177.4 1122.5 177.6 L1114.2 162.6 Z"/>
<path d="M1072.2 200.1 Q1076.0 194.6 1082.2 193.3 Q1079.2 187.8 1081.1 181.1 L1063.6 185.4 Z"/>
<path d="M1096.8 187.3 Q1092.1 193.4 1085.6 194.8 Q1088.3 200.9 1086.3 208.3 L1103.1 203.6 Z"/>
<path d="M1029.7 196.5 Q1031.6 188.8 1037.2 184.4 Q1031.5 180.1 1029.4 172.5 L1016.7 184.4 Z"/>
<path d="M1051.9 172.1 Q1048.1 180.1 1041.0 184.5 Q1048.1 189.0 1051.9 196.6 L1063.6 185.4 Z"/>
<path d="M1178.6 138.7 Q1178.1 130.1 1182.4 124.0 Q1175.2 121.6 1170.6 115.1 L1161.8 129.9 Z"/>
<path d="M1192.4 108.3 Q1191.3 116.9 1186.0 123.0 Q1193.8 125.4 1199.2 131.9 L1207.7 117.1 Z"/>
<path d="M1235.7 193.2 Q1231.8 185.9 1232.3 177.4 Q1224.7 180.3 1215.9 177.6 L1220.1 197.2 Z"/>
<path d="M1230.1 158.9 Q1234.5 166.3 1234.3 174.2 Q1241.8 171.6 1250.5 173.9 L1246.0 156.6 Z"/>
<path d="M1216.5 218.2 Q1220.9 213.9 1224.4 215.5 Q1225.9 211.5 1230.4 211.4 L1220.1 197.2 Z"/>
<path d="M1242.8 230.2 Q1232.4 226.3 1225.3 219.2 Q1222.1 228.8 1214.0 237.0 L1231.2 241.7 Z"/>
<path d="M1220.7 229.5 Q1217.1 236.3 1210.7 239.7 Q1216.2 244.4 1218.0 252.0 L1231.2 241.7 Z"/>
<path d="M1200.1 254.1 Q1201.6 245.5 1206.9 239.9 Q1200.0 236.3 1195.7 228.5 L1186.4 243.9 Z"/>
<path d="M748.3 258.5 Q747.8 250.5 751.7 244.5 Q745.0 242.2 740.3 235.7 L733.0 251.0 Z"/>
<path d="M758.8 227.7 Q759.3 236.4 755.3 243.2 Q762.9 244.9 768.9 251.0 L775.0 235.0 Z"/>
<path d="M847.5 265.3 Q850.2 272.9 848.5 280.0 Q855.7 279.7 862.7 284.0 L863.4 267.4 Z"/>
<path d="M845.7 298.4 Q843.1 290.1 845.5 282.4 Q837.5 283.3 829.9 279.5 L828.2 296.2 Z"/>
<path d="M929.8 278.5 Q936.2 278.2 940.1 282.5 Q943.3 277.5 949.4 276.7 L938.8 262.0 Z"/>
<path d="M952.7 292.2 Q945.2 291.3 940.4 286.3 Q937.3 292.5 930.6 295.6 L943.0 306.8 Z"/>
<path d="M929.8 316.6 Q935.1 319.0 936.7 324.2 Q941.4 322.0 947.3 324.9 L943.0 306.8 Z"/>
<path d="M945.0 336.2 Q938.3 333.4 935.5 327.8 Q930.3 331.2 922.9 330.1 L930.6 346.3 Z"/>
<path d="M883.7 297.6 Q889.3 304.3 890.0 311.6 Q897.0 309.0 905.2 310.9 L900.8 295.1 Z"/>
<path d="M898.2 328.6 Q890.9 322.8 888.4 315.0 Q881.8 319.9 872.7 320.5 L881.5 335.7 Z"/>
<path d="M810.1 297.2 Q814.4 303.9 813.5 310.9 Q820.5 309.5 827.3 312.9 L828.2 296.2 Z"/>
<path d="M812.8 333.8 Q809.6 323.6 811.0 313.7 Q801.7 317.3 791.0 316.4 L796.2 332.5 Z"/>
<path d="M977.8 360.5 Q983.7 357.5 989.4 359.4 Q990.5 353.7 996.6 349.9 L978.7 343.1 Z"/>
<path d="M1008.3 368.8 Q998.5 367.9 991.1 362.8 Q989.1 371.5 982.2 378.9 L999.6 383.7 Z"/>
<path d="M832.6 400.8 Q826.4 395.7 824.4 388.7 Q818.4 392.8 810.2 392.7 L817.9 407.6 Z"/>
<path d="M819.5 369.6 Q825.0 376.8 825.9 385.2 Q833.3 381.3 842.5 382.0 L836.3 365.5 Z"/>
<path d="M817.4 390.6 Q810.8 395.0 804.0 394.6 Q805.2 401.3 801.9 408.2 L817.9 407.6 Z"/>
<path d="M787.3 395.3 Q794.2 391.3 801.2 392.0 Q800.2 385.0 803.8 377.9 L787.2 378.3 Z"/>
<path d="M774.9 412.3 Q770.4 404.9 771.3 397.7 Q763.9 399.0 757.0 395.9 L755.6 411.4 Z"/>
<path d="M770.6 378.6 Q774.6 386.8 773.9 395.0 Q781.8 392.6 790.7 394.9 L787.2 378.3 Z"/>
<path d="M814.3 424.2 Q820.8 421.6 826.2 423.6 Q827.4 417.9 832.8 413.9 L817.9 407.6 Z"/>
<path d="M847.1 431.1 Q836.8 431.1 828.2 426.9 Q828.5 436.4 824.0 446.0 L841.0 446.0 Z"/>
<path d="M737.3 418.0 Q743.3 420.0 744.1 423.9 Q748.3 423.2 751.4 426.8 L755.6 411.4 Z"/>
<path d="M745.0 446.6 Q742.2 437.0 742.2 427.1 Q735.7 434.6 726.9 439.7 L735.0 448.0 Z"/>
<path d="M1083.5 332.8 Q1084.5 325.6 1089.5 321.0 Q1083.7 317.5 1081.3 310.3 L1069.0 323.9 Z"/>
<path d="M1100.9 308.5 Q1098.9 316.3 1093.3 320.7 Q1099.1 324.9 1101.5 332.4 L1113.8 320.7 Z"/>
<path d="M1040.6 345.7 Q1040.5 338.0 1044.8 332.5 Q1038.3 330.0 1034.3 323.6 L1025.2 337.8 Z"/>
<path d="M1052.9 317.0 Q1052.9 325.1 1048.4 331.4 Q1055.8 333.2 1061.1 339.5 L1069.0 323.9 Z"/>
<path d="M1050.4 360.5 Q1042.3 361.9 1035.7 358.7 Q1034.6 366.0 1029.0 371.9 L1045.1 377.3 Z"/>
<path d="M1019.1 353.1 Q1027.4 352.1 1034.0 355.3 Q1035.7 348.2 1042.2 342.5 L1025.2 337.8 Z"/>
<path d="M1188.2 294.0 Q1190.9 301.7 1188.9 308.8 Q1196.2 309.0 1203.0 314.3 L1205.2 295.7 Z"/>
<path d="M1185.8 328.9 Q1183.7 319.9 1186.0 311.3 Q1177.4 312.4 1168.2 308.1 L1169.9 327.1 Z"/>
<path d="M1160.4 342.9 Q1165.7 342.0 1168.4 345.5 Q1171.6 342.5 1176.7 344.2 L1169.9 327.1 Z"/>
<path d="M1180.6 359.8 Q1172.7 356.2 1168.2 349.3 Q1163.5 356.0 1155.2 359.2 L1168.2 371.9 Z"/>
<path d="M1159.7 387.9 Q1166.2 387.4 1170.2 391.4 Q1173.4 386.8 1180.0 386.1 L1168.2 371.9 Z"/>
<path d="M1182.6 401.3 Q1175.2 400.3 1170.6 395.2 Q1166.9 400.9 1159.7 403.1 L1172.5 415.7 Z"/>
<path d="M1202.5 406.0 Q1200.5 412.9 1194.7 416.8 Q1200.1 421.0 1201.3 428.5 L1216.3 416.8 Z"/>
<path d="M1185.3 428.4 Q1186.3 420.8 1190.9 416.7 Q1186.5 412.4 1185.8 405.1 L1172.5 415.7 Z"/>
<path d="M1234.6 397.5 Q1238.1 399.5 1238.7 402.5 Q1241.7 402.2 1244.7 405.0 L1245.0 394.0 Z"/>
<path d="M1235.1 421.5 Q1232.9 412.6 1236.0 405.0 Q1227.6 405.1 1220.3 400.8 L1216.3 416.8 Z"/>
<path d="M1169.2 433.9 Q1174.7 431.0 1179.3 433.1 Q1181.0 428.2 1186.6 426.3 L1172.5 415.7 Z"/>
<path d="M1191.0 441.3 Q1184.8 440.1 1180.5 436.7 Q1178.0 441.7 1172.1 445.7 L1184.2 449.0 Z"/>
</g>
</g>
<rect x="1258.8" y="51.7" width="7.9" height="397.8" fill="url(#cb)"/>
<line x1="1258.8" y1="395.4" x2="1266.7" y2="395.4" stroke="#333" stroke-width="0.6" opacity="0.6"/>
<text x="1270" y="404.6" font-size="25.5" fill="#111" textLength="15.6" lengthAdjust="spacingAndGlyphs">1</text>
<line x1="1258.8" y1="323.6" x2="1266.7" y2="323.6" stroke="#333" stroke-width="0.6" opacity="0.6"/>
<text x="1270" y="332.8" font-size="25.5" fill="#111" textLength="15.6" lengthAdjust="spacingAndGlyphs">2</text>
<line x1="1258.8" y1="251.8" x2="1266.7" y2="251.8" stroke="#333" stroke-width="0.6" opacity="0.6"/>
<text x="1270" y="261" font-size="25.5" fill="#111" textLength="15.6" lengthAdjust="spacingAndGlyphs">3</text>
<line x1="1258.8" y1="180" x2="1266.7" y2="180" stroke="#333" stroke-width="0.6" opacity="0.6"/>
<text x="1270" y="189.2" font-size="25.5" fill="#111" textLength="15.6" lengthAdjust="spacingAndGlyphs">4</text>
<line x1="1258.8" y1="108.2" x2="1266.7" y2="108.2" stroke="#333" stroke-width="0.6" opacity="0.6"/>
<text x="1270" y="117.4" font-size="25.5" fill="#111" textLength="15.6" lengthAdjust="spacingAndGlyphs">5</text>
<path d="M1268.6 20.6 L1283.6 34.4 M1283.6 20.6 L1268.6 34.4" stroke="#111" stroke-width="2.1" fill="none"/>
<text x="1287.2" y="35" font-size="24.5" fill="#111" textLength="29.2" lengthAdjust="spacingAndGlyphs">10</text>
<text x="1319.8" y="22.6" font-size="18" fill="#111" textLength="12.4" lengthAdjust="spacingAndGlyphs">9</text>
<text transform="translate(1313.5 350) rotate(-90)" font-size="20" fill="#2a2a2a" textLength="222.5" lengthAdjust="spacingAndGlyphs">Von Misses Stress [MPa]</text>
<text class="ser" x="1340.65" y="470" font-size="41" fill="#0a0a0a" textLength="43.4">(c)</text>
<g id="pd">
<line x1="510.4" y1="501.4" x2="510.4" y2="917.6" stroke="#c8c8c8" stroke-width="1"/>
<line x1="575.1" y1="501.4" x2="575.1" y2="917.6" stroke="#c8c8c8" stroke-width="1"/>
<line x1="834.1" y1="501.4" x2="834.1" y2="917.6" stroke="#c8c8c8" stroke-width="1"/>
<line x1="898.9" y1="501.4" x2="898.9" y2="917.6" stroke="#c8c8c8" stroke-width="1"/>
<line x1="445.6" y1="834.4" x2="963.6" y2="834.4" stroke="#c8c8c8" stroke-width="1"/>
<line x1="445.6" y1="751.1" x2="963.6" y2="751.1" stroke="#c8c8c8" stroke-width="1"/>
<line x1="445.6" y1="667.9" x2="963.6" y2="667.9" stroke="#c8c8c8" stroke-width="1"/>
<line x1="445.6" y1="584.6" x2="963.6" y2="584.6" stroke="#c8c8c8" stroke-width="1"/>
<line x1="704.6" y1="501.4" x2="704.6" y2="917.6" stroke="#111" stroke-width="1.1"/>
<rect x="473.9" y="901.0" width="14.2" height="16.6" fill="#fc0204" stroke="#1c0000" stroke-width="1.15"/>
<rect x="492.0" y="845.6" width="14.2" height="72.0" fill="#fc0204" stroke="#1c0000" stroke-width="1.15"/>
<rect x="510.1" y="756.1" width="14.2" height="161.5" fill="#fc0204" stroke="#1c0000" stroke-width="1.15"/>
<rect x="528.2" y="801.9" width="14.2" height="115.7" fill="#fc0204" stroke="#1c0000" stroke-width="1.15"/>
<rect x="546.3" y="746.1" width="14.2" height="171.5" fill="#fc0204" stroke="#1c0000" stroke-width="1.15"/>
<rect x="564.4" y="665.4" width="14.2" height="252.2" fill="#fc0204" stroke="#1c0000" stroke-width="1.15"/>
<rect x="582.6" y="865.2" width="14.2" height="52.4" fill="#fc0204" stroke="#1c0000" stroke-width="1.15"/>
<rect x="600.7" y="684.5" width="14.2" height="233.1" fill="#fc0204" stroke="#1c0000" stroke-width="1.15"/>
<rect x="618.8" y="798.6" width="14.2" height="119.0" fill="#fc0204" stroke="#1c0000" stroke-width="1.15"/>
<rect x="636.9" y="781.9" width="14.2" height="135.7" fill="#fc0204" stroke="#1c0000" stroke-width="1.15"/>
<rect x="655.0" y="819.0" width="14.2" height="98.6" fill="#fc0204" stroke="#1c0000" stroke-width="1.15"/>
<rect x="673.1" y="783.6" width="14.2" height="134.0" fill="#fc0204" stroke="#1c0000" stroke-width="1.15"/>
<rect x="691.2" y="905.1" width="14.2" height="12.5" fill="#fc0204" stroke="#1c0000" stroke-width="1.15"/>
<rect x="709.3" y="806.5" width="14.2" height="111.1" fill="#fc0204" stroke="#1c0000" stroke-width="1.15"/>
<rect x="727.4" y="819.8" width="14.2" height="97.8" fill="#fc0204" stroke="#1c0000" stroke-width="1.15"/>
<rect x="745.5" y="844.3" width="14.2" height="73.3" fill="#fc0204" stroke="#1c0000" stroke-width="1.15"/>
<rect x="763.7" y="692.0" width="14.2" height="225.6" fill="#fc0204" stroke="#1c0000" stroke-width="1.15"/>
<rect x="781.8" y="774.4" width="14.2" height="143.2" fill="#fc0204" stroke="#1c0000" stroke-width="1.15"/>
<rect x="799.9" y="624.2" width="14.2" height="293.4" fill="#fc0204" stroke="#1c0000" stroke-width="1.15"/>
<rect x="818.0" y="670.4" width="14.2" height="247.2" fill="#fc0204" stroke="#1c0000" stroke-width="1.15"/>
<rect x="836.1" y="504.7" width="14.2" height="412.9" fill="#fc0204" stroke="#1c0000" stroke-width="1.15"/>
<rect x="854.2" y="597.1" width="14.2" height="320.5" fill="#fc0204" stroke="#1c0000" stroke-width="1.15"/>
<rect x="872.3" y="722.0" width="14.2" height="195.6" fill="#fc0204" stroke="#1c0000" stroke-width="1.15"/>
<rect x="890.4" y="806.1" width="14.2" height="111.5" fill="#fc0204" stroke="#1c0000" stroke-width="1.15"/>
<rect x="908.5" y="794.8" width="14.2" height="122.8" fill="#fc0204" stroke="#1c0000" stroke-width="1.15"/>
<rect x="926.6" y="888.5" width="14.2" height="29.1" fill="#fc0204" stroke="#1c0000" stroke-width="1.15"/>
<rect x="445.6" y="501.4" width="518" height="416.2" fill="none" stroke="#111" stroke-width="2"/>
<line x1="438.1" y1="917.6" x2="445.6" y2="917.6" stroke="#111" stroke-width="1.7"/>
<line x1="441.6" y1="876.0" x2="445.6" y2="876.0" stroke="#111" stroke-width="1.7"/>
<line x1="438.1" y1="834.4" x2="445.6" y2="834.4" stroke="#111" stroke-width="1.7"/>
<line x1="441.6" y1="792.7" x2="445.6" y2="792.7" stroke="#111" stroke-width="1.7"/>
<line x1="438.1" y1="751.1" x2="445.6" y2="751.1" stroke="#111" stroke-width="1.7"/>
<line x1="441.6" y1="709.5" x2="445.6" y2="709.5" stroke="#111" stroke-width="1.7"/>
<line x1="438.1" y1="667.9" x2="445.6" y2="667.9" stroke="#111" stroke-width="1.7"/>
<line x1="441.6" y1="626.3" x2="445.6" y2="626.3" stroke="#111" stroke-width="1.7"/>
<line x1="438.1" y1="584.6" x2="445.6" y2="584.6" stroke="#111" stroke-width="1.7"/>
<line x1="441.6" y1="543.0" x2="445.6" y2="543.0" stroke="#111" stroke-width="1.7"/>
<line x1="438.1" y1="501.4" x2="445.6" y2="501.4" stroke="#111" stroke-width="1.7"/>
<line x1="445.6" y1="917.6" x2="445.6" y2="926.1" stroke="#111" stroke-width="1.7"/>
<line x1="478.0" y1="917.6" x2="478.0" y2="922.1" stroke="#111" stroke-width="1.7"/>
<line x1="510.4" y1="917.6" x2="510.4" y2="926.1" stroke="#111" stroke-width="1.7"/>
<line x1="542.7" y1="917.6" x2="542.7" y2="922.1" stroke="#111" stroke-width="1.7"/>
<line x1="575.1" y1="917.6" x2="575.1" y2="926.1" stroke="#111" stroke-width="1.7"/>
<line x1="607.5" y1="917.6" x2="607.5" y2="922.1" stroke="#111" stroke-width="1.7"/>
<line x1="639.9" y1="917.6" x2="639.9" y2="926.1" stroke="#111" stroke-width="1.7"/>
<line x1="672.2" y1="917.6" x2="672.2" y2="922.1" stroke="#111" stroke-width="1.7"/>
<line x1="704.6" y1="917.6" x2="704.6" y2="926.1" stroke="#111" stroke-width="1.7"/>
<line x1="737.0" y1="917.6" x2="737.0" y2="922.1" stroke="#111" stroke-width="1.7"/>
<line x1="769.4" y1="917.6" x2="769.4" y2="926.1" stroke="#111" stroke-width="1.7"/>
<line x1="801.7" y1="917.6" x2="801.7" y2="922.1" stroke="#111" stroke-width="1.7"/>
<line x1="834.1" y1="917.6" x2="834.1" y2="926.1" stroke="#111" stroke-width="1.7"/>
<line x1="866.5" y1="917.6" x2="866.5" y2="922.1" stroke="#111" stroke-width="1.7"/>
<line x1="898.9" y1="917.6" x2="898.9" y2="926.1" stroke="#111" stroke-width="1.7"/>
<line x1="931.2" y1="917.6" x2="931.2" y2="922.1" stroke="#111" stroke-width="1.7"/>
<line x1="963.6" y1="917.6" x2="963.6" y2="926.1" stroke="#111" stroke-width="1.7"/>
<text x="430.8" y="926.2" font-size="24" font-weight="700" fill="#111" stroke="#111" stroke-width="0.45" text-anchor="end" textLength="13.5" lengthAdjust="spacingAndGlyphs">0</text>
<text x="430.8" y="843.0" font-size="24" font-weight="700" fill="#111" stroke="#111" stroke-width="0.45" text-anchor="end" textLength="29" lengthAdjust="spacingAndGlyphs">20</text>
<text x="430.8" y="759.7" font-size="24" font-weight="700" fill="#111" stroke="#111" stroke-width="0.45" text-anchor="end" textLength="29" lengthAdjust="spacingAndGlyphs">40</text>
<text x="430.8" y="676.5" font-size="24" font-weight="700" fill="#111" stroke="#111" stroke-width="0.45" text-anchor="end" textLength="29" lengthAdjust="spacingAndGlyphs">60</text>
<text x="430.8" y="593.2" font-size="24" font-weight="700" fill="#111" stroke="#111" stroke-width="0.45" text-anchor="end" textLength="29" lengthAdjust="spacingAndGlyphs">80</text>
<text x="430.8" y="510.0" font-size="24" font-weight="700" fill="#111" stroke="#111" stroke-width="0.45" text-anchor="end" textLength="43" lengthAdjust="spacingAndGlyphs">100</text>
<text x="445.6" y="953.2" font-size="24" font-weight="700" fill="#111" stroke="#111" stroke-width="0.45" text-anchor="middle" textLength="54.5" lengthAdjust="spacingAndGlyphs">-100</text>
<text x="510.4" y="953.2" font-size="24" font-weight="700" fill="#111" stroke="#111" stroke-width="0.45" text-anchor="middle" textLength="39" lengthAdjust="spacingAndGlyphs">-75</text>
<text x="575.1" y="953.2" font-size="24" font-weight="700" fill="#111" stroke="#111" stroke-width="0.45" text-anchor="middle" textLength="39.5" lengthAdjust="spacingAndGlyphs">-50</text>
<text x="639.9" y="953.2" font-size="24" font-weight="700" fill="#111" stroke="#111" stroke-width="0.45" text-anchor="middle" textLength="39" lengthAdjust="spacingAndGlyphs">-25</text>
<text x="704.6" y="953.2" font-size="24" font-weight="700" fill="#111" stroke="#111" stroke-width="0.45" text-anchor="middle" textLength="13" lengthAdjust="spacingAndGlyphs">0</text>
<text x="769.4" y="953.2" font-size="24" font-weight="700" fill="#111" stroke="#111" stroke-width="0.45" text-anchor="middle" textLength="29.5" lengthAdjust="spacingAndGlyphs">25</text>
<text x="834.1" y="953.2" font-size="24" font-weight="700" fill="#111" stroke="#111" stroke-width="0.45" text-anchor="middle" textLength="30" lengthAdjust="spacingAndGlyphs">50</text>
<text x="898.9" y="953.2" font-size="24" font-weight="700" fill="#111" stroke="#111" stroke-width="0.45" text-anchor="middle" textLength="28.5" lengthAdjust="spacingAndGlyphs">75</text>
<text x="963.6" y="953.2" font-size="24" font-weight="700" fill="#111" stroke="#111" stroke-width="0.45" text-anchor="middle" textLength="43" lengthAdjust="spacingAndGlyphs">100</text>
<text transform="translate(390.6 776) rotate(-90)" font-size="30" font-weight="700" fill="#111" stroke="#111" stroke-width="0.5" textLength="104.5" lengthAdjust="spacingAndGlyphs">Counts</text>
<text x="605.4" y="990.2" font-size="30" font-weight="700" fill="#111" stroke="#111" stroke-width="0.5" textLength="86" lengthAdjust="spacingAndGlyphs">Angle</text>
<text x="702.3" y="990.2" font-size="30" font-weight="700" fill="#111" stroke="#111" stroke-width="0.5">(</text>
<text x="713.2" y="976.8" font-size="23" font-weight="700" fill="#111" stroke="#111" stroke-width="0.4">o</text>
<text x="727.2" y="990.2" font-size="30" font-weight="700" fill="#111" stroke="#111" stroke-width="0.5">)</text>
<rect x="494.5" y="529" width="192.5" height="49.6" fill="#000"/>
<rect x="489" y="522.8" width="192.8" height="49.3" fill="#fff" stroke="#444" stroke-width="1"/>
<text x="497.2" y="557.9" font-size="24" font-weight="700" fill="#111" stroke="#111" stroke-width="0.45" textLength="176.5" lengthAdjust="spacingAndGlyphs">Axial direction</text>
<rect x="518.3" y="584.6" width="131.6" height="37.6" fill="#fff" stroke="#555" stroke-width="1"/>
<text x="528.7" y="611.6" font-size="22.5" font-weight="700" font-style="italic" fill="#111" stroke="#111" stroke-width="0.4" textLength="111.6" lengthAdjust="spacingAndGlyphs">- isostatic</text>
</g>
<text class="ser" x="1014.05" y="1013.9" font-size="41" fill="#0a0a0a" textLength="49.6">(d)</text>
</svg></body></html>
